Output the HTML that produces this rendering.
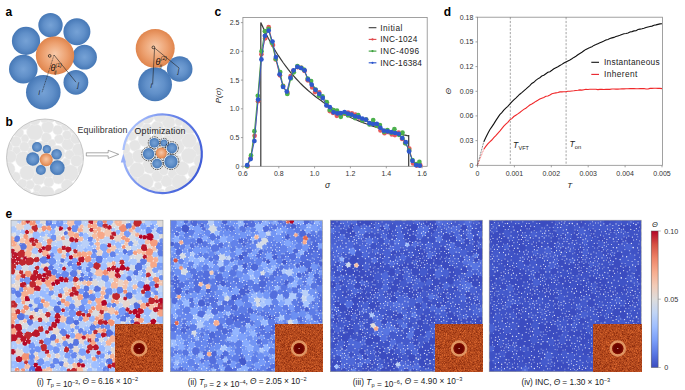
<!DOCTYPE html>
<html><head><meta charset="utf-8"><style>
html,body{margin:0;padding:0;background:#fff;}
svg{display:block;font-family:"Liberation Sans", sans-serif;}
</style></head><body>
<svg width="685" height="390" viewBox="0 0 685 390">
<defs>
<radialGradient id="gb" cx="0.5" cy="0.5" r="0.5" fx="0.5" fy="0.5">
 <stop offset="0" stop-color="#76a2d6"/><stop offset="0.55" stop-color="#6190c9"/><stop offset="1" stop-color="#4678b6"/></radialGradient>
<radialGradient id="go" cx="0.5" cy="0.5" r="0.5" fx="0.5" fy="0.45">
 <stop offset="0" stop-color="#f7c9a8"/><stop offset="0.6" stop-color="#eda272"/><stop offset="1" stop-color="#e0854d"/></radialGradient>
<linearGradient id="ring" x1="0" y1="0.3" x2="1" y2="0.7">
 <stop offset="0" stop-color="#b0c6ff"/><stop offset="0.45" stop-color="#6a86ea"/><stop offset="1" stop-color="#3d5ad6"/></linearGradient>
<linearGradient id="cbar" x1="0" y1="1" x2="0" y2="0">
<stop offset="0.00" stop-color="#3b4cc0"/><stop offset="0.10" stop-color="#5977e3"/><stop offset="0.20" stop-color="#7b9ff9"/><stop offset="0.30" stop-color="#9ebeff"/><stop offset="0.40" stop-color="#c0d4f5"/><stop offset="0.50" stop-color="#dddcdc"/><stop offset="0.60" stop-color="#f2cbb7"/><stop offset="0.70" stop-color="#f7ac8e"/><stop offset="0.80" stop-color="#ee8468"/><stop offset="0.90" stop-color="#d65244"/><stop offset="1.00" stop-color="#b40426"/>
</linearGradient>
<filter id="noise" x="0" y="0" width="100%" height="100%" color-interpolation-filters="sRGB">
 <feTurbulence type="fractalNoise" baseFrequency="1.5" numOctaves="2" seed="3" result="t"/>
 <feColorMatrix in="t" type="matrix" values="0.6 0 0 0 0.40  0.45 0 0 0 0.06  0.25 0 0 0 -0.01  0 0 0 0 1"/>
</filter>
<filter id="blur1" x="-20%" y="-20%" width="140%" height="140%"><feGaussianBlur stdDeviation="0.6"/></filter>
</defs>
<text x="5.6" y="16.2" font-size="12" text-anchor="start" fill="#000" font-weight="bold" font-style="normal" >a</text>
<text x="5.6" y="126.3" font-size="12" text-anchor="start" fill="#000" font-weight="bold" font-style="normal" >b</text>
<text x="214.6" y="16.2" font-size="12" text-anchor="start" fill="#000" font-weight="bold" font-style="normal" >c</text>
<text x="443.8" y="16.2" font-size="12" text-anchor="start" fill="#000" font-weight="bold" font-style="normal" >d</text>
<text x="5.6" y="217.6" font-size="12" text-anchor="start" fill="#000" font-weight="bold" font-style="normal" >e</text>
<circle cx="50.5" cy="25.1" r="12.2" fill="url(#gb)"/>
<circle cx="76.9" cy="31.8" r="13.5" fill="url(#gb)"/>
<circle cx="26" cy="40.9" r="14.1" fill="url(#gb)"/>
<circle cx="84.5" cy="57.2" r="12.4" fill="url(#gb)"/>
<circle cx="23.3" cy="69.1" r="14.3" fill="url(#gb)"/>
<circle cx="43.3" cy="92.2" r="17.3" fill="url(#gb)"/>
<circle cx="75.9" cy="82.3" r="12.4" fill="url(#gb)"/>
<circle cx="55" cy="55.6" r="19.2" fill="url(#go)"/>
<path d="M54,55 L42,92.4" stroke="#222" stroke-width="0.6" fill="none" stroke-dasharray="1.1,0.6"/>
<path d="M54,55 L76,82.2" stroke="#222" stroke-width="0.6" fill="none"/>
<circle cx="49.7" cy="55.9" r="1.35" fill="none" stroke="#111" stroke-width="0.7"/>
<text x="50.4" y="70.9" font-size="9" text-anchor="start" fill="#111" font-weight="normal" font-style="italic" >θ</text>
<text x="55.6" y="66.6" font-size="5" text-anchor="start" fill="#111" font-weight="normal" font-style="italic" >(1)</text>
<text x="54.2" y="74.0" font-size="5" text-anchor="start" fill="#111" font-weight="normal" font-style="italic" >ij</text>
<text x="38.4" y="95.4" font-size="6.5" text-anchor="start" fill="#111" font-weight="normal" font-style="italic" >i</text>
<text x="77.4" y="86.6" font-size="6.5" text-anchor="start" fill="#111" font-weight="normal" font-style="italic" >j</text>
<circle cx="155.2" cy="48.4" r="19.5" fill="url(#go)"/>
<circle cx="155.1" cy="84.4" r="16.9" fill="url(#gb)"/>
<circle cx="179.7" cy="69.0" r="12.8" fill="url(#gb)"/>
<path d="M154.6,48 L152.6,84.5 M154.6,48 L179.2,68.1" stroke="#222" stroke-width="0.6" fill="none"/>
<circle cx="153.4" cy="47.4" r="1.35" fill="none" stroke="#111" stroke-width="0.7"/>
<text x="155.6" y="64.6" font-size="9" text-anchor="start" fill="#111" font-weight="normal" font-style="italic" >θ</text>
<text x="160.8" y="60.2" font-size="5" text-anchor="start" fill="#111" font-weight="normal" font-style="italic" >(2)</text>
<text x="159.6" y="67.8" font-size="5" text-anchor="start" fill="#111" font-weight="normal" font-style="italic" >ij</text>
<text x="150.6" y="88.0" font-size="6.5" text-anchor="start" fill="#111" font-weight="normal" font-style="italic" >i</text>
<text x="177.8" y="73.2" font-size="6.5" text-anchor="start" fill="#111" font-weight="normal" font-style="italic" >j</text>
<circle cx="45" cy="157.5" r="38.5" fill="#ffffff"/>
<clipPath id="cp11"><circle cx="45" cy="157.5" r="38.5"/></clipPath><g clip-path="url(#cp11)" fill="#e5e5e5" stroke="#efefef" stroke-width="0.6">
<circle cx="24.0" cy="194.5" r="7.5"/>
<circle cx="16.5" cy="150.4" r="4.0"/>
<circle cx="67.8" cy="144.3" r="6.0"/>
<circle cx="18.6" cy="132.8" r="5.1"/>
<circle cx="58.4" cy="166.5" r="6.0"/>
<circle cx="25.0" cy="138.4" r="3.9"/>
<circle cx="37.3" cy="188.6" r="3.9"/>
<circle cx="51.1" cy="118.3" r="4.2"/>
<circle cx="46.4" cy="194.0" r="8.1"/>
<circle cx="30.0" cy="184.7" r="4.6"/>
<circle cx="76.1" cy="138.4" r="5.6"/>
<circle cx="34.8" cy="132.1" r="8.2"/>
<circle cx="37.4" cy="167.1" r="6.2"/>
<circle cx="65.5" cy="126.5" r="4.3"/>
<circle cx="80.5" cy="118.8" r="4.9"/>
<circle cx="84.3" cy="141.9" r="4.0"/>
<circle cx="6.0" cy="118.5" r="4.5"/>
<circle cx="14.2" cy="118.6" r="4.6"/>
<circle cx="84.4" cy="157.0" r="3.8"/>
<circle cx="24.1" cy="122.6" r="7.0"/>
<circle cx="42.5" cy="148.5" r="7.4"/>
<circle cx="16.0" cy="141.5" r="5.3"/>
<circle cx="60.6" cy="119.4" r="5.8"/>
<circle cx="70.9" cy="195.7" r="5.6"/>
<circle cx="75.1" cy="128.3" r="5.9"/>
<circle cx="70.2" cy="173.1" r="8.3"/>
<circle cx="10.2" cy="127.0" r="5.5"/>
<circle cx="31.7" cy="151.3" r="4.1"/>
<circle cx="47.1" cy="160.0" r="6.1"/>
<circle cx="47.6" cy="127.1" r="6.1"/>
<circle cx="82.2" cy="181.5" r="7.1"/>
<circle cx="14.2" cy="188.3" r="6.0"/>
<circle cx="67.0" cy="135.0" r="4.6"/>
<circle cx="66.3" cy="162.0" r="3.9"/>
<circle cx="46.3" cy="137.7" r="5.0"/>
<circle cx="6.9" cy="180.6" r="5.8"/>
<circle cx="78.4" cy="149.8" r="6.3"/>
<circle cx="58.3" cy="178.0" r="6.0"/>
<circle cx="6.8" cy="136.3" r="5.6"/>
<circle cx="6.8" cy="195.7" r="5.7"/>
<circle cx="32.3" cy="143.7" r="4.4"/>
<circle cx="69.6" cy="154.8" r="4.8"/>
<circle cx="35.6" cy="196.2" r="4.9"/>
<circle cx="51.9" cy="143.2" r="3.9"/>
<circle cx="23.4" cy="159.3" r="7.9"/>
<circle cx="36.3" cy="157.2" r="4.0"/>
<circle cx="57.0" cy="153.3" r="8.0"/>
<circle cx="60.5" cy="195.0" r="6.7"/>
<circle cx="84.1" cy="126.7" r="4.3"/>
<circle cx="59.1" cy="139.1" r="4.7"/>
<circle cx="44.1" cy="118.5" r="4.4"/>
<circle cx="83.1" cy="169.6" r="5.7"/>
<circle cx="84.4" cy="134.5" r="3.9"/>
<circle cx="24.4" cy="146.7" r="4.9"/>
<circle cx="38.8" cy="178.4" r="6.4"/>
<circle cx="48.8" cy="182.0" r="5.1"/>
<circle cx="6.9" cy="147.3" r="5.8"/>
<circle cx="15.5" cy="176.9" r="5.0"/>
<circle cx="76.5" cy="160.8" r="5.8"/>
<circle cx="7.8" cy="169.3" r="7.2"/>
<circle cx="48.2" cy="172.0" r="6.0"/>
<circle cx="27.2" cy="172.7" r="7.4"/>
<circle cx="82.3" cy="194.8" r="7.0"/>
<circle cx="70.6" cy="119.0" r="5.2"/>
<circle cx="57.7" cy="130.1" r="4.9"/>
<circle cx="10.3" cy="156.8" r="6.1"/>
<circle cx="67.2" cy="185.5" r="6.0"/>
<circle cx="22.3" cy="183.6" r="4.6"/>
<circle cx="34.5" cy="119.4" r="5.8"/>
</g>
<circle cx="45" cy="157.5" r="38.5" fill="none" stroke="#a8a8a8" stroke-width="0.6"/>
<circle cx="37" cy="147" r="5" fill="url(#gb)"/>
<circle cx="46.9" cy="149.3" r="4.2" fill="url(#gb)"/>
<circle cx="56.6" cy="154.3" r="5.3" fill="url(#gb)"/>
<circle cx="32.8" cy="159" r="6.7" fill="url(#gb)"/>
<circle cx="57.3" cy="167.7" r="7.4" fill="url(#gb)"/>
<circle cx="40.9" cy="170" r="5" fill="url(#gb)"/>
<circle cx="46.2" cy="159.7" r="6.5" fill="url(#go)"/>
<text x="77.5" y="133.0" font-size="8.8" text-anchor="start" fill="#333" font-weight="normal" font-style="normal" textLength="50.0">Equilibration</text>
<path d="M86.3,152.8 L108.2,152.8 L108.2,150.3 L118.7,154.3 L108.2,158.4 L108.2,155.9 L86.3,155.9 Z" fill="#fff" stroke="#555" stroke-width="0.5"/>
<circle cx="162.5" cy="153.6" r="39.3" fill="#ffffff"/>
<clipPath id="cp12"><circle cx="162.5" cy="153.6" r="39.3"/></clipPath><g clip-path="url(#cp12)" fill="#e5e5e5" stroke="#efefef" stroke-width="0.6">
<circle cx="179.2" cy="192.8" r="4.2"/>
<circle cx="124.2" cy="172.5" r="5.5"/>
<circle cx="123.7" cy="131.1" r="4.8"/>
<circle cx="123.6" cy="122.7" r="4.6"/>
<circle cx="124.6" cy="191.5" r="6.1"/>
<circle cx="150.6" cy="165.5" r="8.1"/>
<circle cx="176.3" cy="146.7" r="8.0"/>
<circle cx="166.8" cy="181.1" r="6.0"/>
<circle cx="199.8" cy="148.5" r="6.9"/>
<circle cx="153.8" cy="192.1" r="5.1"/>
<circle cx="172.5" cy="173.8" r="4.6"/>
<circle cx="188.0" cy="192.0" r="5.4"/>
<circle cx="166.9" cy="155.9" r="5.6"/>
<circle cx="199.4" cy="190.5" r="7.5"/>
<circle cx="133.4" cy="180.5" r="4.9"/>
<circle cx="157.6" cy="137.7" r="5.4"/>
<circle cx="191.4" cy="182.4" r="4.9"/>
<circle cx="201.7" cy="179.7" r="4.1"/>
<circle cx="139.8" cy="123.7" r="3.9"/>
<circle cx="131.5" cy="126.6" r="4.4"/>
<circle cx="157.2" cy="176.3" r="5.7"/>
<circle cx="189.1" cy="140.5" r="7.5"/>
<circle cx="158.2" cy="185.7" r="3.8"/>
<circle cx="147.1" cy="128.6" r="5.1"/>
<circle cx="134.2" cy="116.2" r="6.8"/>
<circle cx="145.4" cy="181.7" r="8.0"/>
<circle cx="179.0" cy="121.7" r="4.2"/>
<circle cx="161.8" cy="162.9" r="3.9"/>
<circle cx="174.8" cy="114.4" r="4.1"/>
<circle cx="131.8" cy="136.2" r="4.6"/>
<circle cx="157.4" cy="155.1" r="4.7"/>
<circle cx="134.9" cy="145.5" r="5.6"/>
<circle cx="161.3" cy="193.0" r="3.9"/>
<circle cx="137.0" cy="170.1" r="7.6"/>
<circle cx="170.6" cy="191.6" r="5.9"/>
<circle cx="200.9" cy="115.2" r="5.4"/>
<circle cx="126.0" cy="159.3" r="8.2"/>
<circle cx="153.5" cy="146.9" r="5.0"/>
<circle cx="163.8" cy="170.8" r="4.5"/>
<circle cx="168.6" cy="122.2" r="6.4"/>
<circle cx="194.7" cy="172.3" r="6.8"/>
<circle cx="157.2" cy="127.3" r="6.2"/>
<circle cx="146.8" cy="116.5" r="7.2"/>
<circle cx="145.1" cy="192.9" r="4.1"/>
<circle cx="176.9" cy="133.5" r="7.7"/>
<circle cx="201.5" cy="124.6" r="4.5"/>
<circle cx="124.4" cy="148.5" r="5.7"/>
<circle cx="149.4" cy="153.5" r="4.4"/>
<circle cx="124.1" cy="181.4" r="5.3"/>
<circle cx="188.9" cy="155.7" r="7.8"/>
<circle cx="162.4" cy="147.1" r="4.7"/>
<circle cx="190.2" cy="125.8" r="8.2"/>
<circle cx="171.2" cy="164.1" r="5.2"/>
<circle cx="179.4" cy="181.8" r="7.7"/>
<circle cx="183.5" cy="115.1" r="5.2"/>
<circle cx="123.7" cy="138.6" r="4.8"/>
<circle cx="139.1" cy="156.2" r="6.8"/>
<circle cx="201.5" cy="134.6" r="4.5"/>
<circle cx="136.3" cy="191.0" r="6.8"/>
<circle cx="138.3" cy="131.7" r="4.5"/>
<circle cx="123.7" cy="114.8" r="4.8"/>
<circle cx="200.2" cy="161.1" r="6.4"/>
<circle cx="167.2" cy="139.9" r="4.8"/>
<circle cx="159.8" cy="115.9" r="6.4"/>
<circle cx="165.6" cy="131.6" r="4.2"/>
<circle cx="177.3" cy="159.2" r="4.2"/>
<circle cx="192.3" cy="114.3" r="4.1"/>
<circle cx="182.1" cy="168.6" r="7.1"/>
<circle cx="144.9" cy="139.6" r="6.8"/>
</g>
<path d="M 123.4,150.0 A 39.3 39.3 0 1 1 124.1,162.0" fill="none" stroke="url(#ring)" stroke-width="2.2"/>
<path d="M123.3,153.6 L120.8,162.6 L126.0,162.6 Z" fill="#98b0f8"/>
<text x="134.6" y="133.6" font-size="8.8" text-anchor="start" fill="#222" font-weight="normal" font-style="normal" textLength="50.8">Optimization</text>
<circle cx="154.3" cy="142.8" r="5.699999999999999" fill="#f6f6f6"/>
<circle cx="164" cy="143" r="4.3" fill="#f6f6f6"/>
<circle cx="171.9" cy="148.1" r="6.1" fill="#f6f6f6"/>
<circle cx="148.6" cy="153.9" r="6.6" fill="#f6f6f6"/>
<circle cx="171" cy="161.7" r="7.5" fill="#f6f6f6"/>
<circle cx="157.1" cy="163.6" r="5.699999999999999" fill="#f6f6f6"/>
<circle cx="154.3" cy="142.8" r="4.8999999999999995" fill="url(#gb)"/>
<circle cx="164" cy="143" r="3.5" fill="url(#gb)"/>
<circle cx="171.9" cy="148.1" r="5.3" fill="url(#gb)"/>
<circle cx="148.6" cy="153.9" r="5.8" fill="url(#gb)"/>
<circle cx="171" cy="161.7" r="6.7" fill="url(#gb)"/>
<circle cx="157.1" cy="163.6" r="4.8999999999999995" fill="url(#gb)"/>
<circle cx="154.3" cy="142.8" r="6.0" fill="none" stroke="#111" stroke-width="0.75" stroke-dasharray="1.5,1"/>
<circle cx="164" cy="143" r="4.6000000000000005" fill="none" stroke="#111" stroke-width="0.75" stroke-dasharray="1.5,1"/>
<circle cx="171.9" cy="148.1" r="6.4" fill="none" stroke="#111" stroke-width="0.75" stroke-dasharray="1.5,1"/>
<circle cx="148.6" cy="153.9" r="6.9" fill="none" stroke="#111" stroke-width="0.75" stroke-dasharray="1.5,1"/>
<circle cx="171" cy="161.7" r="7.800000000000001" fill="none" stroke="#111" stroke-width="0.75" stroke-dasharray="1.5,1"/>
<circle cx="157.1" cy="163.6" r="6.0" fill="none" stroke="#111" stroke-width="0.75" stroke-dasharray="1.5,1"/>
<circle cx="161.3" cy="153" r="5.5" fill="url(#go)"/>
<rect x="242.9" y="17.4" width="184.29999999999998" height="148.9" fill="none" stroke="#8a8a8a" stroke-width="0.8"/>
<line x1="240.9" y1="166.3" x2="242.9" y2="166.3" stroke="#8a8a8a" stroke-width="0.8"/>
<text x="239.4" y="168.8" font-size="7" text-anchor="end" fill="#333" font-weight="normal" font-style="normal" >0</text>
<line x1="240.9" y1="137.6" x2="242.9" y2="137.6" stroke="#8a8a8a" stroke-width="0.8"/>
<text x="239.4" y="140.05" font-size="7" text-anchor="end" fill="#333" font-weight="normal" font-style="normal" >0.5</text>
<line x1="240.9" y1="108.8" x2="242.9" y2="108.8" stroke="#8a8a8a" stroke-width="0.8"/>
<text x="239.4" y="111.30000000000001" font-size="7" text-anchor="end" fill="#333" font-weight="normal" font-style="normal" >1.0</text>
<line x1="240.9" y1="80.1" x2="242.9" y2="80.1" stroke="#8a8a8a" stroke-width="0.8"/>
<text x="239.4" y="82.55000000000001" font-size="7" text-anchor="end" fill="#333" font-weight="normal" font-style="normal" >1.5</text>
<line x1="240.9" y1="51.3" x2="242.9" y2="51.3" stroke="#8a8a8a" stroke-width="0.8"/>
<text x="239.4" y="53.80000000000001" font-size="7" text-anchor="end" fill="#333" font-weight="normal" font-style="normal" >2.0</text>
<line x1="240.9" y1="22.6" x2="242.9" y2="22.6" stroke="#8a8a8a" stroke-width="0.8"/>
<text x="239.4" y="25.05000000000001" font-size="7" text-anchor="end" fill="#333" font-weight="normal" font-style="normal" >2.5</text>
<line x1="242.9" y1="166.3" x2="242.9" y2="168.3" stroke="#8a8a8a" stroke-width="0.8"/>
<text x="242.9" y="176.4" font-size="7" text-anchor="middle" fill="#333" font-weight="normal" font-style="normal" >0.6</text>
<line x1="278.8" y1="166.3" x2="278.8" y2="168.3" stroke="#8a8a8a" stroke-width="0.8"/>
<text x="278.75" y="176.4" font-size="7" text-anchor="middle" fill="#333" font-weight="normal" font-style="normal" >0.8</text>
<line x1="314.6" y1="166.3" x2="314.6" y2="168.3" stroke="#8a8a8a" stroke-width="0.8"/>
<text x="314.6" y="176.4" font-size="7" text-anchor="middle" fill="#333" font-weight="normal" font-style="normal" >1.0</text>
<line x1="350.4" y1="166.3" x2="350.4" y2="168.3" stroke="#8a8a8a" stroke-width="0.8"/>
<text x="350.45" y="176.4" font-size="7" text-anchor="middle" fill="#333" font-weight="normal" font-style="normal" >1.2</text>
<line x1="386.3" y1="166.3" x2="386.3" y2="168.3" stroke="#8a8a8a" stroke-width="0.8"/>
<text x="386.29999999999995" y="176.4" font-size="7" text-anchor="middle" fill="#333" font-weight="normal" font-style="normal" >1.4</text>
<line x1="422.1" y1="166.3" x2="422.1" y2="168.3" stroke="#8a8a8a" stroke-width="0.8"/>
<text x="422.15" y="176.4" font-size="7" text-anchor="middle" fill="#333" font-weight="normal" font-style="normal" >1.6</text>
<text x="327.6" y="188.2" font-size="8.5" text-anchor="middle" fill="#222" font-weight="normal" font-style="italic" >σ</text>
<text x="0" y="0" font-size="8" font-style="italic" fill="#222" text-anchor="middle" transform="translate(220.6,95.5) rotate(-90)">P(σ)</text>
<polyline points="260.8,166.3 260.8,22.6 263.3,28.1 265.8,33.4 268.3,38.3 270.9,43.0 273.4,47.5 275.9,51.7 278.4,55.7 280.9,59.4 283.4,63.0 285.9,66.4 288.4,69.7 290.9,72.8 293.4,75.7 295.9,78.5 298.4,81.2 300.9,83.8 303.4,86.2 305.9,88.5 308.4,90.8 311.0,92.9 313.5,95.0 316.0,96.9 318.5,98.8 321.0,100.6 323.5,102.4 326.0,104.0 328.5,105.6 331.0,107.2 333.5,108.7 336.0,110.1 338.5,111.5 341.0,112.8 343.5,114.1 346.0,115.3 348.6,116.5 351.1,117.7 353.6,118.8 356.1,119.8 358.6,120.9 361.1,121.9 363.6,122.9 366.1,123.8 368.6,124.7 371.1,125.6 373.6,126.4 376.1,127.3 378.6,128.1 381.1,128.8 383.6,129.6 386.1,130.3 388.7,131.0 391.2,131.7 393.7,132.4 396.2,133.0 398.7,133.7 401.2,134.3 403.7,134.9 406.2,135.4 408.7,136.0 408.7,135.0 408.7,166.3" fill="none" stroke="#3a3a3a" stroke-width="1.2"/>
<polyline points="247.6,166.3 250.6,158.3 254.6,135.8 258.0,101.2 261.4,54.2 265.2,38.3 268.7,27.2 273.0,45.0 275.7,59.4 279.9,75.3 283.1,85.8 287.4,92.7 290.7,76.1 293.2,70.8 297.9,67.2 301.3,67.9 304.6,70.9 307.7,80.3 312.2,87.4 315.0,92.1 319.2,92.4 322.3,97.3 326.9,105.3 329.8,111.1 332.9,112.8 336.8,115.8 340.6,115.3 344.4,113.7 348.0,112.5 351.9,113.3 355.4,114.6 358.5,117.3 361.7,119.4 366.1,119.8 369.9,123.9 372.9,123.5 376.6,125.5 380.5,130.4 384.5,133.2 388.2,132.1 391.8,134.5 394.9,135.1 398.6,132.6 402.0,138.8 405.1,143.0 409.3,148.7 413.1,163.4 416.9,165.6 420.3,165.2" fill="none" stroke="#e05050" stroke-width="0.9"/>
<g fill="#e8595b"><circle cx="247.6" cy="166.3" r="2.35"/><circle cx="250.6" cy="158.3" r="2.35"/><circle cx="254.6" cy="135.8" r="2.35"/><circle cx="258.0" cy="101.2" r="2.35"/><circle cx="261.4" cy="54.2" r="2.35"/><circle cx="265.2" cy="38.3" r="2.35"/><circle cx="268.7" cy="27.2" r="2.35"/><circle cx="273.0" cy="45.0" r="2.35"/><circle cx="275.7" cy="59.4" r="2.35"/><circle cx="279.9" cy="75.3" r="2.35"/><circle cx="283.1" cy="85.8" r="2.35"/><circle cx="287.4" cy="92.7" r="2.35"/><circle cx="290.7" cy="76.1" r="2.35"/><circle cx="293.2" cy="70.8" r="2.35"/><circle cx="297.9" cy="67.2" r="2.35"/><circle cx="301.3" cy="67.9" r="2.35"/><circle cx="304.6" cy="70.9" r="2.35"/><circle cx="307.7" cy="80.3" r="2.35"/><circle cx="312.2" cy="87.4" r="2.35"/><circle cx="315.0" cy="92.1" r="2.35"/><circle cx="319.2" cy="92.4" r="2.35"/><circle cx="322.3" cy="97.3" r="2.35"/><circle cx="326.9" cy="105.3" r="2.35"/><circle cx="329.8" cy="111.1" r="2.35"/><circle cx="332.9" cy="112.8" r="2.35"/><circle cx="336.8" cy="115.8" r="2.35"/><circle cx="340.6" cy="115.3" r="2.35"/><circle cx="344.4" cy="113.7" r="2.35"/><circle cx="348.0" cy="112.5" r="2.35"/><circle cx="351.9" cy="113.3" r="2.35"/><circle cx="355.4" cy="114.6" r="2.35"/><circle cx="358.5" cy="117.3" r="2.35"/><circle cx="361.7" cy="119.4" r="2.35"/><circle cx="366.1" cy="119.8" r="2.35"/><circle cx="369.9" cy="123.9" r="2.35"/><circle cx="372.9" cy="123.5" r="2.35"/><circle cx="376.6" cy="125.5" r="2.35"/><circle cx="380.5" cy="130.4" r="2.35"/><circle cx="384.5" cy="133.2" r="2.35"/><circle cx="388.2" cy="132.1" r="2.35"/><circle cx="391.8" cy="134.5" r="2.35"/><circle cx="394.9" cy="135.1" r="2.35"/><circle cx="398.6" cy="132.6" r="2.35"/><circle cx="402.0" cy="138.8" r="2.35"/><circle cx="405.1" cy="143.0" r="2.35"/><circle cx="409.3" cy="148.7" r="2.35"/><circle cx="413.1" cy="163.4" r="2.35"/><circle cx="416.9" cy="165.6" r="2.35"/><circle cx="420.3" cy="165.2" r="2.35"/></g>
<polyline points="247.1,166.1 251.0,155.4 254.4,131.2 257.8,95.8 261.5,51.3 264.9,31.2 268.6,28.8 271.8,42.8 275.7,59.0 280.2,72.1 283.0,86.1 287.3,94.0 290.8,78.4 293.8,72.3 297.4,66.0 301.3,67.9 303.9,69.7 307.7,78.5 311.1,81.0 315.6,89.6 319.0,95.7 322.5,96.3 326.8,102.2 329.7,110.0 333.4,110.1 337.0,110.6 340.8,116.8 344.6,113.0 347.9,115.3 350.9,115.1 355.1,118.1 358.2,115.0 362.3,120.4 366.2,119.5 369.5,124.4 373.2,120.1 376.9,125.7 379.9,125.1 384.1,131.8 387.4,130.1 391.2,132.7 394.4,129.2 399.2,134.9 402.5,132.7 405.4,143.3 409.1,150.4 412.4,160.1 416.2,164.1 419.4,161.9" fill="none" stroke="#3ca03c" stroke-width="0.9"/>
<g fill="#4cb04c"><circle cx="247.1" cy="166.1" r="2.35"/><circle cx="251.0" cy="155.4" r="2.35"/><circle cx="254.4" cy="131.2" r="2.35"/><circle cx="257.8" cy="95.8" r="2.35"/><circle cx="261.5" cy="51.3" r="2.35"/><circle cx="264.9" cy="31.2" r="2.35"/><circle cx="268.6" cy="28.8" r="2.35"/><circle cx="271.8" cy="42.8" r="2.35"/><circle cx="275.7" cy="59.0" r="2.35"/><circle cx="280.2" cy="72.1" r="2.35"/><circle cx="283.0" cy="86.1" r="2.35"/><circle cx="287.3" cy="94.0" r="2.35"/><circle cx="290.8" cy="78.4" r="2.35"/><circle cx="293.8" cy="72.3" r="2.35"/><circle cx="297.4" cy="66.0" r="2.35"/><circle cx="301.3" cy="67.9" r="2.35"/><circle cx="303.9" cy="69.7" r="2.35"/><circle cx="307.7" cy="78.5" r="2.35"/><circle cx="311.1" cy="81.0" r="2.35"/><circle cx="315.6" cy="89.6" r="2.35"/><circle cx="319.0" cy="95.7" r="2.35"/><circle cx="322.5" cy="96.3" r="2.35"/><circle cx="326.8" cy="102.2" r="2.35"/><circle cx="329.7" cy="110.0" r="2.35"/><circle cx="333.4" cy="110.1" r="2.35"/><circle cx="337.0" cy="110.6" r="2.35"/><circle cx="340.8" cy="116.8" r="2.35"/><circle cx="344.6" cy="113.0" r="2.35"/><circle cx="347.9" cy="115.3" r="2.35"/><circle cx="350.9" cy="115.1" r="2.35"/><circle cx="355.1" cy="118.1" r="2.35"/><circle cx="358.2" cy="115.0" r="2.35"/><circle cx="362.3" cy="120.4" r="2.35"/><circle cx="366.2" cy="119.5" r="2.35"/><circle cx="369.5" cy="124.4" r="2.35"/><circle cx="373.2" cy="120.1" r="2.35"/><circle cx="376.9" cy="125.7" r="2.35"/><circle cx="379.9" cy="125.1" r="2.35"/><circle cx="384.1" cy="131.8" r="2.35"/><circle cx="387.4" cy="130.1" r="2.35"/><circle cx="391.2" cy="132.7" r="2.35"/><circle cx="394.4" cy="129.2" r="2.35"/><circle cx="399.2" cy="134.9" r="2.35"/><circle cx="402.5" cy="132.7" r="2.35"/><circle cx="405.4" cy="143.3" r="2.35"/><circle cx="409.1" cy="150.4" r="2.35"/><circle cx="412.4" cy="160.1" r="2.35"/><circle cx="416.2" cy="164.1" r="2.35"/><circle cx="419.4" cy="161.9" r="2.35"/></g>
<polyline points="247.2,165.2 250.6,159.1 254.4,141.0 258.1,99.6 261.4,59.4 264.9,35.8 268.7,30.6 272.5,41.5 275.9,57.1 279.6,74.3 283.1,87.0 286.8,91.6 290.4,77.8 293.6,70.3 297.4,66.8 301.0,68.0 304.6,70.3 308.1,79.5 311.7,84.7 315.5,89.8 319.3,93.9 322.7,97.9 326.4,105.4 329.8,107.1 333.6,112.3 337.4,113.4 340.8,113.1 344.5,112.0 347.9,113.7 351.5,114.6 355.1,116.3 358.9,117.1 362.3,118.6 365.9,119.7 369.5,123.2 373.0,124.0 376.8,123.8 380.4,127.8 383.8,130.7 387.7,131.4 391.5,132.2 395.1,133.0 398.7,133.8 402.3,138.1 405.8,142.2 409.1,151.4 412.5,160.9 416.2,165.2 419.8,165.7" fill="none" stroke="#2a55cc" stroke-width="0.9"/>
<g fill="#2f58cc"><circle cx="247.2" cy="165.2" r="2.35"/><circle cx="250.6" cy="159.1" r="2.35"/><circle cx="254.4" cy="141.0" r="2.35"/><circle cx="258.1" cy="99.6" r="2.35"/><circle cx="261.4" cy="59.4" r="2.35"/><circle cx="264.9" cy="35.8" r="2.35"/><circle cx="268.7" cy="30.6" r="2.35"/><circle cx="272.5" cy="41.5" r="2.35"/><circle cx="275.9" cy="57.1" r="2.35"/><circle cx="279.6" cy="74.3" r="2.35"/><circle cx="283.1" cy="87.0" r="2.35"/><circle cx="286.8" cy="91.6" r="2.35"/><circle cx="290.4" cy="77.8" r="2.35"/><circle cx="293.6" cy="70.3" r="2.35"/><circle cx="297.4" cy="66.8" r="2.35"/><circle cx="301.0" cy="68.0" r="2.35"/><circle cx="304.6" cy="70.3" r="2.35"/><circle cx="308.1" cy="79.5" r="2.35"/><circle cx="311.7" cy="84.7" r="2.35"/><circle cx="315.5" cy="89.8" r="2.35"/><circle cx="319.3" cy="93.9" r="2.35"/><circle cx="322.7" cy="97.9" r="2.35"/><circle cx="326.4" cy="105.4" r="2.35"/><circle cx="329.8" cy="107.1" r="2.35"/><circle cx="333.6" cy="112.3" r="2.35"/><circle cx="337.4" cy="113.4" r="2.35"/><circle cx="340.8" cy="113.1" r="2.35"/><circle cx="344.5" cy="112.0" r="2.35"/><circle cx="347.9" cy="113.7" r="2.35"/><circle cx="351.5" cy="114.6" r="2.35"/><circle cx="355.1" cy="116.3" r="2.35"/><circle cx="358.9" cy="117.1" r="2.35"/><circle cx="362.3" cy="118.6" r="2.35"/><circle cx="365.9" cy="119.7" r="2.35"/><circle cx="369.5" cy="123.2" r="2.35"/><circle cx="373.0" cy="124.0" r="2.35"/><circle cx="376.8" cy="123.8" r="2.35"/><circle cx="380.4" cy="127.8" r="2.35"/><circle cx="383.8" cy="130.7" r="2.35"/><circle cx="387.7" cy="131.4" r="2.35"/><circle cx="391.5" cy="132.2" r="2.35"/><circle cx="395.1" cy="133.0" r="2.35"/><circle cx="398.7" cy="133.8" r="2.35"/><circle cx="402.3" cy="138.1" r="2.35"/><circle cx="405.8" cy="142.2" r="2.35"/><circle cx="409.1" cy="151.4" r="2.35"/><circle cx="412.5" cy="160.9" r="2.35"/><circle cx="416.2" cy="165.2" r="2.35"/><circle cx="419.8" cy="165.7" r="2.35"/></g>
<line x1="368.7" y1="27.7" x2="376.4" y2="27.7" stroke="#3a3a3a" stroke-width="1.1"/>
<text x="380.3" y="30.599999999999998" font-size="8.3" text-anchor="start" fill="#222" font-weight="normal" font-style="normal" textLength="22.0">Initial</text>
<line x1="368.7" y1="39.4" x2="376.4" y2="39.4" stroke="#e0484a" stroke-width="1.1"/>
<circle cx="372.5" cy="39.4" r="1.1" fill="#e0484a"/>
<text x="380.3" y="42.3" font-size="8.3" text-anchor="start" fill="#222" font-weight="normal" font-style="normal" textLength="37.0">INC-1024</text>
<line x1="368.7" y1="51.099999999999994" x2="376.4" y2="51.099999999999994" stroke="#3ca03c" stroke-width="1.1"/>
<circle cx="372.5" cy="51.099999999999994" r="1.1" fill="#3ca03c"/>
<text x="380.3" y="53.99999999999999" font-size="8.3" text-anchor="start" fill="#222" font-weight="normal" font-style="normal" textLength="38.8">INC-4096</text>
<line x1="368.7" y1="62.8" x2="376.4" y2="62.8" stroke="#2a55cc" stroke-width="1.1"/>
<circle cx="372.5" cy="62.8" r="1.1" fill="#2a55cc"/>
<text x="380.3" y="65.7" font-size="8.3" text-anchor="start" fill="#222" font-weight="normal" font-style="normal" textLength="41.6">INC-16384</text>
<rect x="477.5" y="17.2" width="185.0" height="148.10000000000002" fill="none" stroke="#8a8a8a" stroke-width="0.8"/>
<line x1="475.5" y1="165.3" x2="477.5" y2="165.3" stroke="#8a8a8a" stroke-width="0.8"/>
<text x="473.4" y="167.8" font-size="7" text-anchor="end" fill="#333" font-weight="normal" font-style="normal" >0</text>
<line x1="475.5" y1="140.6" x2="477.5" y2="140.6" stroke="#8a8a8a" stroke-width="0.8"/>
<text x="473.4" y="143.12" font-size="7" text-anchor="end" fill="#333" font-weight="normal" font-style="normal" >0.03</text>
<line x1="475.5" y1="115.9" x2="477.5" y2="115.9" stroke="#8a8a8a" stroke-width="0.8"/>
<text x="473.4" y="118.44000000000001" font-size="7" text-anchor="end" fill="#333" font-weight="normal" font-style="normal" >0.06</text>
<line x1="475.5" y1="91.3" x2="477.5" y2="91.3" stroke="#8a8a8a" stroke-width="0.8"/>
<text x="473.4" y="93.76000000000002" font-size="7" text-anchor="end" fill="#333" font-weight="normal" font-style="normal" >0.09</text>
<line x1="475.5" y1="66.6" x2="477.5" y2="66.6" stroke="#8a8a8a" stroke-width="0.8"/>
<text x="473.4" y="69.08000000000001" font-size="7" text-anchor="end" fill="#333" font-weight="normal" font-style="normal" >0.12</text>
<line x1="475.5" y1="41.9" x2="477.5" y2="41.9" stroke="#8a8a8a" stroke-width="0.8"/>
<text x="473.4" y="44.400000000000006" font-size="7" text-anchor="end" fill="#333" font-weight="normal" font-style="normal" >0.15</text>
<line x1="475.5" y1="17.2" x2="477.5" y2="17.2" stroke="#8a8a8a" stroke-width="0.8"/>
<text x="473.4" y="19.720000000000027" font-size="7" text-anchor="end" fill="#333" font-weight="normal" font-style="normal" >0.18</text>
<line x1="477.5" y1="165.3" x2="477.5" y2="167.3" stroke="#8a8a8a" stroke-width="0.8"/>
<text x="477.5" y="175.9" font-size="7" text-anchor="middle" fill="#333" font-weight="normal" font-style="normal" >0</text>
<line x1="514.4" y1="165.3" x2="514.4" y2="167.3" stroke="#8a8a8a" stroke-width="0.8"/>
<text x="514.4" y="175.9" font-size="7" text-anchor="middle" fill="#333" font-weight="normal" font-style="normal" >0.001</text>
<line x1="551.3" y1="165.3" x2="551.3" y2="167.3" stroke="#8a8a8a" stroke-width="0.8"/>
<text x="551.3" y="175.9" font-size="7" text-anchor="middle" fill="#333" font-weight="normal" font-style="normal" >0.002</text>
<line x1="588.2" y1="165.3" x2="588.2" y2="167.3" stroke="#8a8a8a" stroke-width="0.8"/>
<text x="588.2" y="175.9" font-size="7" text-anchor="middle" fill="#333" font-weight="normal" font-style="normal" >0.003</text>
<line x1="625.1" y1="165.3" x2="625.1" y2="167.3" stroke="#8a8a8a" stroke-width="0.8"/>
<text x="625.1" y="175.9" font-size="7" text-anchor="middle" fill="#333" font-weight="normal" font-style="normal" >0.004</text>
<line x1="662.0" y1="165.3" x2="662.0" y2="167.3" stroke="#8a8a8a" stroke-width="0.8"/>
<text x="662.0" y="175.9" font-size="7" text-anchor="middle" fill="#333" font-weight="normal" font-style="normal" >0.005</text>
<text x="569.6" y="188.3" font-size="8" text-anchor="middle" fill="#222" font-weight="normal" font-style="italic" >T</text>
<text x="0" y="0" font-size="8" font-style="italic" fill="#222" text-anchor="middle" transform="translate(450.8,91.2) rotate(-90)">Θ</text>
<line x1="510.3" y1="17.2" x2="510.3" y2="165.3" stroke="#666" stroke-width="0.6" stroke-dasharray="2.2,1.5"/>
<line x1="566.1" y1="17.2" x2="566.1" y2="165.3" stroke="#666" stroke-width="0.6" stroke-dasharray="2.2,1.5"/>
<text x="513.0" y="147.6" font-size="8.5" text-anchor="start" fill="#222" font-weight="normal" font-style="italic" >T</text>
<text x="518.6" y="149.8" font-size="5.5" text-anchor="start" fill="#222" font-weight="normal" font-style="normal" >VFT</text>
<text x="569.6" y="147.0" font-size="8.5" text-anchor="start" fill="#222" font-weight="normal" font-style="italic" >T</text>
<text x="574.8" y="149.4" font-size="5.8" text-anchor="start" fill="#222" font-weight="normal" font-style="normal" >on</text>
<polyline points="483.8,141.7 485.8,137.4 487.8,133.6 489.8,129.8 491.8,126.9 493.8,123.9 495.8,120.6 497.8,117.6 499.8,114.7 501.8,112.7 503.8,110.2 505.8,108.1 507.8,106.3 509.8,104.2 511.8,101.9 513.8,99.9 515.8,98.1 517.8,96.2 519.8,94.2 521.8,92.6 523.8,90.8 525.8,89.1 527.8,87.3 529.8,85.6 531.8,83.4 533.8,82.3 535.8,80.4 537.8,78.9 539.8,77.7 541.8,76.1 543.8,75.3 545.9,73.7 547.9,72.3 549.9,71.7 551.9,70.3 553.9,68.8 555.9,67.8 557.9,66.8 559.9,65.5 561.9,64.4 563.9,63.0 565.9,61.9 567.9,60.9 569.9,59.9 571.9,58.7 573.9,57.4 575.9,56.3 577.9,54.8 579.9,53.5 581.9,52.3 583.9,50.8 585.9,49.4 587.9,48.4 589.9,47.6 591.9,46.7 593.9,45.4 595.9,44.6 597.9,43.7 599.9,42.8 601.9,41.9 603.9,41.1 605.9,40.1 607.9,39.4 609.9,38.5 611.9,37.9 613.9,37.4 615.9,36.6 617.9,35.9 619.9,35.3 621.9,34.5 624.0,33.8 626.0,33.5 628.0,33.1 630.0,32.0 632.0,31.6 634.0,30.9 636.0,30.7 638.0,29.5 640.0,29.1 642.0,28.7 644.0,28.2 646.0,27.5 648.0,27.0 650.0,26.5 652.0,26.1 654.0,25.2 656.0,24.9 658.0,24.4 660.0,23.9 662.0,23.8" fill="none" stroke="#111" stroke-width="1.1"/>
<line x1="477.5" y1="165.3" x2="483.8" y2="141.7" stroke="#111" stroke-width="0.7" stroke-dasharray="0.8,0.8"/>
<polyline points="483.8,149.2 485.8,146.4 487.8,143.9 489.8,141.8 491.8,140.0 493.8,137.7 495.8,135.7 497.8,133.4 499.8,131.1 501.8,128.6 503.8,126.2 505.8,124.2 507.8,122.3 509.8,119.9 511.8,118.6 513.8,116.5 515.8,115.2 517.8,113.9 519.8,112.5 521.8,110.9 523.8,109.4 525.8,108.2 527.8,106.6 529.8,105.0 531.8,104.0 533.8,102.8 535.8,101.4 537.8,100.3 539.8,99.1 541.8,98.2 543.8,97.4 545.9,96.2 547.9,96.0 549.9,95.0 551.9,93.7 553.9,93.3 555.9,92.9 557.9,92.5 559.9,91.9 561.9,91.9 563.9,91.7 565.9,91.7 567.9,91.3 569.9,91.2 571.9,91.0 573.9,90.8 575.9,90.5 577.9,90.3 579.9,89.9 581.9,90.1 583.9,89.7 585.9,89.3 587.9,89.5 589.9,89.3 591.9,89.2 593.9,89.2 595.9,89.2 597.9,89.6 599.9,89.4 601.9,89.4 603.9,89.5 605.9,89.3 607.9,89.4 609.9,89.4 611.9,89.0 613.9,89.0 615.9,89.1 617.9,89.1 619.9,89.0 621.9,88.9 624.0,88.9 626.0,88.8 628.0,88.8 630.0,88.6 632.0,88.6 634.0,88.6 636.0,88.8 638.0,88.7 640.0,88.5 642.0,88.6 644.0,88.5 646.0,89.0 648.0,89.0 650.0,88.4 652.0,88.4 654.0,88.2 656.0,88.3 658.0,88.4 660.0,88.4 662.0,88.6" fill="none" stroke="#f0282a" stroke-width="1.1"/>
<line x1="477.5" y1="165.3" x2="483.8" y2="149.3" stroke="#f0282a" stroke-width="0.7" stroke-dasharray="0.8,0.8"/>
<line x1="591.3" y1="62.3" x2="599" y2="62.3" stroke="#111" stroke-width="1.1"/>
<line x1="591.3" y1="74.4" x2="599" y2="74.4" stroke="#e8202a" stroke-width="1.1"/>
<text x="604.0" y="65.3" font-size="8.3" text-anchor="start" fill="#222" font-weight="normal" font-style="normal" textLength="55.6">Instantaneous</text>
<text x="604.0" y="77.4" font-size="8.3" text-anchor="start" fill="#222" font-weight="normal" font-style="normal" textLength="33.4">Inherent</text>
<clipPath id="pe0"><rect x="11" y="220.2" width="152" height="151.5"/></clipPath>
<g clip-path="url(#pe0)" stroke-linecap="round" fill="none"><rect x="11" y="220.2" width="152" height="151.5" fill="#d8d8de"/>
<path stroke="#bad0f8" stroke-width="9.2" d="M85.6 243.6h0"/>
<path stroke="#6282ea" stroke-width="9.2" d="M160.2 246.4h0"/>
<path stroke="#c0282f" stroke-width="9.2" d="M29.7 261.1h0"/>
<path stroke="#9abbff" stroke-width="9.2" d="M118.6 343.7h0"/>
<path stroke="#9fbfff" stroke-width="8.8" d="M142.1 344.2h0M95.5 364.7h0M147.3 319.4h0M53.4 303.2h0"/>
<path stroke="#c0282f" stroke-width="8.8" d="M21.2 253.7h0M137.4 223.0h0"/>
<path stroke="#7295f4" stroke-width="8.8" d="M47.4 341.4h0M59.7 222.9h0"/>
<path stroke="#5875e1" stroke-width="8.8" d="M148.6 369.5h0M134.9 354.2h0"/>
<path stroke="#9abbff" stroke-width="8.8" d="M147.4 311.6h0M36.2 235.2h0M13.7 364.5h0"/>
<path stroke="#94b6ff" stroke-width="8.8" d="M73.8 245.7h0M21.3 365.5h0"/>
<path stroke="#f7a889" stroke-width="8.8" d="M13.7 316.5h0"/>
<path stroke="#6282ea" stroke-width="8.8" d="M43.8 260.0h0"/>
<path stroke="#ba162b" stroke-width="8.8" d="M13.7 337.9h0"/>
<path stroke="#d2dbe8" stroke-width="8.8" d="M13.8 223.0h0"/>
<path stroke="#6c8ff1" stroke-width="8.8" d="M52.1 261.4h0M160.3 230.4h0"/>
<path stroke="#aac7fd" stroke-width="8.8" d="M128.4 350.3h0"/>
<path stroke="#82a6fb" stroke-width="8.8" d="M104.0 247.4h0"/>
<path stroke="#f6bda2" stroke-width="8.8" d="M99.1 272.9h0"/>
<path stroke="#afcafc" stroke-width="8.8" d="M13.7 345.4h0M41.9 354.8h0M138.7 296.4h0"/>
<path stroke="#cdd9ec" stroke-width="8.8" d="M154.1 315.3h0"/>
<path stroke="#779af7" stroke-width="8.8" d="M160.3 266.3h0M122.3 311.3h0"/>
<path stroke="#f4c6af" stroke-width="8.8" d="M111.3 310.8h0M107.9 232.8h0"/>
<path stroke="#f7ad90" stroke-width="8.8" d="M31.0 290.7h0"/>
<path stroke="#e7d7ce" stroke-width="8.8" d="M56.3 330.9h0"/>
<path stroke="#f5c1a9" stroke-width="8.8" d="M70.7 222.9h0"/>
<path stroke="#7da0f9" stroke-width="8.8" d="M82.3 352.2h0"/>
<path stroke="#f39475" stroke-width="8.8" d="M25.4 356.7h0"/>
<path stroke="#6788ee" stroke-width="8.8" d="M69.7 320.7h0"/>
<path stroke="#bad0f8" stroke-width="8.4" d="M82.0 324.6h0M59.3 244.3h0"/>
<path stroke="#5875e1" stroke-width="8.4" d="M138.5 267.0h0M21.2 316.8h0"/>
<path stroke="#82a6fb" stroke-width="8.4" d="M160.4 369.6h0"/>
<path stroke="#6c8ff1" stroke-width="8.4" d="M107.2 317.0h0"/>
<path stroke="#afcafc" stroke-width="8.4" d="M42.7 335.3h0M57.9 256.3h0"/>
<path stroke="#9fbfff" stroke-width="8.4" d="M26.6 349.3h0M103.9 266.6h0"/>
<path stroke="#9abbff" stroke-width="8.4" d="M154.8 358.3h0M61.3 325.6h0"/>
<path stroke="#e3d9d3" stroke-width="8.4" d="M114.8 350.6h0M18.9 352.8h0"/>
<path stroke="#536edd" stroke-width="8.4" d="M109.5 333.0h0"/>
<path stroke="#f18d6f" stroke-width="8.4" d="M122.8 228.3h0"/>
<path stroke="#f4c6af" stroke-width="8.4" d="M111.3 274.8h0"/>
<path stroke="#6282ea" stroke-width="8.4" d="M153.7 347.1h0"/>
<path stroke="#94b6ff" stroke-width="8.4" d="M146.1 350.5h0M54.3 249.9h0"/>
<path stroke="#f59c7d" stroke-width="8.4" d="M153.5 242.7h0"/>
<path stroke="#c0282f" stroke-width="8.4" d="M116.4 296.3h0M28.2 335.3h0M96.5 265.6h0M134.8 346.8h0"/>
<path stroke="#dadce0" stroke-width="8.4" d="M95.9 313.3h0M66.5 242.7h0"/>
<path stroke="#7295f4" stroke-width="8.4" d="M72.4 313.5h0"/>
<path stroke="#ead4c8" stroke-width="8.4" d="M117.5 238.2h0"/>
<path stroke="#5d7ce6" stroke-width="8.4" d="M99.3 259.0h0M73.8 273.3h0"/>
<path stroke="#f39475" stroke-width="8.4" d="M149.6 252.1h0"/>
<path stroke="#dfdbd9" stroke-width="8.4" d="M160.4 222.8h0"/>
<path stroke="#e7d7ce" stroke-width="8.4" d="M126.3 303.9h0"/>
<path stroke="#7da0f9" stroke-width="8.4" d="M37.2 300.7h0"/>
<path stroke="#ba162b" stroke-width="8.4" d="M35.8 333.7h0M18.4 327.4h0"/>
<path stroke="#b5cdfa" stroke-width="8.4" d="M69.7 284.7h0"/>
<path stroke="#779af7" stroke-width="8.4" d="M140.6 284.4h0"/>
<path stroke="#6c8ff1" stroke-width="8.0" d="M108.6 291.4h0M148.5 362.1h0"/>
<path stroke="#9fbfff" stroke-width="8.0" d="M117.0 259.0h0"/>
<path stroke="#94b6ff" stroke-width="8.0" d="M70.7 360.9h0"/>
<path stroke="#ead4c8" stroke-width="8.0" d="M20.0 227.0h0"/>
<path stroke="#6282ea" stroke-width="8.0" d="M63.4 332.4h0"/>
<path stroke="#6788ee" stroke-width="8.0" d="M65.0 274.0h0M119.9 290.0h0M92.1 297.3h0"/>
<path stroke="#7295f4" stroke-width="8.0" d="M27.3 280.5h0"/>
<path stroke="#bad0f8" stroke-width="8.0" d="M30.7 328.3h0M20.1 306.5h0"/>
<path stroke="#bfd3f6" stroke-width="8.0" d="M107.0 240.4h0M93.3 352.7h0"/>
<path stroke="#9abbff" stroke-width="8.0" d="M47.8 298.1h0M107.9 284.4h0M125.6 257.6h0M160.5 319.7h0"/>
<path stroke="#afcafc" stroke-width="8.0" d="M36.5 324.4h0M84.2 264.9h0"/>
<path stroke="#a5c3fe" stroke-width="8.0" d="M117.8 322.1h0"/>
<path stroke="#aac7fd" stroke-width="8.0" d="M62.7 285.1h0"/>
<path stroke="#f7a889" stroke-width="8.0" d="M100.8 235.2h0"/>
<path stroke="#f7ad90" stroke-width="8.0" d="M78.5 336.5h0"/>
<path stroke="#7da0f9" stroke-width="8.0" d="M84.2 301.4h0"/>
<path stroke="#b40426" stroke-width="8.0" d="M147.2 287.8h0"/>
<path stroke="#f7b396" stroke-width="8.0" d="M29.4 247.4h0M71.0 233.9h0"/>
<path stroke="#dadce0" stroke-width="8.0" d="M138.5 257.2h0"/>
<path stroke="#c0282f" stroke-width="8.0" d="M13.5 304.3h0"/>
<path stroke="#f7b89c" stroke-width="8.0" d="M118.4 222.7h0"/>
<path stroke="#779af7" stroke-width="8.0" d="M123.3 333.1h0"/>
<path stroke="#5875e1" stroke-width="8.0" d="M32.4 369.7h0M57.3 309.4h0"/>
<path stroke="#b5cdfa" stroke-width="8.0" d="M160.5 362.6h0"/>
<path stroke="#6282ea" stroke-width="7.6" d="M105.9 369.8h0M48.8 222.6h0"/>
<path stroke="#c0282f" stroke-width="7.6" d="M22.6 262.5h0M160.6 306.2h0M151.6 300.8h0"/>
<path stroke="#7295f4" stroke-width="7.6" d="M126.6 343.3h0M40.4 362.1h0M56.4 350.1h0M105.1 278.3h0"/>
<path stroke="#9fbfff" stroke-width="7.6" d="M123.4 277.2h0"/>
<path stroke="#82a6fb" stroke-width="7.6" d="M105.2 254.9h0"/>
<path stroke="#6788ee" stroke-width="7.6" d="M81.8 308.1h0M148.7 230.5h0M72.1 306.8h0"/>
<path stroke="#9abbff" stroke-width="7.6" d="M43.1 293.5h0M63.8 369.9h0"/>
<path stroke="#5875e1" stroke-width="7.6" d="M97.1 288.6h0M23.0 246.1h0M76.0 342.8h0"/>
<path stroke="#d6dce4" stroke-width="7.6" d="M119.5 356.0h0M85.9 229.9h0"/>
<path stroke="#f6bda2" stroke-width="7.6" d="M79.7 369.8h0"/>
<path stroke="#dadce0" stroke-width="7.6" d="M132.8 300.8h0"/>
<path stroke="#f6a283" stroke-width="7.6" d="M53.0 278.1h0M47.9 283.0h0"/>
<path stroke="#779af7" stroke-width="7.6" d="M78.0 222.6h0"/>
<path stroke="#536edd" stroke-width="7.6" d="M136.9 306.1h0"/>
<path stroke="#f5c1a9" stroke-width="7.6" d="M62.7 318.7h0"/>
<path stroke="#ba162b" stroke-width="7.6" d="M33.6 277.4h0M136.9 324.6h0"/>
<path stroke="#b5cdfa" stroke-width="7.6" d="M114.6 328.3h0M13.3 357.4h0M80.2 248.8h0"/>
<path stroke="#f4c6af" stroke-width="7.6" d="M16.8 248.3h0"/>
<path stroke="#ead4c8" stroke-width="7.6" d="M149.3 269.7h0M120.3 283.2h0"/>
<path stroke="#94b6ff" stroke-width="7.6" d="M101.9 348.6h0M144.8 300.1h0"/>
<path stroke="#f7ad90" stroke-width="7.6" d="M38.8 245.4h0"/>
<path stroke="#aac7fd" stroke-width="7.6" d="M141.7 241.9h0M133.4 262.0h0"/>
<path stroke="#bfd3f6" stroke-width="7.6" d="M85.4 222.6h0M156.1 236.3h0M27.7 226.7h0M31.4 268.5h0"/>
<path stroke="#f7a889" stroke-width="7.6" d="M149.5 259.0h0M98.7 300.9h0"/>
<path stroke="#bad0f8" stroke-width="7.6" d="M143.5 325.5h0"/>
<path stroke="#b40426" stroke-width="7.6" d="M149.8 237.1h0M38.9 369.8h0"/>
<path stroke="#d2dbe8" stroke-width="7.6" d="M101.4 283.7h0"/>
<path stroke="#5d7ce6" stroke-width="7.6" d="M92.6 327.3h0"/>
<path stroke="#94b6ff" stroke-width="7.2" d="M91.7 319.0h0M47.5 363.7h0M88.3 307.0h0M130.5 273.3h0"/>
<path stroke="#5d7ce6" stroke-width="7.2" d="M135.5 361.3h0M160.7 253.5h0M147.8 294.3h0M143.4 261.9h0"/>
<path stroke="#f6a283" stroke-width="7.2" d="M99.3 307.4h0M160.7 312.9h0"/>
<path stroke="#f7b396" stroke-width="7.2" d="M45.2 253.0h0M108.7 342.5h0M28.3 254.1h0"/>
<path stroke="#536edd" stroke-width="7.2" d="M140.8 369.9h0M129.1 295.3h0M53.2 337.6h0"/>
<path stroke="#6c8ff1" stroke-width="7.2" d="M65.4 343.9h0M99.9 223.8h0M75.0 228.4h0"/>
<path stroke="#e7d7ce" stroke-width="7.2" d="M126.8 364.9h0M139.1 331.1h0"/>
<path stroke="#c0282f" stroke-width="7.2" d="M33.0 284.1h0M35.1 228.1h0M43.9 347.6h0"/>
<path stroke="#e3d9d3" stroke-width="7.2" d="M75.7 349.4h0M77.6 303.0h0"/>
<path stroke="#f7b89c" stroke-width="7.2" d="M114.5 285.4h0"/>
<path stroke="#ba162b" stroke-width="7.2" d="M19.7 334.1h0M144.0 247.8h0"/>
<path stroke="#f39475" stroke-width="7.2" d="M110.9 322.6h0M32.7 222.4h0"/>
<path stroke="#7295f4" stroke-width="7.2" d="M37.7 349.1h0M74.5 266.9h0"/>
<path stroke="#afcafc" stroke-width="7.2" d="M56.5 287.8h0M160.7 294.9h0M139.0 277.7h0"/>
<path stroke="#7da0f9" stroke-width="7.2" d="M129.7 330.8h0"/>
<path stroke="#dfdbd9" stroke-width="7.2" d="M94.6 282.6h0"/>
<path stroke="#b40426" stroke-width="7.2" d="M122.6 267.8h0"/>
<path stroke="#aac7fd" stroke-width="7.2" d="M35.3 251.1h0M13.2 229.9h0"/>
<path stroke="#82a6fb" stroke-width="7.2" d="M143.6 226.6h0M50.3 347.5h0"/>
<path stroke="#f7a889" stroke-width="7.2" d="M153.5 264.6h0M13.2 243.0h0"/>
<path stroke="#9abbff" stroke-width="7.2" d="M118.1 245.2h0"/>
<path stroke="#a5c3fe" stroke-width="7.2" d="M41.2 271.1h0M160.8 327.8h0M129.8 289.0h0"/>
<path stroke="#5875e1" stroke-width="7.2" d="M85.8 294.9h0M109.4 361.1h0"/>
<path stroke="#6788ee" stroke-width="7.2" d="M55.9 361.0h0"/>
<path stroke="#9fbfff" stroke-width="7.2" d="M85.5 236.3h0M110.3 259.3h0"/>
<path stroke="#d6dce4" stroke-width="7.2" d="M24.9 268.7h0"/>
<path stroke="#779af7" stroke-width="7.2" d="M127.2 234.0h0"/>
<path stroke="#f7ad90" stroke-width="7.2" d="M24.4 294.0h0"/>
<path stroke="#d2dbe8" stroke-width="7.2" d="M132.4 237.9h0"/>
<path stroke="#b5cdfa" stroke-width="7.2" d="M160.7 346.6h0M142.1 336.9h0"/>
<path stroke="#7da0f9" stroke-width="6.8" d="M67.6 355.3h0M74.5 260.6h0"/>
<path stroke="#9fbfff" stroke-width="6.8" d="M127.4 263.9h0M160.9 259.6h0"/>
<path stroke="#f4c6af" stroke-width="6.8" d="M160.9 282.7h0"/>
<path stroke="#6c8ff1" stroke-width="6.8" d="M40.8 306.4h0M53.2 237.7h0"/>
<path stroke="#f6bda2" stroke-width="6.8" d="M46.4 304.6h0M93.1 336.5h0"/>
<path stroke="#bfd3f6" stroke-width="6.8" d="M121.4 350.0h0M133.5 248.0h0M160.9 288.8h0"/>
<path stroke="#6788ee" stroke-width="6.8" d="M74.1 355.3h0M13.1 290.7h0"/>
<path stroke="#9abbff" stroke-width="6.8" d="M18.2 300.1h0M68.8 298.9h0M98.1 294.8h0M18.7 267.8h0"/>
<path stroke="#c0282f" stroke-width="6.8" d="M100.7 322.2h0M48.0 247.5h0M90.0 347.1h0"/>
<path stroke="#b5cdfa" stroke-width="6.8" d="M43.2 287.0h0M33.3 339.7h0"/>
<path stroke="#5d7ce6" stroke-width="6.8" d="M17.1 238.5h0M123.2 318.8h0M18.1 294.0h0M118.0 370.0h0M29.6 322.2h0M86.4 288.8h0"/>
<path stroke="#d6dce4" stroke-width="6.8" d="M25.0 325.9h0"/>
<path stroke="#7295f4" stroke-width="6.8" d="M31.3 362.6h0M32.1 345.7h0"/>
<path stroke="#f39475" stroke-width="6.8" d="M28.2 273.8h0"/>
<path stroke="#ba162b" stroke-width="6.8" d="M37.3 288.3h0M48.7 273.4h0M140.4 311.2h0"/>
<path stroke="#a5c3fe" stroke-width="6.8" d="M67.8 327.4h0"/>
<path stroke="#ead4c8" stroke-width="6.8" d="M42.4 315.7h0"/>
<path stroke="#afcafc" stroke-width="6.8" d="M36.7 294.2h0M148.1 222.3h0"/>
<path stroke="#f7ad90" stroke-width="6.8" d="M39.0 282.6h0"/>
<path stroke="#f18d6f" stroke-width="6.8" d="M88.3 259.2h0M156.1 279.5h0"/>
<path stroke="#779af7" stroke-width="6.8" d="M81.1 291.1h0"/>
<path stroke="#f7a889" stroke-width="6.8" d="M84.5 254.5h0M13.1 331.1h0"/>
<path stroke="#94b6ff" stroke-width="6.8" d="M52.1 319.2h0M138.0 230.0h0M145.3 331.7h0M99.5 370.1h0M109.6 222.4h0"/>
<path stroke="#f7b396" stroke-width="6.8" d="M113.1 338.5h0"/>
<path stroke="#6282ea" stroke-width="6.8" d="M54.3 271.9h0"/>
<path stroke="#e3d9d3" stroke-width="6.8" d="M17.6 282.9h0"/>
<path stroke="#bad0f8" stroke-width="6.8" d="M20.4 346.3h0"/>
<path stroke="#aac7fd" stroke-width="6.8" d="M43.1 323.9h0"/>
<path stroke="#c0282f" stroke-width="6.4" d="M73.7 370.2h0M79.1 313.6h0M13.0 266.3h0"/>
<path stroke="#82a6fb" stroke-width="6.4" d="M161.1 352.5h0"/>
<path stroke="#5d7ce6" stroke-width="6.4" d="M128.9 226.0h0M156.4 331.9h0"/>
<path stroke="#d6dce4" stroke-width="6.4" d="M50.2 309.1h0M70.3 340.5h0"/>
<path stroke="#9abbff" stroke-width="6.4" d="M153.9 222.2h0"/>
<path stroke="#8fb1fe" stroke-width="6.4" d="M52.7 231.7h0M88.0 356.3h0"/>
<path stroke="#ba162b" stroke-width="6.4" d="M13.0 260.7h0M14.7 255.2h0M39.4 276.8h0M151.1 331.2h0M81.4 259.4h0M95.7 347.1h0M57.6 315.9h0M23.0 339.1h0M19.0 359.1h0M53.9 324.9h0M68.2 249.7h0M114.6 365.2h0M23.2 285.0h0"/>
<path stroke="#9fbfff" stroke-width="6.4" d="M90.0 248.6h0M112.2 370.3h0"/>
<path stroke="#7da0f9" stroke-width="6.4" d="M132.2 316.6h0"/>
<path stroke="#f6a283" stroke-width="6.4" d="M149.7 325.6h0M80.1 297.1h0"/>
<path stroke="#779af7" stroke-width="6.4" d="M98.7 335.4h0M102.2 356.0h0"/>
<path stroke="#afcafc" stroke-width="6.4" d="M142.9 232.7h0M62.0 353.2h0"/>
<path stroke="#7295f4" stroke-width="6.4" d="M156.9 337.5h0M93.7 255.6h0M90.5 264.7h0"/>
<path stroke="#6282ea" stroke-width="6.4" d="M112.9 254.0h0"/>
<path stroke="#dadce0" stroke-width="6.4" d="M28.1 312.4h0M45.7 238.0h0M59.2 336.9h0"/>
<path stroke="#f7ad90" stroke-width="6.4" d="M85.8 318.8h0"/>
<path stroke="#b5cdfa" stroke-width="6.4" d="M13.0 297.2h0"/>
<path stroke="#f4c6af" stroke-width="6.4" d="M113.2 248.2h0"/>
<path stroke="#f7b89c" stroke-width="6.4" d="M18.2 277.2h0"/>
<path stroke="#6788ee" stroke-width="6.4" d="M32.0 356.8h0"/>
<path stroke="#f18d6f" stroke-width="6.4" d="M49.6 242.0h0"/>
<path stroke="#f7a889" stroke-width="6.4" d="M143.3 305.9h0"/>
<path stroke="#f5c1a9" stroke-width="6.4" d="M49.3 370.1h0M118.8 336.9h0"/>
<path stroke="#6c8ff1" stroke-width="6.4" d="M130.2 252.8h0M152.2 283.9h0"/>
<path stroke="#e7d7ce" stroke-width="6.4" d="M99.4 252.7h0"/>
<path stroke="#b40426" stroke-width="6.4" d="M104.4 303.1h0"/>
<path stroke="#f6bda2" stroke-width="6.4" d="M94.6 236.1h0"/>
<path stroke="#a5c3fe" stroke-width="6.4" d="M68.9 269.0h0"/>
<path stroke="#6c8ff1" stroke-width="6.0" d="M107.2 327.0h0M58.4 275.5h0M90.5 274.5h0"/>
<path stroke="#f7b396" stroke-width="6.0" d="M27.1 241.8h0M104.9 308.6h0M88.9 283.2h0"/>
<path stroke="#94b6ff" stroke-width="6.0" d="M61.4 291.0h0M154.0 365.2h0"/>
<path stroke="#f18d6f" stroke-width="6.0" d="M105.6 272.5h0"/>
<path stroke="#b40426" stroke-width="6.0" d="M153.3 321.8h0M135.1 311.7h0M27.2 299.0h0"/>
<path stroke="#aac7fd" stroke-width="6.0" d="M119.5 362.2h0M44.9 310.4h0M113.6 317.1h0M32.1 297.1h0M134.0 370.4h0"/>
<path stroke="#e7d7ce" stroke-width="6.0" d="M81.7 341.5h0M128.8 370.3h0"/>
<path stroke="#d2dbe8" stroke-width="6.0" d="M39.5 255.2h0"/>
<path stroke="#b5cdfa" stroke-width="6.0" d="M12.8 276.6h0M117.5 265.1h0M40.8 239.8h0M18.0 232.8h0"/>
<path stroke="#bad0f8" stroke-width="6.0" d="M108.1 348.4h0M88.4 323.6h0M135.0 282.1h0"/>
<path stroke="#6788ee" stroke-width="6.0" d="M88.2 269.8h0"/>
<path stroke="#9abbff" stroke-width="6.0" d="M65.2 226.7h0M147.3 340.0h0M60.0 270.4h0"/>
<path stroke="#a5c3fe" stroke-width="6.0" d="M56.1 266.5h0M136.2 337.2h0M52.6 313.6h0M93.6 304.0h0"/>
<path stroke="#f6a283" stroke-width="6.0" d="M140.9 320.1h0"/>
<path stroke="#c0282f" stroke-width="6.0" d="M66.6 349.6h0M75.8 279.6h0M36.5 259.8h0M40.8 329.1h0"/>
<path stroke="#7295f4" stroke-width="6.0" d="M51.2 293.0h0"/>
<path stroke="#5875e1" stroke-width="6.0" d="M70.9 346.1h0M132.2 340.9h0"/>
<path stroke="#9fbfff" stroke-width="6.0" d="M89.6 370.3h0"/>
<path stroke="#f59c7d" stroke-width="6.0" d="M79.2 254.5h0M25.7 236.7h0"/>
<path stroke="#ead4c8" stroke-width="6.0" d="M33.4 313.5h0M35.8 318.1h0"/>
<path stroke="#f5c1a9" stroke-width="6.0" d="M151.4 306.9h0"/>
<path stroke="#5d7ce6" stroke-width="6.0" d="M61.2 363.6h0M50.9 267.6h0"/>
<path stroke="#6282ea" stroke-width="6.0" d="M69.6 263.6h0"/>
<path stroke="#afcafc" stroke-width="6.0" d="M90.0 361.3h0"/>
<path stroke="#7da0f9" stroke-width="6.0" d="M153.2 289.1h0M155.1 270.2h0"/>
<path stroke="#8fb1fe" stroke-width="6.0" d="M66.1 313.8h0M102.1 364.9h0"/>
<path stroke="#f7ad90" stroke-width="6.0" d="M94.6 226.3h0M66.7 304.0h0"/>
<path stroke="#536edd" stroke-width="6.0" d="M76.1 322.4h0"/>
<path stroke="#ba162b" stroke-width="6.0" d="M117.8 275.4h0"/>
<path stroke="#e7d7ce" stroke-width="5.6" d="M58.9 238.1h0"/>
<path stroke="#5875e1" stroke-width="5.6" d="M127.3 315.1h0M124.8 251.5h0M136.0 272.7h0M129.1 278.8h0"/>
<path stroke="#b40426" stroke-width="5.6" d="M161.2 300.7h0M123.7 370.5h0M57.3 282.1h0M61.3 279.2h0M138.1 315.8h0M117.6 270.2h0"/>
<path stroke="#afcafc" stroke-width="5.6" d="M109.1 300.4h0M57.2 366.6h0M37.2 343.4h0M131.5 307.5h0"/>
<path stroke="#dadce0" stroke-width="5.6" d="M135.4 242.9h0M57.8 233.3h0"/>
<path stroke="#d2dbe8" stroke-width="5.6" d="M132.2 267.7h0"/>
<path stroke="#dfdbd9" stroke-width="5.6" d="M46.6 319.6h0M128.2 247.8h0M43.2 222.0h0M120.5 327.9h0M121.2 300.3h0M142.8 360.7h0"/>
<path stroke="#c0282f" stroke-width="5.6" d="M12.7 271.6h0M105.2 226.0h0M74.1 289.3h0M47.9 314.6h0"/>
<path stroke="#ba162b" stroke-width="5.6" d="M76.1 293.3h0M32.0 240.1h0M103.8 334.9h0M155.9 309.5h0M12.8 351.7h0M113.4 267.9h0"/>
<path stroke="#a5c3fe" stroke-width="5.6" d="M104.9 260.8h0M155.2 254.6h0"/>
<path stroke="#aac7fd" stroke-width="5.6" d="M132.0 365.8h0M91.7 287.5h0M40.0 225.9h0M151.1 336.3h0"/>
<path stroke="#9fbfff" stroke-width="5.6" d="M113.0 242.6h0M87.0 328.5h0M120.7 254.1h0M66.9 259.4h0"/>
<path stroke="#bad0f8" stroke-width="5.6" d="M44.3 243.4h0"/>
<path stroke="#82a6fb" stroke-width="5.6" d="M72.4 335.6h0"/>
<path stroke="#9abbff" stroke-width="5.6" d="M42.8 234.0h0M86.5 343.0h0"/>
<path stroke="#ead4c8" stroke-width="5.6" d="M66.1 364.6h0M74.7 298.1h0"/>
<path stroke="#f6a283" stroke-width="5.6" d="M93.1 342.6h0M76.7 235.8h0"/>
<path stroke="#f59c7d" stroke-width="5.6" d="M48.9 228.3h0"/>
<path stroke="#6c8ff1" stroke-width="5.6" d="M32.4 351.3h0M86.3 278.2h0"/>
<path stroke="#f4c6af" stroke-width="5.6" d="M12.8 310.1h0M22.4 240.4h0"/>
<path stroke="#5d7ce6" stroke-width="5.6" d="M152.8 341.2h0"/>
<path stroke="#f7a889" stroke-width="5.6" d="M23.7 222.3h0M114.8 359.7h0"/>
<path stroke="#f39475" stroke-width="5.6" d="M60.0 250.6h0M44.0 228.6h0"/>
<path stroke="#f7b89c" stroke-width="5.6" d="M101.0 316.6h0"/>
<path stroke="#f7ad90" stroke-width="5.6" d="M98.8 229.3h0M51.0 287.8h0M80.2 230.0h0"/>
<path stroke="#f6bda2" stroke-width="5.6" d="M27.2 366.5h0M139.4 251.3h0"/>
<path stroke="#7da0f9" stroke-width="5.6" d="M70.6 278.8h0"/>
<path stroke="#bfd3f6" stroke-width="5.6" d="M120.1 305.2h0"/>
<path stroke="#779af7" stroke-width="5.6" d="M53.6 226.3h0"/>
<path stroke="#f5c1a9" stroke-width="5.6" d="M99.7 330.3h0"/>
<path stroke="#6788ee" stroke-width="5.6" d="M90.5 239.3h0M124.0 360.1h0"/>
<path stroke="#94b6ff" stroke-width="5.6" d="M48.6 324.2h0"/>
<path stroke="#b5cdfa" stroke-width="5.6" d="M61.2 358.4h0"/>
<path stroke="#f18d6f" stroke-width="5.6" d="M26.1 307.6h0"/>
<path stroke="#7295f4" stroke-width="5.6" d="M130.6 243.5h0"/>
<path stroke="#6282ea" stroke-width="5.6" d="M80.5 330.7h0"/>
<path stroke="#ba162b" stroke-width="5.2" d="M45.9 268.7h0M66.1 279.9h0M91.0 221.8h0M71.7 294.3h0M35.7 272.3h0M161.4 333.3h0M113.9 233.7h0M78.8 364.3h0M71.9 239.6h0M28.3 341.4h0M50.5 328.6h0M18.1 259.2h0"/>
<path stroke="#afcafc" stroke-width="5.2" d="M56.2 293.4h0M45.8 328.1h0M148.2 344.9h0M58.5 262.4h0M80.4 346.2h0M130.3 283.5h0M157.9 274.7h0M76.5 360.5h0"/>
<path stroke="#6c8ff1" stroke-width="5.2" d="M161.4 341.4h0M84.8 332.8h0M21.1 289.5h0M118.5 316.5h0M161.4 277.6h0M155.7 293.2h0"/>
<path stroke="#bad0f8" stroke-width="5.2" d="M61.9 347.9h0M138.7 246.4h0M12.6 370.6h0M62.3 306.3h0M144.0 279.5h0"/>
<path stroke="#bfd3f6" stroke-width="5.2" d="M122.4 295.3h0M93.2 270.5h0M98.7 278.7h0M87.8 365.7h0M101.5 241.5h0M64.7 264.3h0"/>
<path stroke="#f5c1a9" stroke-width="5.2" d="M124.7 286.8h0M135.2 287.2h0M126.0 282.4h0M18.5 341.5h0"/>
<path stroke="#dadce0" stroke-width="5.2" d="M153.0 275.0h0M123.1 323.9h0"/>
<path stroke="#a5c3fe" stroke-width="5.2" d="M39.1 264.0h0M22.7 231.9h0M17.2 321.4h0M79.3 243.3h0"/>
<path stroke="#f59c7d" stroke-width="5.2" d="M123.7 237.9h0M127.4 240.0h0"/>
<path stroke="#7295f4" stroke-width="5.2" d="M109.1 305.0h0"/>
<path stroke="#f4c6af" stroke-width="5.2" d="M84.1 282.5h0"/>
<path stroke="#c0282f" stroke-width="5.2" d="M144.5 356.3h0M23.1 276.0h0M17.8 311.7h0M148.4 275.2h0M121.9 262.3h0"/>
<path stroke="#94b6ff" stroke-width="5.2" d="M118.2 232.1h0M131.0 325.5h0M99.7 360.3h0M43.6 366.7h0M150.7 278.8h0M93.5 260.7h0"/>
<path stroke="#82a6fb" stroke-width="5.2" d="M26.9 317.4h0M143.7 275.0h0M134.5 291.8h0"/>
<path stroke="#f7ad90" stroke-width="5.2" d="M155.7 259.4h0M87.6 336.3h0"/>
<path stroke="#b5cdfa" stroke-width="5.2" d="M125.2 355.7h0M12.6 281.5h0"/>
<path stroke="#9fbfff" stroke-width="5.2" d="M138.9 290.2h0M114.4 290.8h0M83.3 270.6h0"/>
<path stroke="#f7b89c" stroke-width="5.2" d="M97.3 243.8h0M30.8 231.5h0M115.7 280.0h0"/>
<path stroke="#6282ea" stroke-width="5.2" d="M113.9 305.1h0"/>
<path stroke="#f18d6f" stroke-width="5.2" d="M156.2 352.7h0"/>
<path stroke="#aac7fd" stroke-width="5.2" d="M85.2 361.8h0M151.6 353.1h0"/>
<path stroke="#b40426" stroke-width="5.2" d="M57.4 320.9h0"/>
<path stroke="#6788ee" stroke-width="5.2" d="M80.5 318.6h0M52.5 365.9h0M94.7 250.8h0M106.3 296.4h0"/>
<path stroke="#e7d7ce" stroke-width="5.2" d="M72.7 326.0h0M79.4 282.8h0M57.5 355.8h0"/>
<path stroke="#f6bda2" stroke-width="5.2" d="M74.5 365.4h0M147.4 242.1h0M80.6 238.8h0"/>
<path stroke="#8fb1fe" stroke-width="5.2" d="M58.6 345.0h0"/>
<path stroke="#d6dce4" stroke-width="5.2" d="M53.3 343.2h0"/>
<path stroke="#f7b396" stroke-width="5.2" d="M111.9 356.2h0M121.6 366.3h0M103.1 293.1h0"/>
<path stroke="#536edd" stroke-width="5.2" d="M81.6 278.9h0"/>
<path stroke="#779af7" stroke-width="5.2" d="M152.2 226.9h0"/>
<path stroke="#5875e1" stroke-width="5.2" d="M36.6 309.6h0"/>
<path stroke="#ead4c8" stroke-width="5.2" d="M65.9 289.5h0M109.6 264.9h0"/>
<path stroke="#d2dbe8" stroke-width="5.2" d="M70.1 366.7h0"/>
<path stroke="#dfdbd9" stroke-width="5.2" d="M107.3 356.3h0"/>
<path stroke="#f39475" stroke-width="5.2" d="M131.2 336.0h0"/>
<path stroke="#afcafc" stroke-width="4.8" d="M24.0 331.0h0M113.1 229.4h0M38.3 338.9h0"/>
<path stroke="#ba162b" stroke-width="4.8" d="M156.7 285.7h0M76.3 240.3h0M109.5 227.4h0M109.8 366.3h0M78.9 263.7h0M105.7 322.6h0M67.7 336.5h0M109.0 269.3h0M40.4 250.7h0M63.8 247.9h0M12.5 251.1h0M47.1 351.9h0"/>
<path stroke="#f59c7d" stroke-width="4.8" d="M12.5 322.2h0M23.3 311.3h0M97.0 318.7h0M57.0 340.9h0"/>
<path stroke="#c0282f" stroke-width="4.8" d="M37.0 267.8h0M161.6 357.1h0M95.5 332.1h0M60.2 295.7h0M101.7 312.0h0M88.6 315.0h0M41.3 341.9h0M111.9 237.4h0M75.4 251.4h0M40.0 319.9h0M31.4 317.3h0"/>
<path stroke="#5875e1" stroke-width="4.8" d="M79.6 268.0h0M62.5 260.4h0M59.3 302.9h0"/>
<path stroke="#f18d6f" stroke-width="4.8" d="M63.1 300.8h0M17.1 370.1h0"/>
<path stroke="#d2dbe8" stroke-width="4.8" d="M78.9 356.9h0M34.5 305.8h0M30.4 235.6h0M85.1 369.1h0M71.6 253.2h0M148.0 264.5h0"/>
<path stroke="#9fbfff" stroke-width="4.8" d="M144.5 266.9h0M139.8 349.8h0"/>
<path stroke="#779af7" stroke-width="4.8" d="M67.5 254.7h0M77.0 327.6h0M89.8 332.3h0M115.1 333.6h0M72.4 330.3h0M157.2 342.6h0"/>
<path stroke="#aac7fd" stroke-width="4.8" d="M122.5 242.1h0M105.6 352.3h0M54.2 221.7h0M130.1 360.3h0M76.4 317.8h0"/>
<path stroke="#f5c1a9" stroke-width="4.8" d="M63.7 256.3h0M67.1 293.8h0M155.7 304.8h0"/>
<path stroke="#b5cdfa" stroke-width="4.8" d="M136.7 366.5h0M128.4 319.7h0M103.6 343.3h0M50.8 359.5h0M133.5 277.5h0M57.6 299.1h0M121.0 249.6h0"/>
<path stroke="#94b6ff" stroke-width="4.8" d="M140.2 357.2h0M69.1 332.3h0M117.0 251.3h0"/>
<path stroke="#6788ee" stroke-width="4.8" d="M52.2 255.2h0M97.3 356.7h0M86.0 311.6h0"/>
<path stroke="#f7ad90" stroke-width="4.8" d="M49.0 355.7h0M89.5 253.5h0M108.8 250.9h0"/>
<path stroke="#bad0f8" stroke-width="4.8" d="M54.4 370.7h0M94.5 370.6h0M53.5 244.0h0M125.1 272.2h0"/>
<path stroke="#bfd3f6" stroke-width="4.8" d="M161.5 272.1h0M53.1 356.2h0"/>
<path stroke="#f6a283" stroke-width="4.8" d="M89.8 225.9h0M135.1 252.9h0"/>
<path stroke="#f6bda2" stroke-width="4.8" d="M95.6 322.9h0M97.9 248.0h0"/>
<path stroke="#7da0f9" stroke-width="4.8" d="M81.0 234.4h0M91.5 243.7h0M144.1 365.6h0"/>
<path stroke="#f7b396" stroke-width="4.8" d="M63.9 338.5h0M74.6 255.8h0"/>
<path stroke="#b40426" stroke-width="4.8" d="M60.8 228.7h0M35.8 365.2h0M43.4 279.8h0M24.8 343.6h0"/>
<path stroke="#5d7ce6" stroke-width="4.8" d="M154.5 327.4h0M80.7 360.7h0M96.9 340.1h0"/>
<path stroke="#e7d7ce" stroke-width="4.8" d="M124.0 221.7h0M133.9 233.1h0M148.9 246.2h0M17.1 272.4h0"/>
<path stroke="#7295f4" stroke-width="4.8" d="M139.9 364.3h0M71.0 351.4h0M21.9 280.1h0"/>
<path stroke="#536edd" stroke-width="4.8" d="M125.3 327.7h0"/>
<path stroke="#6282ea" stroke-width="4.8" d="M102.5 326.7h0M154.6 370.3h0"/>
<path stroke="#a5c3fe" stroke-width="4.8" d="M104.0 360.5h0M94.5 277.1h0M116.8 308.4h0M99.3 343.5h0"/>
<path stroke="#f39475" stroke-width="4.8" d="M104.1 330.6h0M23.1 370.7h0"/>
<path stroke="#d6dce4" stroke-width="4.8" d="M123.2 338.8h0M53.7 297.1h0"/>
<path stroke="#f7a889" stroke-width="4.8" d="M78.0 287.1h0"/>
<path stroke="#9abbff" stroke-width="4.8" d="M37.8 221.7h0"/>
<path stroke="#e3d9d3" stroke-width="4.8" d="M39.8 230.2h0M33.3 256.0h0"/>
<path stroke="#dfdbd9" stroke-width="4.8" d="M161.5 236.4h0M113.7 225.5h0"/>
<path stroke="#f7b89c" stroke-width="4.8" d="M143.8 253.1h0"/>
<path stroke="#dadce0" stroke-width="4.8" d="M90.3 233.8h0M101.3 339.8h0M147.5 282.0h0"/>
<path stroke="#f4c6af" stroke-width="4.8" d="M103.6 288.6h0"/>
<path stroke="#82a6fb" stroke-width="4.8" d="M67.0 309.0h0"/>
<path stroke="#d6dce4" stroke-width="4.4" d="M65.4 360.3h0M48.4 335.7h0"/>
<path stroke="#e7d7ce" stroke-width="4.4" d="M40.4 311.2h0M134.2 332.9h0M64.1 296.8h0M79.3 272.1h0M17.2 288.0h0M103.2 229.8h0M36.1 354.0h0"/>
<path stroke="#7295f4" stroke-width="4.4" d="M98.0 326.2h0M109.4 352.7h0M134.3 329.3h0"/>
<path stroke="#f7b396" stroke-width="4.4" d="M130.9 230.2h0M94.9 231.4h0M95.3 221.6h0M12.4 238.2h0"/>
<path stroke="#5875e1" stroke-width="4.4" d="M65.7 233.2h0M90.8 279.1h0M30.5 305.5h0M132.5 321.4h0"/>
<path stroke="#f7a889" stroke-width="4.4" d="M113.6 263.3h0"/>
<path stroke="#bad0f8" stroke-width="4.4" d="M85.0 347.0h0M82.1 286.4h0M51.5 352.6h0M137.2 238.9h0M50.7 332.8h0"/>
<path stroke="#ead4c8" stroke-width="4.4" d="M43.0 265.8h0M64.2 252.3h0M140.2 301.9h0"/>
<path stroke="#f7b89c" stroke-width="4.4" d="M117.1 302.0h0M44.5 370.8h0M102.2 297.2h0M89.7 302.1h0"/>
<path stroke="#c0282f" stroke-width="4.4" d="M46.9 277.8h0M27.8 221.5h0M68.9 370.8h0M33.9 244.1h0M89.5 340.2h0M36.3 241.0h0M69.4 228.6h0M91.4 229.9h0M143.1 291.7h0M21.1 272.1h0M147.7 304.5h0M136.8 341.5h0"/>
<path stroke="#afcafc" stroke-width="4.4" d="M140.4 272.4h0M142.6 315.7h0M127.4 337.8h0M65.2 221.5h0"/>
<path stroke="#b40426" stroke-width="4.4" d="M83.0 365.5h0M140.7 236.6h0M70.9 257.2h0M48.4 256.8h0M144.4 237.2h0M53.3 283.9h0M44.1 275.3h0M43.5 248.1h0"/>
<path stroke="#aac7fd" stroke-width="4.4" d="M113.0 345.3h0M19.4 221.6h0M94.3 240.9h0M46.7 232.0h0M58.6 370.8h0"/>
<path stroke="#d2dbe8" stroke-width="4.4" d="M76.1 331.6h0M37.9 314.0h0M133.1 256.5h0M31.7 301.7h0M116.9 227.9h0"/>
<path stroke="#ba162b" stroke-width="4.4" d="M127.6 309.5h0M109.3 245.3h0M156.8 301.1h0M130.3 312.1h0M26.9 232.0h0M88.0 351.5h0M144.8 256.8h0M98.6 352.8h0M47.2 332.1h0M12.4 326.3h0M64.1 268.6h0M127.6 268.8h0M83.7 337.4h0"/>
<path stroke="#e3d9d3" stroke-width="4.4" d="M83.6 357.7h0M21.4 322.3h0M121.3 272.5h0"/>
<path stroke="#f18d6f" stroke-width="4.4" d="M104.7 221.6h0M125.2 291.7h0M93.1 308.3h0M42.9 301.1h0"/>
<path stroke="#f39475" stroke-width="4.4" d="M133.5 227.5h0M90.5 311.3h0"/>
<path stroke="#7da0f9" stroke-width="4.4" d="M143.9 270.9h0M148.8 356.4h0"/>
<path stroke="#a5c3fe" stroke-width="4.4" d="M131.7 221.6h0M27.0 370.9h0M127.3 323.6h0M94.4 246.7h0"/>
<path stroke="#cdd9ec" stroke-width="4.4" d="M111.5 280.4h0M157.2 324.3h0"/>
<path stroke="#f6a283" stroke-width="4.4" d="M113.3 300.9h0M25.4 288.8h0M94.0 359.0h0M23.6 302.3h0"/>
<path stroke="#6c8ff1" stroke-width="4.4" d="M141.4 353.4h0M161.6 240.4h0M129.4 356.2h0"/>
<path stroke="#dadce0" stroke-width="4.4" d="M21.5 235.8h0M61.9 232.5h0M14.0 234.7h0M27.1 303.3h0M46.4 358.8h0"/>
<path stroke="#f59c7d" stroke-width="4.4" d="M156.0 297.3h0M116.5 312.8h0M63.1 238.1h0"/>
<path stroke="#f5c1a9" stroke-width="4.4" d="M24.9 320.9h0M135.9 319.6h0M154.2 248.6h0"/>
<path stroke="#9fbfff" stroke-width="4.4" d="M47.2 290.2h0M86.0 273.7h0M72.7 301.6h0"/>
<path stroke="#f4c6af" stroke-width="4.4" d="M122.0 233.9h0M36.8 358.0h0M126.1 243.9h0"/>
<path stroke="#9abbff" stroke-width="4.4" d="M76.6 309.4h0M31.7 309.1h0M49.2 234.9h0"/>
<path stroke="#f6bda2" stroke-width="4.4" d="M90.5 291.9h0M22.9 298.6h0"/>
<path stroke="#f7ad90" stroke-width="4.4" d="M69.9 290.6h0M137.2 234.8h0"/>
<path stroke="#82a6fb" stroke-width="4.4" d="M60.7 265.9h0"/>
<path stroke="#b5cdfa" stroke-width="4.4" d="M105.3 339.0h0M66.8 236.9h0M152.7 295.8h0"/>
<path stroke="#dfdbd9" stroke-width="4.4" d="M61.1 341.3h0M47.3 264.6h0M161.7 337.3h0"/>
<path stroke="#bfd3f6" stroke-width="4.4" d="M35.0 264.3h0M154.2 231.2h0"/>
<path stroke="#5d7ce6" stroke-width="4.4" d="M82.3 274.6h0"/>
<path stroke="#94b6ff" stroke-width="4.4" d="M85.6 249.7h0"/>
<path stroke="#94b6ff" stroke-width="4.0" d="M61.4 313.6h0"/>
<path stroke="#afcafc" stroke-width="4.0" d="M78.6 276.0h0"/>
<path stroke="#c53334" stroke-width="4.0" d="M26.1 362.4h0"/>
<path stroke="#ba162b" stroke-width="4.0" d="M83.5 314.7h0M63.1 310.3h0M17.0 263.2h0M125.1 298.6h0"/>
<path stroke="#d2dbe8" stroke-width="4.0" d="M127.9 221.5h0"/>
<path stroke="#d6dce4" stroke-width="4.0" d="M56.9 229.1h0"/>
<path stroke="#b40426" stroke-width="4.0" d="M25.1 257.9h0"/>
<path stroke="#f39475" stroke-width="4.0" d="M123.8 247.0h0"/>
<path stroke="#f7b89c" stroke-width="4.0" d="M97.8 239.4h0"/>
<path stroke="#e7d7ce" stroke-width="4.0" d="M13.6 285.8h0"/>
<path stroke="#f5c1a9" stroke-width="4.0" d="M81.8 226.2h0"/>
<path stroke="#f6bda2" stroke-width="4.0" d="M75.4 284.1h0"/>
<path stroke="#aac7fd" stroke-width="4.0" d="M156.3 226.5h0"/>
<path stroke="#fff" stroke-opacity="0.85" stroke-width="0.8" d="M161.0 361.9h0M21.4 370.7h0M17.8 370.5h0M22.9 362.1h0M22.1 341.6h0M159.6 354.3h0M159.0 350.9h0M161.1 346.4h0M149.0 370.0h0M12.9 232.2h0M13.2 234.9h0M13.1 365.0h0M13.3 346.0h0M14.8 350.3h0M23.8 360.1h0M28.7 352.2h0M21.4 343.6h0M27.9 343.4h0M27.4 345.7h0M24.7 334.7h0M128.7 370.4h0M85.7 222.3h0M126.8 222.7h0M143.5 224.0h0M23.7 221.8h0M145.4 254.4h0M158.7 255.9h0M157.0 257.8h0M113.3 292.5h0M62.5 297.8h0M12.9 316.6h0M12.9 289.3h0M62.0 294.7h0M15.7 243.1h0M13.9 323.4h0M27.7 359.4h0M30.5 354.6h0M43.0 320.9h0M152.8 333.3h0M106.1 370.1h0M93.0 369.1h0M92.5 253.2h0M59.9 221.9h0M25.6 230.7h0M161.1 282.5h0M145.2 273.5h0M145.4 276.6h0M147.1 245.2h0M156.2 262.8h0M158.6 261.2h0M161.0 266.8h0M153.8 293.1h0M158.7 292.4h0M155.3 289.3h0M161.0 295.2h0M160.9 306.1h0M157.8 299.6h0M148.8 306.9h0M55.9 296.6h0M50.2 312.6h0M60.0 300.9h0M87.2 299.9h0M83.9 285.7h0M16.6 309.8h0M13.0 304.1h0M15.1 307.3h0M12.6 244.1h0M13.9 248.0h0M65.0 291.5h0M22.5 334.4h0M20.3 338.6h0M29.2 360.8h0M31.1 314.7h0M25.9 313.7h0M160.3 336.0h0M160.9 327.9h0M156.7 322.4h0M159.1 324.1h0M149.3 333.2h0M85.2 369.7h0M100.0 222.1h0M88.1 250.7h0M149.9 226.5h0M145.0 234.1h0M106.6 229.5h0M101.0 228.1h0M113.7 223.8h0M118.1 222.2h0M134.8 235.0h0M132.7 230.1h0M128.3 228.4h0M161.0 245.6h0M160.3 238.0h0M160.9 231.2h0M147.0 235.4h0M153.5 234.2h0M99.9 292.3h0M72.3 299.8h0M153.0 311.7h0M152.2 309.1h0M157.3 303.7h0M147.4 280.2h0M144.6 281.6h0M141.1 289.5h0M48.7 287.6h0M46.2 287.4h0M48.6 293.0h0M91.5 301.6h0M93.2 294.1h0M89.2 298.9h0M92.8 274.0h0M92.6 289.6h0M24.2 314.8h0M28.9 287.9h0M12.7 276.7h0M14.4 278.6h0M16.1 270.9h0M14.4 273.5h0M12.8 258.5h0M13.1 285.7h0M15.9 280.6h0M76.5 270.9h0M14.3 251.7h0M13.3 255.2h0M25.7 369.6h0M24.1 368.0h0M36.9 307.3h0M39.8 316.6h0M42.8 318.7h0M38.1 317.2h0M32.3 318.9h0M157.1 326.3h0M140.9 360.7h0M118.9 364.7h0M94.3 242.7h0M94.4 244.8h0M78.2 269.3h0M78.1 256.4h0M62.5 263.6h0M105.9 227.9h0M103.1 227.1h0M70.0 222.2h0M23.1 234.8h0M49.1 222.0h0M158.4 272.4h0M140.3 261.9h0M127.9 274.7h0M126.1 275.8h0M132.6 279.3h0M140.0 234.9h0M136.1 251.0h0M69.8 301.6h0M84.0 312.1h0M67.0 338.3h0M144.8 294.7h0M151.1 296.7h0M149.7 290.4h0M46.2 293.2h0M44.2 298.2h0M54.6 291.7h0M52.6 289.5h0M28.2 296.9h0M22.0 296.1h0M23.6 273.8h0M24.2 271.6h0M25.2 285.6h0M76.2 289.8h0M73.9 292.3h0M75.9 286.6h0M72.6 282.4h0M74.1 281.2h0M39.4 346.4h0M66.7 368.5h0M45.5 369.2h0M49.2 370.6h0M112.6 299.7h0M110.7 302.1h0M118.4 367.1h0M118.2 370.3h0M106.3 366.8h0M84.5 344.2h0M89.6 341.8h0M92.2 231.7h0M99.0 246.3h0M79.6 228.0h0M69.5 237.2h0M118.5 277.7h0M126.0 237.7h0M127.8 230.8h0M131.1 232.1h0M116.0 229.7h0M103.0 261.9h0M124.5 240.1h0M77.7 319.4h0M74.7 320.0h0M72.7 339.3h0M66.3 324.9h0M44.6 282.8h0M32.8 274.2h0M39.6 298.9h0M25.6 304.2h0M20.1 287.7h0M67.4 278.0h0M22.1 259.4h0M53.2 346.4h0M33.9 358.9h0M76.6 354.4h0M78.8 353.6h0M31.5 370.3h0M59.5 369.2h0M63.9 370.6h0M52.4 370.8h0M106.6 299.7h0M130.8 357.3h0M129.3 335.4h0M129.9 346.6h0M131.2 343.4h0M102.6 331.8h0M105.7 336.2h0M128.1 298.3h0M137.8 300.3h0M135.1 295.6h0M90.9 313.2h0M84.2 330.7h0M109.1 253.0h0M69.3 259.8h0M56.7 242.1h0M62.8 253.2h0M65.9 247.2h0M75.0 238.7h0M136.8 261.9h0M130.4 255.7h0M128.8 261.3h0M119.3 280.1h0M127.0 284.2h0M131.4 281.5h0M125.3 242.1h0M75.1 329.9h0M32.2 271.7h0M59.0 279.0h0M21.8 257.5h0M60.6 263.0h0M47.1 260.5h0M49.0 255.3h0M62.4 229.6h0M60.8 239.5h0M65.1 236.1h0M40.6 343.9h0M37.3 361.6h0M45.0 330.0h0M77.4 366.1h0M80.9 363.5h0M68.5 367.6h0M126.4 357.2h0M121.8 363.0h0M123.8 363.8h0M145.1 336.3h0M138.0 339.0h0M124.8 322.5h0M114.9 357.4h0M107.6 362.9h0M91.1 358.9h0M118.4 334.5h0M130.3 323.4h0M84.0 340.4h0M50.7 244.4h0M79.4 233.4h0M83.6 233.7h0M72.1 251.6h0M47.1 226.9h0M115.7 254.1h0M112.8 289.3h0M62.4 344.2h0M60.5 344.6h0M43.9 272.0h0M45.9 272.6h0M31.3 242.1h0M30.6 244.1h0M27.9 237.9h0M29.9 239.0h0M26.9 249.3h0M20.9 244.4h0M48.7 260.8h0M61.0 254.3h0M51.4 251.4h0M59.7 234.4h0M60.3 231.4h0M111.8 342.6h0M108.5 339.8h0M102.0 353.4h0M96.8 358.6h0M128.5 312.0h0M102.7 314.8h0M104.4 319.2h0M97.7 329.4h0M86.8 338.0h0M52.2 241.7h0M32.5 221.8h0M43.0 237.2h0M45.2 234.3h0M29.3 233.0h0M122.4 258.2h0M120.3 258.5h0M118.3 254.2h0M53.2 353.4h0M43.9 364.5h0M50.5 362.9h0M46.8 354.0h0M106.4 344.7h0M127.4 300.4h0M126.0 308.5h0M116.8 330.3h0M102.8 320.5h0M92.4 324.3h0M92.2 322.1h0M37.8 224.8h0M42.4 225.6h0M47.4 234.6h0M50.4 237.8h0M48.3 237.8h0M49.1 233.0h0M39.8 265.9h0M32.4 254.1h0M35.6 246.4h0M101.9 351.7h0M116.9 304.0h0M116.8 306.3h0M96.5 342.1h0"/>
<path stroke="#fff" stroke-opacity="0.85" stroke-width="1.2" d="M18.2 223.4h0M14.1 237.0h0M14.6 353.8h0M158.1 355.7h0M159.5 358.9h0M15.6 226.9h0M15.0 232.9h0M145.3 251.3h0M15.6 360.1h0M18.1 362.6h0M14.7 369.0h0M15.9 341.6h0M20.8 356.4h0M23.5 352.9h0M23.9 345.8h0M21.8 349.3h0M17.9 344.0h0M30.7 348.9h0M26.5 339.1h0M153.0 368.3h0M144.7 363.0h0M142.3 363.6h0M146.4 365.6h0M141.8 366.2h0M21.0 223.1h0M141.6 280.3h0M145.4 269.2h0M147.6 248.2h0M137.1 292.2h0M84.4 291.6h0M53.4 307.5h0M48.7 317.7h0M48.9 321.1h0M14.7 294.0h0M14.6 320.6h0M40.1 322.3h0M46.3 322.5h0M154.1 354.1h0M153.9 351.5h0M154.7 335.2h0M54.7 321.7h0M51.4 322.9h0M96.3 369.0h0M135.8 227.2h0M20.4 230.9h0M23.9 225.0h0M154.2 286.2h0M159.2 285.7h0M142.6 277.4h0M116.1 225.8h0M143.0 255.5h0M142.8 258.3h0M151.2 248.5h0M156.2 232.5h0M145.6 258.8h0M101.3 280.0h0M107.0 274.9h0M103.2 270.8h0M100.7 277.0h0M108.4 271.7h0M106.6 269.7h0M108.1 267.1h0M158.6 315.9h0M157.4 289.3h0M147.9 302.3h0M154.7 295.5h0M157.1 295.3h0M142.3 302.7h0M145.6 303.8h0M149.8 304.3h0M151.2 286.9h0M52.0 299.0h0M55.2 299.2h0M49.7 305.9h0M57.3 301.5h0M57.2 304.8h0M80.5 300.3h0M83.2 297.6h0M83.0 288.5h0M97.7 285.0h0M98.2 281.2h0M20.5 310.3h0M63.5 288.9h0M66.0 287.0h0M80.4 287.9h0M50.8 326.0h0M53.1 327.9h0M29.9 339.3h0M36.5 340.6h0M34.4 342.9h0M23.5 308.8h0M31.2 311.4h0M25.6 310.4h0M37.1 304.7h0M32.5 336.5h0M36.1 337.8h0M23.6 322.6h0M159.6 343.2h0M157.4 344.9h0M158.5 334.1h0M159.6 331.3h0M143.5 353.8h0M87.3 368.3h0M89.7 231.3h0M93.3 248.6h0M96.3 223.7h0M97.7 226.7h0M81.1 262.6h0M95.6 269.8h0M85.2 268.8h0M90.8 271.5h0M93.3 263.3h0M95.9 261.6h0M95.0 258.6h0M91.7 227.5h0M89.1 223.6h0M89.5 228.5h0M87.0 248.0h0M151.5 224.0h0M152.1 229.5h0M141.5 229.9h0M111.1 225.4h0M153.1 277.6h0M159.6 279.7h0M157.8 282.9h0M138.6 273.8h0M142.6 272.6h0M136.2 289.7h0M137.9 287.7h0M114.6 227.6h0M122.1 223.8h0M118.8 226.6h0M135.1 255.3h0M159.7 234.8h0M150.0 263.0h0M147.0 266.7h0M149.9 266.0h0M145.5 264.7h0M147.1 262.2h0M156.0 267.3h0M152.8 268.3h0M152.7 271.9h0M101.8 290.2h0M104.6 290.9h0M66.4 296.3h0M69.2 295.4h0M77.4 299.2h0M71.9 296.9h0M76.4 311.7h0M76.3 315.4h0M66.3 340.6h0M82.6 320.2h0M83.1 317.0h0M81.4 315.7h0M78.5 316.9h0M106.2 288.2h0M104.2 286.0h0M104.7 282.1h0M114.5 270.4h0M112.3 265.2h0M110.6 267.4h0M156.9 312.1h0M153.2 304.4h0M154.5 306.9h0M157.0 306.7h0M148.9 284.1h0M149.9 281.4h0M145.6 284.2h0M140.7 292.2h0M43.3 303.6h0M45.2 301.4h0M47.1 308.1h0M47.6 311.5h0M41.8 309.7h0M44.1 307.2h0M53.8 294.6h0M49.6 290.2h0M51.4 296.0h0M54.1 316.1h0M59.3 313.3h0M61.3 311.4h0M63.2 312.4h0M65.2 310.8h0M87.9 303.3h0M96.1 279.1h0M86.4 284.6h0M86.4 281.3h0M94.2 286.3h0M91.6 284.6h0M89.8 289.6h0M89.2 286.4h0M17.4 318.8h0M19.9 320.8h0M20.8 312.7h0M22.8 320.6h0M24.8 318.8h0M14.9 300.3h0M34.0 287.5h0M35.3 281.4h0M14.8 287.8h0M14.3 283.7h0M15.8 285.9h0M68.4 289.0h0M69.6 292.8h0M67.8 291.3h0M77.9 274.0h0M15.4 258.4h0M16.9 331.0h0M21.2 331.0h0M19.2 323.1h0M22.9 328.4h0M21.7 324.6h0M27.8 363.7h0M33.9 348.8h0M35.7 345.8h0M85.2 366.8h0M83.0 367.9h0M55.0 364.8h0M54.6 367.8h0M33.8 310.6h0M34.1 308.1h0M36.2 312.5h0M39.2 309.5h0M40.0 313.4h0M42.3 312.2h0M37.8 320.4h0M35.9 315.1h0M26.2 322.6h0M26.8 320.1h0M29.4 318.6h0M27.0 331.4h0M28.3 325.3h0M32.1 324.8h0M154.8 343.1h0M149.4 342.2h0M150.4 339.2h0M153.4 338.4h0M155.7 340.7h0M156.8 328.9h0M154.1 329.9h0M152.0 328.0h0M105.7 293.9h0M131.6 368.8h0M142.4 358.0h0M141.9 355.5h0M99.4 366.6h0M150.4 322.5h0M151.8 319.2h0M92.2 246.2h0M89.6 245.3h0M82.1 268.2h0M80.4 265.6h0M80.6 270.3h0M78.0 266.1h0M81.6 256.1h0M76.3 263.7h0M80.0 274.3h0M81.5 272.5h0M90.5 255.8h0M92.1 258.6h0M87.7 255.4h0M91.0 261.5h0M84.6 257.7h0M87.9 262.9h0M87.7 233.4h0M87.6 239.4h0M89.1 236.3h0M156.3 229.1h0M154.4 228.2h0M156.5 224.3h0M154.3 225.5h0M108.1 225.6h0M103.7 223.6h0M74.8 224.8h0M71.3 227.2h0M71.4 229.9h0M62.0 226.7h0M66.4 223.5h0M19.2 235.6h0M20.9 233.7h0M52.6 223.4h0M155.6 276.2h0M155.3 273.4h0M129.9 269.6h0M138.5 271.3h0M135.2 269.5h0M127.4 271.1h0M136.5 284.7h0M137.9 281.3h0M135.5 279.1h0M129.9 240.7h0M113.9 236.2h0M112.2 231.7h0M121.7 236.3h0M109.6 237.1h0M111.5 262.9h0M133.1 254.3h0M133.1 251.5h0M138.4 236.7h0M132.8 241.7h0M133.1 244.6h0M136.1 245.6h0M142.4 251.1h0M140.4 248.5h0M137.4 253.5h0M152.1 246.5h0M149.7 240.7h0M153.1 238.5h0M65.3 306.6h0M78.7 310.4h0M78.3 307.3h0M85.5 309.3h0M78.1 332.5h0M67.2 330.9h0M62.3 336.4h0M67.3 333.9h0M65.2 336.3h0M69.1 315.7h0M73.6 317.4h0M148.0 298.4h0M145.4 291.4h0M44.9 290.2h0M72.2 269.5h0M58.1 291.0h0M60.2 288.3h0M51.2 285.0h0M53.3 286.2h0M48.7 279.2h0M94.8 306.7h0M89.3 277.4h0M91.9 277.1h0M93.0 279.2h0M91.2 281.3h0M21.2 302.7h0M23.6 305.1h0M26.4 290.7h0M21.5 269.9h0M19.0 271.1h0M18.9 264.3h0M18.6 261.6h0M16.3 261.2h0M14.7 263.4h0M21.2 277.9h0M19.5 280.0h0M21.1 282.4h0M23.7 281.7h0M74.1 295.2h0M71.3 288.9h0M73.3 277.7h0M33.8 353.9h0M35.3 351.8h0M73.2 352.0h0M42.9 369.1h0M58.2 364.0h0M60.5 366.5h0M52.3 368.9h0M101.4 295.2h0M103.7 295.7h0M115.4 300.4h0M114.7 302.5h0M134.3 367.5h0M134.8 364.9h0M130.6 354.3h0M139.5 352.2h0M137.2 350.1h0M114.9 368.5h0M121.3 368.8h0M111.9 367.2h0M113.2 361.9h0M143.1 313.3h0M86.8 345.7h0M95.7 239.1h0M96.4 241.2h0M98.7 241.4h0M93.6 229.5h0M96.0 229.3h0M64.3 258.6h0M80.7 276.4h0M83.9 279.9h0M85.8 271.6h0M83.9 273.1h0M88.0 272.8h0M69.2 252.8h0M68.5 239.1h0M70.9 242.1h0M120.7 274.6h0M119.1 272.6h0M115.3 277.1h0M126.4 279.8h0M123.9 235.3h0M116.4 234.1h0M119.7 234.2h0M118.7 229.5h0M120.8 232.0h0M103.4 258.6h0M106.6 258.7h0M113.6 239.4h0M115.9 242.3h0M121.8 239.7h0M130.6 246.3h0M130.4 249.5h0M139.6 238.7h0M141.2 245.6h0M68.2 306.8h0M75.7 306.9h0M73.9 303.3h0M74.3 309.7h0M56.4 335.4h0M56.1 345.6h0M79.3 321.4h0M73.2 323.4h0M79.0 340.5h0M79.6 343.7h0M77.7 346.2h0M75.4 334.1h0M70.0 337.4h0M69.6 334.7h0M73.8 332.3h0M56.9 326.9h0M65.8 270.1h0M63.0 270.5h0M63.1 266.4h0M61.8 268.1h0M60.8 273.3h0M55.5 275.0h0M57.7 272.7h0M41.9 274.6h0M52.0 274.3h0M45.9 279.7h0M40.9 279.7h0M88.3 310.3h0M91.0 309.1h0M88.4 312.6h0M38.5 273.4h0M35.4 291.1h0M33.4 294.5h0M35.1 297.1h0M30.5 299.5h0M33.1 300.0h0M33.9 303.0h0M28.0 305.3h0M21.1 292.2h0M23.7 290.3h0M79.9 285.5h0M77.4 284.7h0M81.9 284.1h0M81.7 281.4h0M76.8 282.4h0M66.1 282.7h0M68.6 280.7h0M59.2 267.4h0M51.7 341.0h0M49.5 337.6h0M50.8 344.1h0M47.2 345.8h0M35.4 356.2h0M41.1 350.2h0M37.6 355.7h0M85.7 349.8h0M79.4 348.7h0M87.6 363.0h0M35.7 367.7h0M28.4 369.2h0M30.0 366.1h0M56.8 369.5h0M70.8 357.0h0M96.9 304.1h0M107.7 302.9h0M106.3 305.5h0M103.1 306.3h0M101.0 303.8h0M127.7 354.8h0M124.8 352.5h0M129.4 367.1h0M126.3 368.8h0M132.2 362.5h0M132.9 359.1h0M129.9 363.4h0M146.0 346.3h0M146.4 343.0h0M139.0 347.6h0M132.1 333.4h0M133.1 337.9h0M133.8 335.1h0M128.7 340.2h0M99.5 363.0h0M122.3 345.9h0M116.7 339.3h0M114.3 342.9h0M105.3 332.7h0M101.4 336.9h0M143.1 318.1h0M137.8 321.0h0M118.3 300.1h0M140.5 314.5h0M138.0 318.6h0M140.6 317.1h0M95.5 309.3h0M92.7 310.5h0M86.3 325.8h0M85.8 322.2h0M87.2 331.3h0M96.3 337.6h0M99.0 338.7h0M103.7 231.9h0M101.2 230.9h0M102.6 251.9h0M99.8 249.4h0M97.2 250.3h0M101.2 255.3h0M97.3 255.5h0M68.6 257.0h0M70.1 255.0h0M67.0 262.4h0M66.4 252.4h0M65.1 254.4h0M61.3 248.1h0M63.3 245.6h0M62.8 250.3h0M83.4 239.2h0M81.2 241.7h0M84.1 248.0h0M81.1 245.0h0M78.2 245.5h0M76.9 242.6h0M74.1 241.2h0M77.8 238.4h0M78.6 240.8h0M37.4 230.8h0M37.8 239.3h0M131.0 264.8h0M134.4 265.8h0M134.7 258.1h0M126.2 267.1h0M120.4 270.6h0M125.5 269.8h0M122.9 271.2h0M116.1 267.8h0M114.6 265.3h0M109.7 278.5h0M123.0 292.5h0M120.0 294.0h0M124.0 284.3h0M122.1 286.7h0M123.6 281.1h0M128.4 281.6h0M127.9 242.5h0M128.2 245.0h0M52.8 333.7h0M50.3 335.0h0M51.9 330.9h0M75.2 325.5h0M77.7 330.0h0M79.4 328.0h0M77.9 325.1h0M72.2 349.2h0M60.1 321.5h0M58.9 318.6h0M60.6 315.6h0M63.2 314.9h0M66.0 317.3h0M51.3 270.8h0M53.7 268.6h0M28.0 270.4h0M61.3 276.5h0M64.1 278.1h0M60.2 281.8h0M63.5 281.0h0M17.2 252.5h0M17.7 256.5h0M58.7 264.9h0M42.8 250.2h0M65.2 238.6h0M43.6 343.5h0M39.0 341.3h0M52.4 350.5h0M39.0 358.3h0M43.4 327.2h0M46.0 325.5h0M48.3 327.0h0M47.8 329.8h0M46.8 334.2h0M38.8 336.5h0M39.9 332.3h0M46.7 337.0h0M83.1 359.9h0M78.7 359.3h0M80.7 366.1h0M68.8 364.5h0M71.9 364.8h0M70.7 369.3h0M72.7 367.2h0M68.7 351.9h0M69.6 349.2h0M64.5 347.3h0M60.4 350.3h0M63.5 350.1h0M65.4 352.6h0M127.1 361.4h0M128.0 358.7h0M121.2 359.7h0M144.2 340.2h0M142.2 333.2h0M139.0 335.2h0M137.6 343.5h0M134.9 342.5h0M139.6 340.8h0M124.9 337.1h0M125.7 339.5h0M120.6 339.3h0M123.0 341.4h0M121.7 321.8h0M112.3 358.7h0M102.0 361.7h0M93.0 361.0h0M96.4 360.7h0M142.7 329.6h0M140.5 323.1h0M147.0 323.8h0M143.5 321.6h0M136.3 328.6h0M140.3 304.2h0M140.4 307.8h0M114.4 313.8h0M113.1 334.9h0M115.6 336.0h0M133.0 323.6h0M133.7 319.5h0M131.0 319.5h0M126.6 317.9h0M124.7 315.4h0M129.9 314.3h0M129.1 317.3h0M107.6 324.0h0M106.5 329.9h0M102.1 309.7h0M99.5 311.0h0M102.2 329.2h0M104.4 328.2h0M107.6 321.2h0M104.1 312.1h0M92.7 331.0h0M89.5 329.7h0M89.0 326.5h0M88.6 320.6h0M81.8 338.5h0M93.0 345.4h0M47.2 244.2h0M79.5 236.3h0M76.4 249.3h0M77.9 251.8h0M76.2 253.9h0M29.1 223.1h0M31.9 225.7h0M50.5 226.0h0M40.0 232.8h0M27.8 234.6h0M127.6 250.6h0M115.6 262.9h0M113.5 261.1h0M113.3 257.3h0M116.6 282.6h0M111.4 282.8h0M118.1 286.1h0M133.5 289.4h0M127.6 291.9h0M126.2 289.3h0M111.6 245.2h0M114.6 245.2h0M111.4 251.0h0M125.8 246.2h0M125.4 248.6h0M58.9 342.3h0M61.6 339.1h0M59.1 340.0h0M47.9 266.8h0M48.4 269.7h0M34.3 262.1h0M32.7 264.7h0M34.2 241.8h0M39.5 258.1h0M25.1 255.9h0M25.0 239.7h0M26.5 244.8h0M24.2 242.4h0M50.6 257.2h0M49.6 264.9h0M53.1 265.6h0M62.0 257.8h0M59.9 260.2h0M53.7 257.1h0M52.0 246.5h0M58.1 248.6h0M55.2 245.7h0M54.2 254.0h0M58.7 353.4h0M47.1 349.4h0M126.0 330.1h0M125.3 325.1h0M118.8 352.2h0M114.9 354.6h0M111.4 353.4h0M118.5 348.3h0M110.4 345.5h0M107.7 351.4h0M109.5 357.5h0M109.5 354.9h0M107.5 353.7h0M102.0 359.2h0M104.7 357.7h0M105.3 354.7h0M99.1 355.0h0M99.5 357.8h0M137.4 309.8h0M137.8 313.0h0M132.0 310.5h0M134.2 308.5h0M132.3 313.3h0M135.3 314.7h0M121.0 316.0h0M118.4 313.9h0M119.8 318.7h0M116.3 315.2h0M114.5 307.7h0M115.5 310.8h0M110.2 329.1h0M100.1 313.9h0M100.0 327.6h0M89.7 337.9h0M89.9 334.8h0M55.2 240.4h0M43.6 240.5h0M46.6 229.8h0M124.6 261.6h0M123.4 254.1h0M119.5 251.5h0M35.2 269.6h0M34.9 266.6h0M37.7 270.3h0M41.3 248.5h0M36.0 243.2h0M41.5 242.7h0M38.4 241.7h0M33.5 258.5h0M30.9 256.7h0M56.4 226.8h0M55.3 357.3h0M60.1 356.0h0M59.7 361.0h0M51.2 354.8h0M50.9 357.1h0M89.3 353.3h0M96.9 354.2h0M89.9 350.5h0M93.1 348.7h0M128.7 307.6h0M123.1 326.5h0M99.4 319.0h0M100.3 325.4h0M95.8 325.3h0M95.1 320.4h0M97.5 321.2h0M97.8 324.0h0M40.2 223.1h0M54.8 234.1h0M56.1 231.1h0M51.6 228.6h0M54.8 228.9h0M51.3 234.7h0M36.8 262.9h0M41.7 263.9h0M31.0 251.0h0M38.5 249.4h0M66.9 362.0h0M67.4 359.0h0M62.8 360.7h0M48.2 360.3h0M48.6 357.9h0M43.6 358.7h0M119.2 307.9h0M122.0 303.0h0M119.3 302.4h0M98.8 346.0h0M101.6 344.6h0M101.4 342.2h0"/>
<path stroke="#fff" stroke-opacity="0.85" stroke-width="1.0" d="M13.9 239.6h0M16.0 235.1h0M20.4 369.3h0M17.1 356.7h0M25.5 341.6h0M160.3 338.7h0M17.0 230.2h0M17.9 348.1h0M155.8 368.4h0M144.3 367.8h0M129.6 222.6h0M131.4 228.1h0M133.5 224.2h0M131.7 224.9h0M146.7 272.1h0M58.0 296.1h0M59.2 293.5h0M156.9 349.4h0M144.9 359.4h0M147.2 357.7h0M151.1 355.7h0M93.7 223.0h0M91.4 251.2h0M146.8 226.3h0M55.2 223.5h0M26.4 223.1h0M150.7 276.3h0M150.3 273.7h0M133.6 274.8h0M131.2 276.8h0M153.5 251.5h0M147.2 256.2h0M151.9 255.3h0M153.9 257.6h0M101.1 287.2h0M85.9 315.8h0M99.9 263.7h0M103.7 274.4h0M141.1 300.1h0M159.3 302.3h0M153.7 297.5h0M155.3 299.5h0M158.9 297.8h0M146.2 306.6h0M53.1 310.9h0M50.8 315.6h0M61.5 303.3h0M59.9 305.7h0M85.9 313.8h0M16.3 290.4h0M17.6 338.3h0M29.6 307.4h0M29.0 316.0h0M28.9 309.6h0M32.2 306.8h0M158.6 340.8h0M146.7 355.0h0M149.2 353.9h0M149.1 347.1h0M150.6 350.7h0M148.7 329.5h0M93.1 267.4h0M90.8 268.5h0M91.6 224.6h0M87.4 226.1h0M86.7 252.3h0M139.1 232.8h0M25.1 233.3h0M155.1 283.3h0M141.2 274.6h0M133.2 271.1h0M136.2 233.0h0M134.8 230.1h0M112.1 227.4h0M110.6 229.3h0M136.0 237.1h0M157.5 249.5h0M146.7 238.9h0M151.5 232.6h0M159.1 270.1h0M64.9 298.8h0M74.6 300.8h0M68.0 311.7h0M111.1 270.1h0M155.1 302.4h0M142.5 295.2h0M143.5 288.9h0M55.9 318.8h0M61.5 308.7h0M64.1 308.7h0M90.6 303.9h0M97.1 276.7h0M95.0 273.6h0M16.1 275.1h0M14.6 268.7h0M76.6 276.5h0M14.1 328.0h0M15.5 324.8h0M25.4 364.4h0M38.4 311.7h0M33.4 316.4h0M26.1 328.7h0M34.3 328.7h0M151.2 344.1h0M152.7 325.1h0M155.2 324.7h0M109.8 294.9h0M109.8 297.8h0M139.6 355.0h0M138.9 360.9h0M90.4 363.9h0M87.3 348.7h0M93.1 239.1h0M91.6 236.3h0M92.2 241.4h0M89.8 242.1h0M96.5 246.3h0M95.7 248.4h0M78.4 261.4h0M76.7 258.2h0M79.0 225.9h0M81.8 224.3h0M83.8 226.2h0M158.3 226.5h0M106.2 223.3h0M74.5 232.9h0M67.2 234.8h0M68.3 231.5h0M68.4 226.7h0M158.6 277.1h0M160.3 274.7h0M143.0 268.6h0M141.5 270.7h0M142.7 265.4h0M116.1 273.2h0M111.8 235.0h0M142.7 235.8h0M135.3 240.0h0M137.4 248.6h0M141.0 253.5h0M159.2 242.5h0M149.4 243.9h0M65.8 301.3h0M63.9 303.6h0M81.8 312.7h0M83.3 328.4h0M70.3 325.1h0M41.1 289.5h0M69.1 271.9h0M54.5 281.9h0M55.4 284.3h0M92.0 306.6h0M88.8 280.1h0M37.5 278.9h0M20.3 297.8h0M22.0 300.3h0M24.3 300.0h0M24.6 297.6h0M29.3 294.4h0M20.9 274.8h0M18.9 273.6h0M23.6 278.7h0M19.1 285.7h0M78.2 290.3h0M71.7 291.4h0M25.5 264.4h0M82.6 345.2h0M63.8 365.7h0M112.2 303.5h0M136.9 368.7h0M138.9 366.5h0M137.6 364.4h0M141.8 351.5h0M111.2 364.6h0M109.6 368.5h0M95.8 334.4h0M92.8 333.3h0M91.6 340.0h0M89.8 344.0h0M93.2 233.5h0M107.4 244.5h0M103.8 242.8h0M100.4 243.8h0M64.6 261.3h0M66.0 256.7h0M78.8 278.0h0M83.2 277.1h0M87.4 275.3h0M84.8 275.3h0M82.3 228.4h0M73.4 236.8h0M23.0 237.5h0M129.1 267.1h0M123.1 273.5h0M125.2 296.7h0M125.2 293.8h0M123.7 232.5h0M131.6 234.8h0M115.0 231.6h0M106.5 263.8h0M108.1 261.9h0M109.7 256.0h0M110.0 243.2h0M138.3 244.0h0M137.7 241.0h0M142.4 238.0h0M144.8 240.0h0M144.7 243.8h0M70.7 303.6h0M69.9 309.5h0M59.2 347.4h0M70.0 330.3h0M71.3 328.1h0M75.3 338.1h0M71.2 332.5h0M57.2 323.5h0M65.6 267.3h0M56.5 278.6h0M48.9 276.6h0M46.3 275.8h0M42.0 282.7h0M44.9 277.6h0M36.4 275.2h0M38.9 291.9h0M32.2 304.3h0M25.9 301.8h0M29.7 303.5h0M23.4 288.0h0M18.8 290.0h0M79.1 280.4h0M25.5 259.9h0M37.9 352.7h0M38.0 329.0h0M86.7 353.2h0M84.7 356.0h0M85.2 364.4h0M87.6 360.0h0M85.3 358.7h0M75.6 368.1h0M76.8 357.7h0M81.5 356.3h0M33.5 365.6h0M70.9 353.7h0M100.1 297.5h0M96.4 297.6h0M102.0 299.9h0M123.7 367.4h0M130.1 338.1h0M125.2 347.8h0M97.8 332.5h0M100.8 333.4h0M103.5 338.1h0M136.1 333.7h0M132.4 295.3h0M123.1 298.1h0M126.7 321.0h0M81.7 333.0h0M94.5 340.0h0M99.7 239.2h0M102.9 239.4h0M97.5 237.4h0M97.6 231.6h0M96.2 233.8h0M108.0 247.8h0M106.5 251.2h0M95.8 252.9h0M73.2 257.5h0M72.4 255.4h0M71.5 260.1h0M67.6 265.5h0M65.1 250.1h0M83.9 250.9h0M81.3 252.9h0M45.0 246.4h0M34.8 239.4h0M112.9 279.1h0M108.8 280.9h0M116.5 292.1h0M133.4 284.3h0M118.8 249.1h0M54.7 340.9h0M56.7 338.8h0M56.3 343.0h0M49.4 331.3h0M48.7 333.5h0M74.0 328.1h0M64.4 321.6h0M28.5 266.4h0M45.2 249.2h0M46.4 256.5h0M63.0 240.8h0M41.4 366.3h0M37.9 365.6h0M44.2 331.9h0M40.4 339.2h0M81.1 358.4h0M82.9 362.7h0M76.6 363.4h0M78.7 361.8h0M122.4 354.0h0M123.3 357.4h0M135.3 340.0h0M121.8 336.7h0M146.3 327.7h0M135.4 331.0h0M133.2 331.0h0M132.1 328.4h0M137.4 302.7h0M133.5 305.1h0M135.6 317.6h0M134.8 321.4h0M129.5 321.6h0M105.0 325.3h0M107.4 311.8h0M91.4 315.8h0M95.1 317.4h0M88.6 317.3h0M82.9 335.6h0M82.0 236.4h0M81.9 231.8h0M72.7 249.5h0M73.9 253.5h0M42.1 230.9h0M32.3 237.1h0M113.6 281.5h0M115.9 288.9h0M110.5 287.0h0M131.9 286.3h0M131.6 292.0h0M128.1 286.2h0M116.1 248.6h0M110.2 248.0h0M114.6 251.2h0M124.2 244.5h0M121.5 247.5h0M123.1 249.1h0M63.2 340.9h0M45.4 266.2h0M43.5 268.1h0M41.4 252.7h0M27.0 257.6h0M20.3 249.2h0M24.4 251.2h0M56.2 263.6h0M57.8 252.0h0M52.7 362.1h0M44.9 351.3h0M128.4 327.8h0M127.8 325.6h0M114.8 346.3h0M110.2 350.9h0M106.6 359.1h0M116.7 318.2h0M129.7 309.9h0M126.4 311.8h0M110.6 326.0h0M113.5 331.9h0M98.1 316.7h0M95.8 328.6h0M87.4 333.7h0M85.2 335.6h0M56.9 236.2h0M35.6 223.8h0M44.7 231.6h0M31.9 233.9h0M28.5 230.5h0M31.2 229.1h0M122.0 251.6h0M40.4 267.9h0M36.2 256.9h0M58.5 230.2h0M59.0 227.7h0M55.5 354.6h0M52.9 358.6h0M63.4 355.8h0M58.4 358.2h0M46.5 366.9h0M50.0 366.6h0M49.3 353.4h0M103.4 340.7h0M105.5 341.4h0M95.0 356.7h0M96.4 351.0h0M124.0 300.3h0M120.8 324.9h0M103.2 324.0h0M38.6 228.2h0M41.3 228.4h0M49.0 230.7h0M37.0 265.3h0M39.4 261.6h0M38.8 252.2h0M35.8 254.4h0M33.1 246.9h0M64.6 358.4h0M64.4 362.7h0M46.5 356.7h0M105.4 350.1h0M104.6 346.3h0M98.5 350.0h0M122.5 306.5h0M96.2 344.2h0M99.2 341.2h0"/>
<path stroke="#fff" stroke-opacity="0.85" stroke-width="1.4" d="M17.3 367.4h0M150.2 358.4h0M156.2 362.5h0M157.8 365.7h0M152.6 362.3h0M150.8 365.4h0M147.7 277.8h0M155.7 319.3h0M82.2 294.4h0M88.0 291.8h0M64.4 294.1h0M90.3 367.1h0M139.8 226.8h0M23.4 229.1h0M135.8 275.9h0M156.2 251.8h0M153.3 260.9h0M99.8 268.3h0M48.9 302.2h0M15.0 312.2h0M15.6 334.1h0M31.0 342.2h0M148.0 336.2h0M87.9 266.6h0M144.9 230.0h0M152.8 280.6h0M158.7 309.6h0M40.8 302.6h0M55.6 313.2h0M89.5 294.2h0M17.7 314.4h0M17.3 303.5h0M16.3 297.1h0M39.8 286.0h0M36.5 285.0h0M31.4 280.7h0M22.0 266.5h0M45.9 316.7h0M45.3 313.5h0M34.0 321.2h0M31.6 332.4h0M137.5 357.7h0M132.8 350.3h0M102.4 368.1h0M149.6 315.5h0M143.4 309.3h0M84.5 261.0h0M64.0 223.5h0M155.4 246.5h0M81.1 304.2h0M84.9 305.6h0M59.7 333.8h0M58.6 284.8h0M51.8 282.1h0M25.9 276.5h0M29.7 277.1h0M16.3 265.3h0M79.0 293.9h0M76.8 296.1h0M73.7 285.9h0M69.8 275.8h0M116.3 362.2h0M145.0 315.6h0M69.3 246.4h0M20.6 238.0h0M128.8 237.7h0M111.1 239.9h0M120.0 242.1h0M64.4 328.5h0M60.5 329.7h0M42.6 277.3h0M28.8 301.6h0M56.9 269.5h0M40.4 326.0h0M82.8 347.8h0M74.2 359.0h0M74.3 362.4h0M94.8 301.1h0M104.1 298.5h0M142.1 348.6h0M127.0 334.6h0M120.5 297.4h0M114.0 320.4h0M105.2 236.2h0M72.7 263.6h0M70.9 266.4h0M119.0 267.8h0M131.3 258.3h0M123.8 289.5h0M72.1 343.2h0M73.9 346.1h0M69.0 343.5h0M44.9 264.1h0M49.0 252.2h0M64.1 231.2h0M43.2 340.0h0M67.8 346.7h0M117.7 359.6h0M139.8 327.1h0M133.8 326.9h0M108.2 307.6h0M111.4 306.3h0M110.9 318.9h0M111.0 315.3h0M40.4 236.5h0M126.8 253.6h0M42.6 255.8h0M56.6 260.5h0M49.6 351.1h0M111.8 347.5h0M117.7 310.9h0M114.4 324.4h0M46.5 241.2h0M33.5 231.3h0M119.1 262.4h0M123.8 264.4h0M120.6 264.8h0M42.6 245.9h0M130.5 304.5h0M117.9 326.3h0M123.1 329.1h0M45.1 361.1h0"/>
<path stroke="#fff" stroke-opacity="0.85" stroke-width="1.6" d="M60.3 298.6h0M94.5 291.9h0M125.2 224.8h0M28.0 285.3h0M66.9 229.8h0M158.1 239.8h0M151.6 293.3h0M77.5 231.6h0M19.1 242.1h0M41.1 297.0h0M35.1 361.7h0M108.7 337.4h0M45.0 224.6h0M61.5 236.1h0M63.5 234.6h0M105.6 363.9h0M86.5 340.0h0M122.0 244.9h0M92.0 356.6h0M119.0 331.5h0"/>
</g>
<rect x="11" y="220.2" width="152" height="151.5" fill="none" stroke="#9a9a9a" stroke-width="0.6"/>
<clipPath id="pe1"><rect x="170.4" y="220.2" width="152" height="151.5"/></clipPath>
<g clip-path="url(#pe1)" stroke-linecap="round" fill="none"><rect x="170.4" y="220.2" width="152" height="151.5" fill="#7d9be8"/>
<path stroke="#82a6fb" stroke-width="9.2" d="M180.3 223.0h0"/>
<path stroke="#7295f4" stroke-width="9.2" d="M182.4 278.3h0"/>
<path stroke="#779af7" stroke-width="9.2" d="M253.6 317.0h0"/>
<path stroke="#6788ee" stroke-width="9.2" d="M189.2 317.3h0"/>
<path stroke="#9fbfff" stroke-width="8.8" d="M314.8 351.8h0"/>
<path stroke="#7da0f9" stroke-width="8.8" d="M197.5 229.4h0"/>
<path stroke="#6788ee" stroke-width="8.8" d="M290.7 231.8h0M186.9 240.9h0"/>
<path stroke="#536edd" stroke-width="8.8" d="M219.4 277.7h0M229.5 321.5h0M173.2 327.7h0M196.1 351.1h0M273.9 294.8h0"/>
<path stroke="#5875e1" stroke-width="8.8" d="M315.1 369.5h0M256.2 287.6h0M238.0 324.4h0M214.9 248.2h0"/>
<path stroke="#8fb1fe" stroke-width="8.8" d="M244.7 368.9h0M262.3 234.7h0"/>
<path stroke="#4e68d8" stroke-width="8.8" d="M228.4 369.5h0M307.7 264.6h0"/>
<path stroke="#94b6ff" stroke-width="8.8" d="M236.3 331.8h0"/>
<path stroke="#5d7ce6" stroke-width="8.8" d="M299.6 239.3h0M213.8 288.0h0M312.3 312.1h0"/>
<path stroke="#6c8ff1" stroke-width="8.8" d="M294.6 315.7h0"/>
<path stroke="#82a6fb" stroke-width="8.8" d="M212.4 328.3h0M194.1 310.9h0"/>
<path stroke="#4961d2" stroke-width="8.8" d="M178.1 290.9h0"/>
<path stroke="#779af7" stroke-width="8.8" d="M239.3 303.1h0"/>
<path stroke="#6282ea" stroke-width="8.8" d="M283.8 248.7h0M191.0 362.6h0"/>
<path stroke="#d6dce4" stroke-width="8.8" d="M213.0 228.9h0"/>
<path stroke="#9abbff" stroke-width="8.8" d="M259.2 227.5h0"/>
<path stroke="#7295f4" stroke-width="8.8" d="M278.3 238.0h0"/>
<path stroke="#6282ea" stroke-width="8.4" d="M173.0 335.5h0M319.8 357.6h0M173.0 229.8h0"/>
<path stroke="#a5c3fe" stroke-width="8.4" d="M288.3 301.6h0"/>
<path stroke="#9abbff" stroke-width="8.4" d="M310.1 298.4h0M186.2 303.2h0"/>
<path stroke="#4e68d8" stroke-width="8.4" d="M319.7 282.0h0M286.2 326.5h0M254.6 267.2h0"/>
<path stroke="#6788ee" stroke-width="8.4" d="M278.2 308.8h0M268.0 328.5h0"/>
<path stroke="#536edd" stroke-width="8.4" d="M220.8 308.3h0M206.2 274.4h0M197.6 289.1h0M292.5 256.4h0M212.5 360.4h0"/>
<path stroke="#7295f4" stroke-width="8.4" d="M283.6 358.7h0"/>
<path stroke="#4961d2" stroke-width="8.4" d="M295.8 364.8h0"/>
<path stroke="#5d7ce6" stroke-width="8.4" d="M238.9 343.6h0M240.0 285.4h0M304.8 366.0h0M245.3 298.7h0M319.7 332.8h0M246.7 259.7h0M254.4 359.7h0M238.3 351.0h0M236.0 358.2h0M242.9 309.8h0"/>
<path stroke="#7da0f9" stroke-width="8.4" d="M217.6 222.8h0M242.2 336.8h0M256.9 274.3h0"/>
<path stroke="#6c8ff1" stroke-width="8.4" d="M298.6 329.3h0M177.6 272.1h0M302.7 313.9h0M239.5 274.5h0"/>
<path stroke="#8fb1fe" stroke-width="8.4" d="M223.3 239.4h0M310.2 327.3h0"/>
<path stroke="#445acc" stroke-width="8.4" d="M185.4 228.7h0M242.9 361.3h0"/>
<path stroke="#b5cdfa" stroke-width="8.4" d="M199.9 325.0h0"/>
<path stroke="#779af7" stroke-width="8.4" d="M196.5 250.3h0"/>
<path stroke="#82a6fb" stroke-width="8.4" d="M238.5 251.5h0"/>
<path stroke="#9fbfff" stroke-width="8.4" d="M268.1 302.1h0"/>
<path stroke="#6788ee" stroke-width="8.0" d="M284.9 276.8h0M279.2 369.7h0"/>
<path stroke="#5875e1" stroke-width="8.0" d="M314.1 285.9h0M319.9 239.9h0M232.6 272.6h0M217.1 339.9h0M286.0 294.8h0"/>
<path stroke="#6282ea" stroke-width="8.0" d="M227.9 308.1h0M198.1 343.9h0M287.5 317.0h0M234.3 243.3h0M275.5 302.1h0M221.9 321.1h0M263.5 369.6h0M172.8 222.6h0"/>
<path stroke="#4e68d8" stroke-width="8.0" d="M262.7 283.7h0M241.6 317.6h0"/>
<path stroke="#536edd" stroke-width="8.0" d="M251.2 223.9h0M303.4 258.5h0"/>
<path stroke="#779af7" stroke-width="8.0" d="M302.1 269.5h0M204.0 250.2h0M246.4 277.1h0"/>
<path stroke="#6c8ff1" stroke-width="8.0" d="M257.7 323.6h0M260.8 356.0h0"/>
<path stroke="#7295f4" stroke-width="8.0" d="M243.5 235.2h0M230.3 222.7h0M216.2 268.1h0M305.2 247.9h0"/>
<path stroke="#9fbfff" stroke-width="8.0" d="M172.9 343.5h0"/>
<path stroke="#94b6ff" stroke-width="8.0" d="M276.7 355.9h0"/>
<path stroke="#5d7ce6" stroke-width="8.0" d="M193.0 327.6h0M277.5 362.9h0"/>
<path stroke="#82a6fb" stroke-width="8.0" d="M269.1 256.2h0"/>
<path stroke="#7da0f9" stroke-width="8.0" d="M303.0 351.5h0M314.1 227.4h0M235.5 291.4h0"/>
<path stroke="#88abfd" stroke-width="8.0" d="M246.2 343.1h0"/>
<path stroke="#8fb1fe" stroke-width="8.0" d="M233.8 338.8h0"/>
<path stroke="#4961d2" stroke-width="8.0" d="M201.4 303.1h0"/>
<path stroke="#afcafc" stroke-width="8.0" d="M292.9 296.4h0"/>
<path stroke="#bad0f8" stroke-width="8.0" d="M305.2 292.9h0"/>
<path stroke="#6282ea" stroke-width="7.6" d="M298.4 246.5h0M258.9 261.4h0M266.5 308.9h0M248.1 305.2h0M242.9 329.7h0"/>
<path stroke="#779af7" stroke-width="7.6" d="M245.2 352.3h0M257.4 365.7h0"/>
<path stroke="#5875e1" stroke-width="7.6" d="M193.2 271.5h0M176.7 245.4h0M267.8 335.8h0M315.5 254.8h0M212.7 237.0h0M214.5 305.2h0M297.3 309.1h0"/>
<path stroke="#536edd" stroke-width="7.6" d="M211.6 299.7h0M220.2 327.4h0M201.3 313.8h0"/>
<path stroke="#cdd9ec" stroke-width="7.6" d="M222.3 257.4h0"/>
<path stroke="#5d7ce6" stroke-width="7.6" d="M186.7 310.2h0M271.4 322.4h0M230.6 279.3h0M223.4 337.2h0M271.7 351.2h0M250.6 283.0h0"/>
<path stroke="#a5c3fe" stroke-width="7.6" d="M294.9 335.2h0"/>
<path stroke="#7295f4" stroke-width="7.6" d="M256.2 348.5h0M253.2 342.7h0M220.3 362.4h0M221.5 298.1h0M225.7 274.2h0M314.4 267.0h0M266.4 295.2h0"/>
<path stroke="#4e68d8" stroke-width="7.6" d="M212.3 335.3h0M194.1 222.6h0"/>
<path stroke="#82a6fb" stroke-width="7.6" d="M287.9 242.8h0"/>
<path stroke="#94b6ff" stroke-width="7.6" d="M196.5 261.4h0"/>
<path stroke="#8fb1fe" stroke-width="7.6" d="M265.5 222.6h0"/>
<path stroke="#88abfd" stroke-width="7.6" d="M181.1 346.7h0"/>
<path stroke="#6788ee" stroke-width="7.6" d="M303.4 324.6h0M178.9 311.9h0M278.1 278.8h0"/>
<path stroke="#4961d2" stroke-width="7.6" d="M242.7 292.0h0"/>
<path stroke="#9abbff" stroke-width="7.6" d="M290.5 359.7h0"/>
<path stroke="#bad0f8" stroke-width="7.6" d="M289.5 272.1h0"/>
<path stroke="#7da0f9" stroke-width="7.6" d="M191.2 345.0h0"/>
<path stroke="#6788ee" stroke-width="7.2" d="M253.8 246.8h0M320.1 364.5h0M272.0 312.5h0M204.7 343.1h0M270.3 238.8h0"/>
<path stroke="#7da0f9" stroke-width="7.2" d="M224.8 289.5h0M273.0 262.7h0M295.9 270.1h0"/>
<path stroke="#7295f4" stroke-width="7.2" d="M311.6 292.1h0M203.0 292.7h0M222.4 250.8h0M194.3 295.3h0"/>
<path stroke="#779af7" stroke-width="7.2" d="M172.7 359.7h0M233.2 364.4h0"/>
<path stroke="#6c8ff1" stroke-width="7.2" d="M217.8 346.6h0M199.3 268.6h0M237.1 237.1h0M303.1 226.8h0"/>
<path stroke="#82a6fb" stroke-width="7.2" d="M260.0 295.0h0"/>
<path stroke="#6282ea" stroke-width="7.2" d="M264.9 341.7h0M320.1 288.8h0M184.4 336.5h0"/>
<path stroke="#9abbff" stroke-width="7.2" d="M240.6 223.3h0M264.5 322.5h0"/>
<path stroke="#4e68d8" stroke-width="7.2" d="M302.8 233.4h0"/>
<path stroke="#5d7ce6" stroke-width="7.2" d="M279.5 260.8h0M191.3 232.5h0M172.7 295.0h0M205.8 267.5h0M236.8 312.9h0M295.0 302.7h0M291.1 279.4h0"/>
<path stroke="#88abfd" stroke-width="7.2" d="M264.3 265.1h0M309.2 281.0h0M291.4 353.7h0"/>
<path stroke="#536edd" stroke-width="7.2" d="M230.9 302.3h0M317.2 260.8h0M206.5 281.2h0M178.8 251.8h0M214.7 311.8h0"/>
<path stroke="#5875e1" stroke-width="7.2" d="M185.6 353.0h0"/>
<path stroke="#94b6ff" stroke-width="7.2" d="M253.1 334.0h0M265.9 347.8h0"/>
<path stroke="#d6dce4" stroke-width="7.2" d="M264.5 241.3h0M184.5 271.5h0"/>
<path stroke="#aac7fd" stroke-width="7.2" d="M305.9 304.1h0"/>
<path stroke="#5875e1" stroke-width="6.8" d="M271.9 278.4h0M295.0 290.1h0M218.1 333.6h0M204.9 243.9h0M301.0 361.0h0M284.1 287.5h0M315.8 317.9h0M215.8 257.3h0"/>
<path stroke="#7295f4" stroke-width="6.8" d="M290.4 250.4h0M287.1 344.8h0M206.7 363.7h0M190.2 369.6h0M237.3 230.4h0"/>
<path stroke="#5d7ce6" stroke-width="6.8" d="M280.1 291.8h0M212.7 281.1h0M227.7 344.0h0"/>
<path stroke="#6c8ff1" stroke-width="6.8" d="M259.8 309.3h0M206.0 337.2h0M185.0 365.5h0M226.9 233.3h0"/>
<path stroke="#6282ea" stroke-width="6.8" d="M278.9 253.7h0M269.3 284.2h0M178.7 332.0h0M190.6 264.0h0M240.6 262.5h0M297.7 260.8h0"/>
<path stroke="#9fbfff" stroke-width="6.8" d="M280.1 297.9h0M290.0 370.1h0"/>
<path stroke="#8fb1fe" stroke-width="6.8" d="M305.9 357.4h0M250.1 348.2h0"/>
<path stroke="#4e68d8" stroke-width="6.8" d="M214.2 354.1h0M234.2 307.6h0M247.2 320.4h0"/>
<path stroke="#779af7" stroke-width="6.8" d="M229.8 238.6h0M284.4 229.2h0M172.6 251.0h0"/>
<path stroke="#88abfd" stroke-width="6.8" d="M175.7 306.2h0M278.6 231.4h0M177.0 265.3h0"/>
<path stroke="#82a6fb" stroke-width="6.8" d="M219.8 352.5h0M172.6 311.5h0M281.7 303.3h0M308.4 230.6h0"/>
<path stroke="#6788ee" stroke-width="6.8" d="M292.5 238.4h0M226.2 262.6h0M207.5 233.3h0M249.2 363.7h0M232.7 254.9h0"/>
<path stroke="#536edd" stroke-width="6.8" d="M320.3 309.3h0M266.2 229.0h0M312.7 238.8h0"/>
<path stroke="#b5cdfa" stroke-width="6.8" d="M210.7 222.3h0"/>
<path stroke="#4961d2" stroke-width="6.8" d="M307.4 344.1h0"/>
<path stroke="#d2dbe8" stroke-width="6.8" d="M259.6 245.2h0"/>
<path stroke="#7da0f9" stroke-width="6.8" d="M195.9 236.3h0"/>
<path stroke="#7295f4" stroke-width="6.4" d="M320.4 227.9h0M307.8 287.3h0M267.1 274.7h0M187.5 296.8h0M273.4 233.4h0M211.1 320.8h0M215.9 317.6h0M220.6 314.8h0"/>
<path stroke="#536edd" stroke-width="6.4" d="M196.0 282.7h0M309.8 256.6h0M300.0 319.7h0M174.8 300.7h0M181.6 284.9h0"/>
<path stroke="#5d7ce6" stroke-width="6.4" d="M299.3 295.3h0M206.4 357.9h0M309.3 333.8h0M266.7 358.7h0M285.5 307.9h0M309.0 349.6h0M204.9 222.2h0M297.4 230.5h0M191.2 290.1h0"/>
<path stroke="#4961d2" stroke-width="6.4" d="M199.8 241.0h0M314.8 361.7h0M300.0 370.2h0"/>
<path stroke="#7da0f9" stroke-width="6.4" d="M248.3 357.9h0M206.3 261.4h0M320.4 246.4h0M185.1 265.5h0M206.2 323.3h0M229.9 294.1h0M252.9 327.7h0M194.3 321.3h0"/>
<path stroke="#94b6ff" stroke-width="6.4" d="M294.8 284.3h0M250.8 272.8h0"/>
<path stroke="#6282ea" stroke-width="6.4" d="M258.1 330.3h0M191.1 279.9h0M204.8 308.6h0M286.3 266.8h0M189.1 332.5h0M269.3 244.8h0M182.6 247.1h0M229.4 357.4h0M233.4 284.8h0"/>
<path stroke="#5875e1" stroke-width="6.4" d="M215.8 366.4h0M247.1 314.8h0M242.9 228.9h0M262.8 314.0h0M262.8 332.5h0M320.4 294.8h0M200.8 279.5h0M222.2 269.1h0"/>
<path stroke="#9abbff" stroke-width="6.4" d="M191.1 258.5h0"/>
<path stroke="#4e68d8" stroke-width="6.4" d="M250.8 310.8h0M225.2 331.2h0M310.6 250.9h0M316.3 276.2h0"/>
<path stroke="#6788ee" stroke-width="6.4" d="M172.4 321.1h0M202.2 348.6h0M267.3 364.5h0M210.8 254.2h0M232.5 233.4h0"/>
<path stroke="#9fbfff" stroke-width="6.4" d="M200.9 355.8h0"/>
<path stroke="#a5c3fe" stroke-width="6.4" d="M281.1 317.8h0"/>
<path stroke="#779af7" stroke-width="6.4" d="M197.4 360.1h0M262.4 362.1h0M291.5 307.4h0"/>
<path stroke="#8fb1fe" stroke-width="6.4" d="M176.4 239.2h0M277.6 333.5h0M211.0 264.3h0"/>
<path stroke="#afcafc" stroke-width="6.4" d="M220.5 263.5h0"/>
<path stroke="#d6dce4" stroke-width="6.4" d="M183.0 256.0h0M320.4 326.1h0"/>
<path stroke="#82a6fb" stroke-width="6.4" d="M227.9 268.2h0"/>
<path stroke="#b5cdfa" stroke-width="6.4" d="M206.6 317.2h0"/>
<path stroke="#88abfd" stroke-width="6.4" d="M251.5 299.8h0"/>
<path stroke="#aac7fd" stroke-width="6.4" d="M223.8 348.0h0"/>
<path stroke="#6c8ff1" stroke-width="6.4" d="M300.0 282.5h0M219.3 292.4h0M212.2 348.6h0"/>
<path stroke="#5d7ce6" stroke-width="6.0" d="M244.9 271.0h0M186.8 283.2h0M320.4 268.1h0M288.9 336.3h0M179.2 229.6h0M238.5 366.0h0M303.5 340.4h0M172.3 370.1h0M205.8 256.0h0M282.2 341.7h0M311.4 222.0h0"/>
<path stroke="#7da0f9" stroke-width="6.0" d="M254.4 252.5h0M293.5 348.1h0M178.9 337.7h0M204.3 370.3h0M186.2 260.5h0M201.3 365.7h0"/>
<path stroke="#536edd" stroke-width="6.0" d="M195.7 277.2h0M272.6 366.3h0M220.7 245.3h0M274.9 273.7h0M225.6 353.3h0M320.6 251.6h0M262.4 277.7h0"/>
<path stroke="#8fb1fe" stroke-width="6.0" d="M320.5 348.6h0"/>
<path stroke="#82a6fb" stroke-width="6.0" d="M177.4 356.5h0"/>
<path stroke="#7295f4" stroke-width="6.0" d="M304.6 330.7h0M271.9 361.1h0M297.1 352.3h0"/>
<path stroke="#4e68d8" stroke-width="6.0" d="M278.0 344.0h0M306.1 222.0h0M315.1 244.0h0M274.3 327.8h0M183.9 330.6h0"/>
<path stroke="#6788ee" stroke-width="6.0" d="M182.7 316.1h0M283.2 312.8h0M289.3 289.8h0"/>
<path stroke="#5875e1" stroke-width="6.0" d="M228.1 284.6h0M320.5 303.9h0M226.9 227.7h0M320.6 233.4h0M236.6 280.2h0M249.3 250.9h0M200.1 274.1h0M232.2 228.4h0"/>
<path stroke="#6c8ff1" stroke-width="6.0" d="M180.0 302.6h0M209.4 370.4h0M216.6 241.8h0M292.8 326.4h0M249.4 338.0h0"/>
<path stroke="#6282ea" stroke-width="6.0" d="M248.0 245.7h0M202.8 330.5h0M253.1 229.8h0M283.1 336.4h0"/>
<path stroke="#779af7" stroke-width="6.0" d="M271.1 344.9h0"/>
<path stroke="#88abfd" stroke-width="6.0" d="M222.0 368.3h0M205.0 238.2h0"/>
<path stroke="#445acc" stroke-width="6.0" d="M234.4 297.4h0"/>
<path stroke="#4961d2" stroke-width="6.0" d="M293.3 225.9h0M222.7 283.4h0M235.2 318.4h0"/>
<path stroke="#9abbff" stroke-width="6.0" d="M240.3 268.3h0"/>
<path stroke="#f7ad90" stroke-width="6.0" d="M216.4 323.0h0"/>
<path stroke="#7295f4" stroke-width="5.6" d="M308.4 321.4h0M227.8 249.0h0M254.4 257.7h0M308.2 338.9h0"/>
<path stroke="#d6dce4" stroke-width="5.6" d="M257.2 300.2h0M290.5 322.2h0"/>
<path stroke="#779af7" stroke-width="5.6" d="M312.4 345.9h0M188.6 275.3h0M185.2 360.1h0M181.6 233.9h0M260.6 269.1h0M266.1 353.5h0M232.4 353.0h0M199.5 297.1h0M247.5 333.6h0"/>
<path stroke="#445acc" stroke-width="5.6" d="M241.0 257.3h0"/>
<path stroke="#5875e1" stroke-width="5.6" d="M225.3 364.4h0M192.2 304.9h0M283.8 223.7h0M281.9 331.3h0M279.6 327.2h0M280.1 273.4h0M235.2 267.3h0"/>
<path stroke="#6788ee" stroke-width="5.6" d="M291.6 266.4h0M172.1 349.5h0M279.4 225.9h0M189.0 339.8h0M232.5 327.0h0"/>
<path stroke="#4e68d8" stroke-width="5.6" d="M244.7 253.7h0M269.3 370.4h0M172.2 282.2h0M320.7 256.7h0M239.3 296.8h0M241.0 240.7h0M246.0 287.2h0M272.3 332.6h0M177.2 281.9h0M315.6 248.9h0"/>
<path stroke="#5d7ce6" stroke-width="5.6" d="M281.8 352.7h0M273.9 247.6h0M313.0 233.2h0M278.8 244.7h0M196.4 366.6h0M304.1 279.0h0M232.9 249.3h0M222.3 343.0h0"/>
<path stroke="#9abbff" stroke-width="5.6" d="M295.2 322.0h0M254.3 295.6h0"/>
<path stroke="#4961d2" stroke-width="5.6" d="M275.0 257.1h0M287.3 236.9h0M286.5 282.8h0M245.0 265.8h0"/>
<path stroke="#82a6fb" stroke-width="5.6" d="M180.3 360.8h0M254.7 307.3h0M310.9 365.0h0M296.1 222.0h0"/>
<path stroke="#6282ea" stroke-width="5.6" d="M244.0 248.7h0M181.1 261.2h0M178.7 319.0h0M263.3 255.8h0M274.1 242.9h0M193.2 241.1h0M239.7 245.7h0M275.0 283.7h0M269.5 250.3h0M186.0 343.2h0"/>
<path stroke="#536edd" stroke-width="5.6" d="M300.5 304.4h0M259.2 341.4h0M290.5 331.1h0M298.3 339.2h0M192.3 245.8h0M320.6 320.8h0M278.2 338.8h0M234.6 370.5h0M181.1 369.6h0M262.2 290.1h0M210.2 340.9h0M225.1 302.8h0M295.9 358.6h0"/>
<path stroke="#88abfd" stroke-width="5.6" d="M301.1 221.9h0M275.3 222.0h0"/>
<path stroke="#7da0f9" stroke-width="5.6" d="M187.9 253.9h0M227.2 254.1h0"/>
<path stroke="#aac7fd" stroke-width="5.6" d="M262.5 304.4h0"/>
<path stroke="#94b6ff" stroke-width="5.6" d="M298.7 347.5h0"/>
<path stroke="#c9d7f0" stroke-width="5.6" d="M303.8 298.8h0"/>
<path stroke="#6c8ff1" stroke-width="5.6" d="M320.6 338.9h0M221.7 233.7h0M309.1 370.5h0"/>
<path stroke="#4961d2" stroke-width="5.2" d="M208.4 291.1h0M224.7 221.8h0"/>
<path stroke="#9fbfff" stroke-width="5.2" d="M270.7 271.0h0M208.7 312.3h0M198.6 319.0h0"/>
<path stroke="#536edd" stroke-width="5.2" d="M258.5 255.8h0M205.2 352.9h0M283.1 256.8h0M191.5 300.1h0M262.0 327.5h0M273.9 252.6h0"/>
<path stroke="#5875e1" stroke-width="5.2" d="M299.9 355.8h0M251.9 323.2h0M284.9 370.6h0M288.4 225.9h0M286.9 254.2h0M202.2 360.8h0M278.8 349.2h0M271.9 306.9h0M288.8 311.8h0M274.5 226.8h0M281.3 267.9h0"/>
<path stroke="#88abfd" stroke-width="5.2" d="M231.4 264.3h0M228.6 349.3h0M175.8 366.6h0"/>
<path stroke="#6788ee" stroke-width="5.2" d="M181.9 307.2h0M172.1 289.4h0M217.7 357.3h0M303.0 287.5h0M315.8 306.8h0M272.7 288.1h0"/>
<path stroke="#7295f4" stroke-width="5.2" d="M199.2 370.5h0M320.8 343.6h0M269.5 266.7h0"/>
<path stroke="#5d7ce6" stroke-width="5.2" d="M289.7 365.2h0M212.2 293.9h0M248.9 237.5h0M316.9 345.3h0M264.9 251.2h0M261.2 345.7h0M304.5 335.6h0M186.3 234.8h0M279.6 284.5h0M207.5 295.6h0M199.7 221.9h0M172.1 354.3h0M277.1 315.0h0"/>
<path stroke="#4e68d8" stroke-width="5.2" d="M295.6 251.3h0M222.4 356.9h0M299.0 275.2h0"/>
<path stroke="#779af7" stroke-width="5.2" d="M294.3 275.3h0M251.0 353.4h0M298.6 255.0h0M292.6 245.7h0M201.8 263.5h0"/>
<path stroke="#7da0f9" stroke-width="5.2" d="M187.5 247.1h0M311.3 275.7h0M259.9 318.0h0"/>
<path stroke="#6282ea" stroke-width="5.2" d="M255.3 353.8h0M215.6 262.4h0M180.1 352.1h0M316.9 300.2h0M233.1 344.3h0M201.2 339.0h0M287.1 258.9h0"/>
<path stroke="#f6bda2" stroke-width="5.2" d="M207.9 286.5h0"/>
<path stroke="#e26952" stroke-width="5.2" d="M305.5 238.2h0"/>
<path stroke="#6c8ff1" stroke-width="5.2" d="M315.5 295.7h0M172.1 235.8h0M191.4 285.0h0M248.2 229.1h0M252.6 234.8h0"/>
<path stroke="#82a6fb" stroke-width="5.2" d="M182.8 298.4h0M196.1 300.4h0"/>
<path stroke="#8fb1fe" stroke-width="5.2" d="M308.1 316.6h0M317.1 221.8h0"/>
<path stroke="#d2dbe8" stroke-width="5.2" d="M227.0 298.4h0"/>
<path stroke="#9abbff" stroke-width="5.2" d="M216.9 233.2h0"/>
<path stroke="#afcafc" stroke-width="5.2" d="M201.7 259.0h0"/>
<path stroke="#d6dce4" stroke-width="5.2" d="M194.1 333.2h0"/>
<path stroke="#4e68d8" stroke-width="4.8" d="M314.9 336.2h0M175.0 285.9h0M244.1 244.3h0M309.0 235.3h0M245.8 221.8h0M186.9 292.0h0M298.0 265.8h0M260.6 252.1h0M187.5 327.4h0M320.9 370.7h0M305.9 253.2h0"/>
<path stroke="#536edd" stroke-width="4.8" d="M266.6 279.7h0M204.0 228.7h0M230.2 331.1h0M245.7 240.4h0M183.5 325.9h0M274.0 341.2h0M244.1 324.2h0"/>
<path stroke="#5d7ce6" stroke-width="4.8" d="M236.5 258.4h0M244.9 282.8h0M213.3 344.1h0M207.3 348.8h0M282.9 364.5h0M260.3 221.6h0M300.3 334.8h0M252.5 261.7h0M171.9 273.6h0M215.2 273.5h0M200.4 254.7h0M225.8 316.5h0M207.6 332.1h0"/>
<path stroke="#f7ad90" stroke-width="4.8" d="M209.1 354.1h0M304.8 242.2h0"/>
<path stroke="#6788ee" stroke-width="4.8" d="M273.9 370.7h0M171.8 365.0h0M201.0 236.1h0M216.1 296.3h0M171.9 263.9h0M295.0 370.7h0M178.1 257.1h0M225.7 245.0h0M269.6 290.7h0M259.3 240.0h0M310.8 306.1h0M283.3 234.5h0M186.6 347.7h0"/>
<path stroke="#7295f4" stroke-width="4.8" d="M252.1 291.7h0M207.3 226.3h0M256.7 232.9h0M256.1 338.0h0M198.0 330.5h0M235.9 225.5h0M312.5 322.1h0M309.8 360.6h0M316.7 323.2h0M277.5 265.8h0"/>
<path stroke="#94b6ff" stroke-width="4.8" d="M277.2 288.0h0M252.9 239.2h0M273.8 267.9h0"/>
<path stroke="#6c8ff1" stroke-width="4.8" d="M179.2 326.9h0M188.6 357.3h0M232.9 348.7h0M183.3 294.2h0M218.9 228.4h0M193.5 357.0h0M181.4 238.5h0M182.2 356.6h0M264.6 246.7h0M173.9 256.2h0M273.8 337.0h0"/>
<path stroke="#a5c3fe" stroke-width="4.8" d="M252.2 277.6h0"/>
<path stroke="#82a6fb" stroke-width="4.8" d="M248.5 329.1h0M203.5 287.4h0M256.0 281.2h0M282.2 346.4h0M209.8 308.1h0M181.9 341.1h0M250.5 255.3h0M312.5 357.4h0"/>
<path stroke="#afcafc" stroke-width="4.8" d="M261.5 350.3h0M284.1 271.3h0"/>
<path stroke="#88abfd" stroke-width="4.8" d="M316.4 341.0h0M296.5 279.0h0M220.1 287.2h0"/>
<path stroke="#5875e1" stroke-width="4.8" d="M232.3 260.1h0M313.6 303.1h0M185.6 370.7h0M250.1 370.7h0M184.7 321.7h0M218.0 370.8h0M210.9 259.3h0M206.2 300.9h0M299.6 300.0h0M176.9 370.7h0M210.8 366.1h0M311.9 261.0h0"/>
<path stroke="#c9d7f0" stroke-width="4.8" d="M268.2 233.7h0"/>
<path stroke="#8fb1fe" stroke-width="4.8" d="M238.9 370.7h0"/>
<path stroke="#4961d2" stroke-width="4.8" d="M269.7 317.2h0M309.9 270.2h0M306.6 309.4h0M301.7 263.9h0"/>
<path stroke="#9abbff" stroke-width="4.8" d="M202.8 320.0h0M315.8 328.1h0"/>
<path stroke="#6282ea" stroke-width="4.8" d="M270.3 225.5h0M230.2 289.1h0M193.6 340.0h0M286.3 332.5h0M190.7 250.3h0M228.6 335.0h0M320.9 316.1h0M200.4 245.8h0M266.4 288.2h0M309.1 242.6h0M248.8 268.1h0"/>
<path stroke="#7da0f9" stroke-width="4.8" d="M286.3 353.5h0M190.1 350.0h0M235.6 262.6h0M285.0 349.5h0M313.9 332.0h0"/>
<path stroke="#9fbfff" stroke-width="4.8" d="M225.4 360.0h0"/>
<path stroke="#779af7" stroke-width="4.8" d="M199.7 308.6h0M241.3 280.1h0M209.0 240.8h0M249.7 295.2h0M280.4 322.5h0"/>
<path stroke="#b5cdfa" stroke-width="4.8" d="M262.6 299.8h0"/>
<path stroke="#f6bda2" stroke-width="4.8" d="M256.5 237.1h0"/>
<path stroke="#aac7fd" stroke-width="4.8" d="M211.5 315.8h0"/>
<path stroke="#445acc" stroke-width="4.8" d="M284.4 262.2h0"/>
<path stroke="#779af7" stroke-width="4.4" d="M295.9 344.1h0M248.7 233.3h0M176.2 348.0h0M184.3 251.4h0M171.7 240.0h0M196.4 305.6h0M321.0 223.2h0M206.6 328.1h0"/>
<path stroke="#6788ee" stroke-width="4.4" d="M283.8 239.6h0M317.9 313.6h0M284.1 321.5h0M180.7 323.0h0M222.8 229.4h0M171.8 277.7h0M171.8 316.3h0M191.8 336.4h0M250.4 288.2h0M294.1 340.5h0"/>
<path stroke="#5875e1" stroke-width="4.4" d="M316.7 235.8h0M249.7 241.6h0M257.9 370.8h0M218.1 237.5h0M255.5 311.6h0M175.8 352.0h0M304.8 283.7h0M203.9 297.8h0M201.9 334.9h0M196.4 244.4h0"/>
<path stroke="#5d7ce6" stroke-width="4.4" d="M321.0 276.4h0M317.2 271.5h0M286.1 366.6h0M292.8 262.3h0M290.0 340.6h0M255.8 242.1h0M209.3 345.2h0M258.4 313.9h0M271.1 229.3h0M282.5 281.7h0M265.9 317.8h0M188.7 268.6h0M298.2 225.9h0M252.6 367.4h0M288.9 262.7h0"/>
<path stroke="#4e68d8" stroke-width="4.4" d="M299.8 343.5h0M321.1 299.3h0M298.6 286.9h0M175.8 277.7h0M201.8 225.6h0M186.0 221.5h0M231.5 316.0h0M228.8 361.9h0M306.7 272.6h0"/>
<path stroke="#6282ea" stroke-width="4.4" d="M304.5 319.2h0M209.5 245.9h0M195.0 370.8h0M171.8 259.7h0M228.2 327.5h0M222.6 225.5h0M232.0 311.9h0M302.8 345.9h0M188.9 224.2h0M270.1 340.5h0M289.0 349.2h0M225.3 279.4h0M314.4 280.4h0"/>
<path stroke="#6c8ff1" stroke-width="4.4" d="M313.5 272.2h0M196.4 256.0h0M235.7 221.6h0M209.3 249.8h0M254.3 370.9h0M198.1 334.8h0M173.2 268.6h0M294.9 242.8h0M183.9 289.4h0M256.3 221.6h0M179.9 365.1h0"/>
<path stroke="#e26952" stroke-width="4.4" d="M287.8 221.6h0M176.7 323.0h0"/>
<path stroke="#8fb1fe" stroke-width="4.4" d="M219.3 303.2h0M266.4 269.8h0M175.7 315.9h0M308.8 225.7h0M290.0 285.3h0"/>
<path stroke="#82a6fb" stroke-width="4.4" d="M191.4 227.3h0M190.9 354.0h0"/>
<path stroke="#7da0f9" stroke-width="4.4" d="M225.0 325.5h0M212.5 276.3h0M292.1 344.0h0M271.1 356.4h0M300.0 290.8h0"/>
<path stroke="#f7ad90" stroke-width="4.4" d="M181.3 242.5h0"/>
<path stroke="#4961d2" stroke-width="4.4" d="M321.1 263.8h0M248.0 291.4h0M171.8 243.9h0"/>
<path stroke="#a5c3fe" stroke-width="4.4" d="M176.8 362.6h0"/>
<path stroke="#536edd" stroke-width="4.4" d="M311.0 246.3h0M216.5 300.4h0M241.3 355.9h0M279.8 221.6h0M258.7 334.9h0M273.8 317.5h0M267.6 314.2h0M276.4 323.8h0M303.3 274.8h0M264.3 259.9h0M176.9 233.9h0M277.5 269.7h0M302.7 308.1h0M218.0 283.5h0M312.6 339.7h0"/>
<path stroke="#7295f4" stroke-width="4.4" d="M282.8 243.1h0M270.9 221.5h0M202.5 232.5h0M243.0 347.6h0M187.3 287.7h0M276.9 319.8h0M286.4 339.7h0M210.7 269.0h0M321.0 272.7h0M262.0 337.2h0M274.9 347.3h0"/>
<path stroke="#b5cdfa" stroke-width="4.4" d="M192.4 253.9h0"/>
<path stroke="#d6dce4" stroke-width="4.4" d="M262.7 273.1h0M258.0 304.6h0"/>
<path stroke="#f6bda2" stroke-width="4.4" d="M200.7 284.3h0"/>
<path stroke="#9abbff" stroke-width="4.4" d="M248.0 325.3h0M228.3 313.7h0M213.9 370.8h0M309.7 354.3h0"/>
<path stroke="#94b6ff" stroke-width="4.4" d="M254.4 303.5h0M301.8 252.2h0M228.5 339.1h0"/>
<path stroke="#f2cab5" stroke-width="4.4" d="M211.5 272.8h0"/>
<path stroke="#9fbfff" stroke-width="4.4" d="M225.1 294.6h0"/>
<path stroke="#445acc" stroke-width="4.4" d="M268.1 261.5h0"/>
<path stroke="#c4d5f3" stroke-width="4.4" d="M228.7 258.1h0"/>
<path stroke="#afcafc" stroke-width="4.4" d="M195.1 316.8h0"/>
<path stroke="#b40426" stroke-width="4.4" d="M291.8 221.6h0"/>
<path stroke="#88abfd" stroke-width="4.4" d="M178.2 342.3h0"/>
<path stroke="#d55042" stroke-width="4.4" d="M175.6 260.4h0"/>
<path stroke="#88abfd" stroke-width="4.0" d="M217.9 252.8h0"/>
<path stroke="#7da0f9" stroke-width="4.0" d="M257.7 249.6h0M224.7 312.6h0"/>
<path stroke="#9abbff" stroke-width="4.0" d="M194.8 266.4h0"/>
<path stroke="#f7ad90" stroke-width="4.0" d="M179.0 296.8h0M295.9 235.0h0"/>
<path stroke="#8fb1fe" stroke-width="4.0" d="M197.1 338.4h0"/>
<path stroke="#4e68d8" stroke-width="4.0" d="M207.7 304.6h0"/>
<path stroke="#5d7ce6" stroke-width="4.0" d="M278.0 248.9h0M307.1 276.4h0M249.6 264.6h0"/>
<path stroke="#779af7" stroke-width="4.0" d="M188.3 323.5h0"/>
<path stroke="#f59c7d" stroke-width="4.0" d="M181.0 267.9h0"/>
<path stroke="#4961d2" stroke-width="4.0" d="M246.0 225.7h0"/>
<path stroke="#a5c3fe" stroke-width="4.0" d="M212.2 243.0h0"/>
<path stroke="#fff" stroke-opacity="0.85" stroke-width="0.8" d="M175.5 227.5h0M172.6 230.3h0M318.6 352.2h0M172.9 241.2h0M320.9 268.1h0M319.5 224.0h0M172.6 343.8h0M306.0 346.5h0M320.2 356.4h0M188.9 222.8h0M316.3 237.7h0M174.4 306.0h0M172.8 327.4h0M320.7 320.5h0M315.3 370.3h0M279.1 370.4h0M274.7 369.0h0M259.9 291.0h0M318.3 263.8h0M319.2 265.9h0M301.2 301.0h0M320.6 310.4h0M319.6 313.4h0M237.4 369.3h0M177.5 225.6h0M181.1 222.2h0M279.4 265.2h0M291.1 288.0h0M173.2 286.0h0M180.1 316.0h0M172.0 251.7h0M172.1 359.9h0M176.2 321.2h0M203.7 328.2h0M181.4 363.8h0M315.3 344.0h0M309.7 340.6h0M310.2 337.8h0M313.3 365.0h0M303.8 361.1h0M297.7 355.6h0M290.1 370.5h0M291.8 368.6h0M288.3 361.8h0M293.2 367.2h0M300.6 363.7h0M263.1 370.4h0M256.4 369.7h0M253.8 292.1h0M314.4 259.2h0M312.2 258.0h0M319.6 298.3h0M292.8 286.3h0M297.8 297.6h0M298.4 291.9h0M308.4 312.7h0M234.4 345.9h0M231.5 347.5h0M229.9 346.0h0M245.7 349.0h0M246.0 346.7h0M259.2 344.9h0M230.9 332.8h0M251.1 330.0h0M246.9 336.0h0M192.6 221.9h0M271.7 290.7h0M267.6 290.8h0M269.5 289.0h0M277.3 290.9h0M279.9 286.6h0M280.1 289.0h0M320.7 227.6h0M316.7 234.3h0M320.3 239.7h0M320.0 260.7h0M320.8 258.0h0M177.5 315.9h0M172.7 256.3h0M191.7 277.4h0M202.7 235.4h0M211.0 278.9h0M187.0 224.0h0M187.6 271.5h0M178.1 345.5h0M177.2 339.2h0M189.0 337.5h0M196.6 335.7h0M200.4 336.1h0M204.1 332.7h0M204.9 334.5h0M174.8 364.6h0M178.1 360.3h0M177.8 369.0h0M181.2 370.4h0M190.3 370.4h0M302.6 336.7h0M311.7 315.9h0M313.3 325.6h0M315.0 324.4h0M309.8 320.1h0M289.0 355.3h0M304.8 369.2h0M301.2 370.5h0M284.7 367.1h0M286.1 365.5h0M282.0 350.4h0M259.0 336.7h0M253.1 336.9h0M260.8 302.9h0M293.5 328.9h0M295.2 325.4h0M319.8 275.0h0M321.0 270.9h0M311.7 303.2h0M236.0 363.3h0M244.4 355.6h0M253.9 352.3h0M259.0 352.9h0M257.9 351.2h0M221.7 369.6h0M229.8 342.2h0M226.3 341.7h0M204.3 226.8h0M204.5 224.9h0M269.7 260.4h0M269.4 287.1h0M261.2 265.6h0M280.7 257.0h0M283.8 265.4h0M289.8 261.4h0M318.7 229.9h0M272.4 274.1h0M269.9 274.4h0M184.6 287.6h0M177.5 284.3h0M182.4 309.4h0M173.4 317.4h0M171.9 265.5h0M172.4 268.7h0M215.3 254.4h0M200.9 233.3h0M200.2 225.1h0M193.5 237.0h0M210.1 271.7h0M210.8 274.5h0M236.2 276.2h0M185.7 245.6h0M189.0 238.6h0M191.5 266.7h0M192.1 268.3h0M197.6 264.3h0M198.2 265.9h0M186.7 340.1h0M182.1 350.8h0M207.3 352.0h0M202.9 352.4h0M181.4 321.3h0M189.1 335.3h0M200.8 332.2h0M199.4 333.5h0M230.2 296.8h0M249.4 327.3h0M247.0 327.7h0M233.2 324.7h0M194.2 369.1h0M226.6 357.2h0M224.4 357.0h0M320.3 332.8h0M308.7 357.4h0M310.6 357.4h0M275.5 348.9h0M273.6 344.6h0M282.1 348.3h0M275.5 344.3h0M291.2 339.4h0M244.5 370.3h0M248.5 368.1h0M250.9 367.6h0M244.4 321.3h0M279.8 330.6h0M283.1 322.9h0M299.1 321.9h0M295.9 263.2h0M306.8 271.0h0M302.2 276.2h0M298.3 278.7h0M320.5 281.3h0M320.6 295.2h0M315.3 289.0h0M317.8 310.2h0M316.0 310.8h0M315.4 303.4h0M243.8 357.8h0M254.4 365.0h0M252.1 364.4h0M258.5 362.6h0M253.4 355.0h0M217.2 351.2h0M214.7 349.8h0M231.3 340.8h0M225.2 340.0h0M230.5 221.9h0M266.2 249.3h0M246.9 230.7h0M245.6 232.4h0M290.6 246.4h0M306.5 241.1h0M298.9 252.8h0M311.8 222.0h0M310.0 238.9h0M298.7 235.6h0M296.0 221.8h0M188.8 279.3h0M173.2 276.4h0M172.0 282.8h0M187.5 251.8h0M180.0 265.1h0M217.2 261.3h0M208.2 248.3h0M199.4 256.5h0M183.1 235.9h0M179.8 235.5h0M203.6 272.1h0M201.6 270.4h0M218.5 251.2h0M230.4 262.2h0M229.4 260.0h0M213.9 272.0h0M185.4 355.9h0M215.7 294.4h0M206.3 370.6h0M230.7 359.7h0M231.8 361.7h0M227.5 364.4h0M293.3 320.6h0M286.8 322.8h0M306.2 313.1h0M283.0 300.9h0M289.7 346.2h0M291.3 347.0h0M310.2 260.5h0M295.3 267.1h0M308.2 274.9h0M318.4 293.5h0M238.4 227.9h0M239.3 226.0h0M240.4 222.1h0M207.3 237.9h0M209.6 237.5h0M252.8 241.0h0M257.8 251.2h0M263.3 250.0h0M284.7 253.9h0M281.9 253.7h0M295.0 244.7h0M292.4 243.8h0M298.1 233.3h0M286.5 221.6h0M289.4 222.9h0M283.8 222.2h0M287.3 285.0h0M197.8 316.8h0M233.6 277.7h0M252.4 258.2h0M208.7 252.9h0M206.9 251.9h0M194.2 338.2h0M200.4 362.1h0M196.9 357.6h0M185.3 357.9h0M205.9 285.5h0M206.5 288.3h0M228.6 315.3h0M207.8 326.6h0M209.2 366.8h0M211.5 369.0h0M209.7 370.5h0M248.1 294.4h0M280.3 315.1h0M268.6 318.6h0M294.3 310.4h0M311.7 272.6h0M218.5 222.2h0M222.2 223.5h0M230.6 231.5h0M259.2 249.4h0M262.6 258.9h0M299.3 227.5h0M286.5 234.8h0M284.2 283.6h0M200.1 293.5h0M217.7 270.7h0M225.4 266.7h0M222.6 273.1h0M214.9 275.5h0M235.9 246.4h0M236.9 248.5h0M231.4 247.6h0M229.3 250.8h0M230.8 252.6h0M230.5 299.1h0M205.8 302.9h0M205.8 298.2h0M218.9 239.4h0M214.6 233.2h0M228.7 229.7h0M245.8 243.3h0M251.3 222.2h0M188.4 292.8h0M237.6 310.1h0M210.0 306.0h0M221.1 230.3h0M282.3 240.7h0M265.8 221.8h0M267.7 237.4h0M265.6 236.3h0M236.9 264.1h0M231.7 266.5h0M235.7 270.8h0M238.1 269.5h0M275.2 221.7h0M273.2 224.8h0M272.0 223.0h0M272.8 229.6h0"/>
<path stroke="#fff" stroke-opacity="0.85" stroke-width="1.2" d="M314.4 235.8h0M177.2 335.1h0M309.7 346.6h0M319.2 368.6h0M316.6 364.8h0M318.0 361.5h0M302.8 305.8h0M263.9 302.0h0M174.4 233.7h0M276.8 263.4h0M262.9 297.1h0M260.1 298.7h0M300.4 341.3h0M298.2 336.4h0M302.3 290.1h0M306.0 296.9h0M306.2 300.4h0M319.6 300.9h0M304.9 307.6h0M240.1 368.7h0M228.1 329.7h0M240.6 332.7h0M275.8 259.9h0M264.2 280.0h0M274.8 276.8h0M283.3 291.3h0M315.6 241.0h0M312.3 248.4h0M311.8 254.0h0M176.9 303.1h0M174.6 288.3h0M173.9 291.5h0M177.0 294.9h0M179.1 308.2h0M173.5 352.0h0M204.2 278.6h0M179.1 232.6h0M190.6 255.2h0M174.1 347.5h0M174.9 349.9h0M177.6 353.3h0M174.0 356.6h0M181.6 338.8h0M174.6 323.5h0M178.6 321.9h0M230.1 328.5h0M232.4 329.7h0M173.3 367.0h0M183.9 368.9h0M181.7 366.6h0M180.2 357.9h0M180.1 355.1h0M319.3 345.7h0M312.5 336.9h0M319.2 341.3h0M317.1 338.7h0M306.4 341.0h0M301.4 347.8h0M310.7 352.3h0M308.7 367.3h0M311.2 368.1h0M302.0 357.8h0M298.9 358.2h0M299.2 350.3h0M319.0 323.3h0M305.6 321.3h0M307.4 324.0h0M306.8 319.1h0M297.6 361.0h0M291.5 363.4h0M267.1 368.2h0M269.8 367.2h0M272.0 369.3h0M273.7 363.5h0M270.7 364.0h0M282.7 367.9h0M280.4 365.5h0M281.6 362.6h0M275.1 360.1h0M280.8 355.3h0M272.7 354.9h0M287.1 348.2h0M261.5 343.2h0M263.7 345.2h0M267.5 344.9h0M263.5 359.2h0M265.4 361.8h0M270.1 358.5h0M261.1 365.5h0M298.7 302.2h0M314.1 262.6h0M305.2 288.8h0M301.1 292.7h0M296.0 293.9h0M232.3 355.9h0M229.0 351.8h0M249.7 340.9h0M246.4 339.2h0M242.8 345.4h0M240.7 347.4h0M234.0 350.8h0M235.1 353.9h0M249.9 344.9h0M249.2 351.5h0M253.1 346.6h0M224.9 367.0h0M222.8 365.2h0M228.3 332.6h0M257.0 333.2h0M246.8 330.8h0M264.1 287.7h0M264.9 290.6h0M277.6 282.7h0M274.9 280.6h0M261.3 274.9h0M260.7 272.1h0M253.8 271.6h0M257.8 270.1h0M285.7 256.6h0M289.1 265.0h0M288.3 256.5h0M296.0 253.9h0M289.2 268.1h0M278.7 267.8h0M277.6 272.1h0M268.3 277.8h0M265.4 277.6h0M263.8 274.9h0M275.0 286.7h0M318.8 249.1h0M318.1 257.3h0M319.2 254.4h0M174.8 283.5h0M218.3 289.1h0M175.6 313.6h0M179.8 255.3h0M174.9 253.4h0M173.7 271.2h0M185.7 274.8h0M194.9 254.0h0M193.6 255.9h0M194.8 258.1h0M178.6 242.3h0M180.5 244.7h0M181.7 231.0h0M181.4 227.5h0M184.4 233.0h0M187.6 232.5h0M191.1 225.0h0M189.2 226.4h0M186.5 268.4h0M203.7 339.6h0M205.0 347.1h0M185.1 327.8h0M190.4 321.5h0M177.7 328.7h0M181.1 325.2h0M221.2 289.5h0M223.3 292.6h0M227.1 295.8h0M231.5 291.3h0M208.4 334.5h0M177.6 364.6h0M188.5 366.2h0M220.1 358.4h0M220.0 355.9h0M311.5 331.4h0M313.8 329.4h0M305.5 338.2h0M306.0 333.5h0M311.8 355.0h0M315.0 356.0h0M317.7 321.0h0M319.4 318.2h0M314.9 321.4h0M284.1 354.4h0M284.5 351.8h0M296.9 369.1h0M279.6 336.3h0M271.7 341.9h0M268.1 339.6h0M281.2 339.0h0M290.2 328.2h0M264.4 326.2h0M276.3 336.6h0M275.2 339.0h0M261.8 339.8h0M256.4 340.4h0M264.9 355.9h0M267.7 351.1h0M246.9 281.3h0M246.7 284.4h0M246.0 290.2h0M243.3 288.2h0M250.1 290.4h0M248.3 289.1h0M265.3 305.1h0M262.8 307.3h0M259.9 305.8h0M276.8 298.3h0M279.3 301.1h0M298.3 333.5h0M301.3 332.1h0M302.5 328.4h0M271.9 304.2h0M269.3 306.2h0M298.1 344.9h0M319.4 271.0h0M317.5 269.3h0M319.2 277.6h0M300.5 288.4h0M298.3 289.1h0M296.6 276.6h0M305.1 286.0h0M305.7 281.4h0M315.6 282.2h0M312.9 281.9h0M308.0 306.8h0M215.9 336.1h0M226.2 350.2h0M226.8 347.3h0M239.2 355.2h0M241.6 353.7h0M262.5 348.0h0M215.9 369.6h0M224.4 345.0h0M202.0 223.5h0M207.6 223.9h0M265.7 261.7h0M267.0 267.6h0M267.6 264.3h0M273.0 255.1h0M271.1 252.7h0M266.4 282.1h0M266.3 285.8h0M272.5 285.5h0M269.0 280.7h0M262.8 261.8h0M275.8 254.4h0M286.6 263.6h0M286.8 261.4h0M289.5 253.5h0M293.1 252.3h0M294.2 260.5h0M309.0 245.3h0M307.2 251.1h0M309.5 248.1h0M317.4 225.3h0M310.9 224.9h0M311.8 230.7h0M310.0 227.6h0M250.7 228.0h0M294.5 280.8h0M291.8 283.4h0M268.0 271.6h0M268.7 269.2h0M180.0 282.1h0M177.8 286.8h0M181.8 288.4h0M177.7 279.3h0M174.7 274.9h0M203.2 322.2h0M185.1 253.4h0M182.4 250.2h0M182.5 252.9h0M175.3 268.5h0M173.7 266.1h0M198.5 284.9h0M199.3 282.4h0M197.5 279.7h0M194.2 279.9h0M192.7 282.7h0M212.3 257.1h0M192.8 229.3h0M193.6 226.5h0M197.4 224.1h0M194.7 233.0h0M228.0 287.8h0M254.9 263.0h0M239.3 278.8h0M242.4 282.3h0M239.4 281.4h0M242.2 277.8h0M200.4 248.1h0M202.7 246.3h0M187.2 263.2h0M188.1 266.4h0M189.2 260.9h0M192.5 261.2h0M194.0 264.5h0M200.4 261.3h0M212.2 267.3h0M207.2 340.4h0M212.8 338.9h0M183.1 343.2h0M198.7 339.8h0M201.8 345.4h0M201.4 341.6h0M182.4 354.1h0M189.3 352.2h0M205.1 350.1h0M211.5 352.5h0M182.9 323.5h0M187.1 321.6h0M186.8 329.9h0M189.4 329.0h0M192.2 331.5h0M197.1 328.2h0M195.4 330.8h0M200.1 329.2h0M196.9 332.9h0M224.7 305.9h0M233.1 294.5h0M230.0 326.0h0M242.2 325.8h0M241.9 322.4h0M239.3 328.7h0M235.1 327.6h0M217.1 302.6h0M218.7 301.0h0M221.7 301.8h0M224.9 299.9h0M213.7 315.3h0M212.7 317.8h0M224.6 310.4h0M221.3 330.8h0M192.9 366.6h0M212.9 364.8h0M198.9 367.7h0M223.0 359.5h0M315.6 333.8h0M315.9 330.7h0M318.3 328.6h0M307.3 360.9h0M311.6 362.4h0M312.1 359.8h0M284.2 339.4h0M288.0 341.3h0M285.3 341.7h0M284.5 347.1h0M283.6 344.4h0M276.6 341.3h0M280.9 344.2h0M277.0 347.0h0M279.8 346.6h0M274.4 334.6h0M271.9 329.8h0M263.8 335.4h0M263.8 329.4h0M265.9 332.4h0M261.0 335.1h0M259.7 332.8h0M252.4 369.6h0M250.3 275.9h0M250.2 279.0h0M253.2 280.3h0M252.9 275.2h0M247.4 273.3h0M243.8 273.9h0M256.3 313.6h0M257.6 311.9h0M250.8 320.8h0M249.1 323.3h0M246.4 323.7h0M253.6 312.5h0M254.4 298.4h0M282.1 328.6h0M281.5 325.1h0M278.7 324.3h0M276.8 326.0h0M302.8 320.7h0M296.7 319.6h0M278.6 304.6h0M296.1 346.3h0M296.5 349.3h0M291.0 350.0h0M306.5 255.7h0M299.6 257.8h0M300.9 261.5h0M300.4 265.9h0M299.3 263.8h0M304.4 272.8h0M305.7 274.6h0M318.0 285.7h0M309.1 294.3h0M318.7 306.6h0M247.0 360.9h0M240.3 357.9h0M245.8 364.5h0M256.6 356.0h0M250.4 360.4h0M221.5 345.7h0M215.6 343.7h0M219.4 343.3h0M232.1 335.3h0M238.2 339.7h0M237.3 335.9h0M219.5 336.7h0M227.4 337.1h0M226.2 334.4h0M233.3 225.8h0M247.6 235.2h0M304.0 251.6h0M295.2 248.0h0M301.7 249.5h0M303.1 237.0h0M247.0 223.9h0M247.9 226.5h0M289.1 239.1h0M293.6 223.0h0M280.9 276.0h0M271.3 268.5h0M276.3 267.8h0M275.0 265.8h0M272.0 266.1h0M183.8 282.5h0M188.5 285.5h0M197.2 307.8h0M209.9 317.7h0M207.9 320.5h0M193.6 318.4h0M193.4 315.4h0M190.2 247.9h0M190.5 252.6h0M192.6 248.7h0M187.4 249.8h0M183.1 268.1h0M184.1 262.3h0M183.4 259.4h0M180.5 258.2h0M174.7 262.9h0M173.7 258.8h0M175.9 257.9h0M178.1 259.5h0M177.8 262.0h0M214.3 264.5h0M217.4 264.2h0M210.5 247.9h0M230.5 286.4h0M236.4 283.2h0M232.6 288.3h0M197.9 254.3h0M200.4 252.3h0M203.1 261.3h0M209.6 261.5h0M195.0 246.2h0M198.0 246.2h0M194.1 243.8h0M182.5 240.7h0M202.2 266.2h0M204.3 263.9h0M207.8 264.3h0M218.5 255.3h0M226.3 259.2h0M231.0 258.0h0M211.0 343.7h0M185.0 345.8h0M187.7 349.9h0M189.1 347.9h0M187.6 345.4h0M191.1 358.3h0M188.8 354.9h0M199.1 347.8h0M191.6 351.8h0M227.2 325.5h0M225.3 323.4h0M223.0 324.9h0M223.9 327.7h0M209.4 288.5h0M211.1 291.4h0M218.6 295.6h0M217.5 298.4h0M230.6 313.9h0M229.7 311.8h0M226.8 312.1h0M219.3 317.6h0M222.6 312.3h0M219.2 323.8h0M204.3 355.4h0M203.1 358.4h0M203.2 363.2h0M204.8 360.7h0M227.7 360.1h0M226.6 362.0h0M284.7 330.7h0M287.7 330.7h0M284.0 333.3h0M286.1 334.8h0M265.9 312.8h0M262.9 310.9h0M265.7 315.4h0M254.0 321.7h0M257.6 319.4h0M261.6 324.9h0M260.7 321.0h0M256.1 327.5h0M254.0 310.0h0M256.4 309.6h0M257.4 306.7h0M248.8 317.3h0M250.1 313.9h0M245.6 317.5h0M251.7 296.6h0M249.9 292.7h0M251.9 294.1h0M271.6 326.3h0M292.8 323.4h0M299.2 316.8h0M302.6 318.1h0M304.1 309.9h0M305.4 317.1h0M292.3 300.3h0M289.1 297.5h0M291.8 304.1h0M292.1 341.7h0M294.1 342.9h0M290.1 342.9h0M303.7 262.6h0M307.2 259.6h0M310.7 267.8h0M303.4 265.7h0M296.5 273.9h0M292.4 269.2h0M293.5 272.8h0M312.1 279.0h0M309.0 277.3h0M312.8 295.3h0M235.1 227.8h0M236.9 223.4h0M208.2 243.5h0M206.6 240.8h0M233.9 230.6h0M235.5 233.5h0M233.6 239.5h0M250.5 239.6h0M272.5 250.2h0M271.4 242.3h0M254.3 232.6h0M251.5 237.3h0M249.9 235.1h0M255.9 255.4h0M257.2 258.0h0M287.3 251.6h0M279.6 250.3h0M297.0 243.0h0M295.3 240.7h0M307.1 227.4h0M303.4 223.4h0M286.0 239.5h0M285.7 226.1h0M286.8 223.7h0M287.7 228.5h0M293.7 235.3h0M289.9 236.1h0M290.7 227.3h0M295.2 232.9h0M282.9 273.3h0M285.8 273.0h0M283.7 268.9h0M286.2 270.1h0M194.4 306.5h0M195.0 303.7h0M196.1 318.7h0M197.5 321.3h0M200.6 320.7h0M225.2 285.7h0M230.7 283.1h0M253.0 255.2h0M204.4 258.8h0M203.1 254.0h0M196.1 239.6h0M199.2 237.6h0M198.7 244.0h0M202.0 238.1h0M203.3 240.9h0M229.2 255.9h0M226.1 251.4h0M224.2 254.1h0M241.1 248.3h0M242.9 251.2h0M194.1 342.5h0M191.4 341.2h0M191.6 338.6h0M194.2 359.3h0M200.3 359.1h0M186.6 362.6h0M182.6 359.0h0M201.1 286.5h0M201.8 289.5h0M201.7 310.0h0M213.6 296.3h0M204.9 295.8h0M206.6 293.2h0M209.3 293.6h0M225.7 319.1h0M228.9 317.3h0M210.2 332.1h0M213.5 323.6h0M209.6 323.7h0M250.9 269.4h0M248.2 270.4h0M246.5 268.3h0M252.0 302.8h0M253.0 305.2h0M256.5 303.0h0M248.6 301.2h0M249.2 297.5h0M279.5 312.7h0M277.9 322.1h0M279.3 320.2h0M271.7 318.5h0M284.0 319.2h0M283.7 315.7h0M301.2 309.8h0M298.2 312.7h0M300.6 307.1h0M297.9 305.2h0M294.5 306.4h0M288.6 309.3h0M282.1 306.5h0M315.1 270.8h0M312.4 270.3h0M211.7 245.1h0M216.4 235.9h0M220.1 226.0h0M229.8 235.0h0M226.9 236.9h0M246.3 238.1h0M248.1 240.0h0M252.4 250.2h0M250.2 247.8h0M251.3 253.1h0M247.1 248.4h0M246.0 251.0h0M268.1 241.8h0M266.0 244.6h0M258.0 242.1h0M263.1 244.7h0M260.8 241.9h0M256.4 244.3h0M254.1 237.1h0M255.4 234.9h0M282.4 226.1h0M280.9 223.6h0M260.7 254.4h0M262.8 252.9h0M265.4 254.1h0M298.5 223.5h0M256.0 230.6h0M281.9 279.7h0M197.4 303.2h0M201.7 307.2h0M205.3 305.4h0M202.2 296.3h0M201.8 298.8h0M198.7 299.9h0M184.5 307.0h0M190.5 302.6h0M182.4 304.6h0M182.7 301.0h0M184.3 296.4h0M188.8 299.8h0M185.2 299.1h0M223.4 243.7h0M220.0 284.7h0M217.9 285.8h0M228.7 265.0h0M219.9 266.8h0M224.0 277.5h0M223.1 280.3h0M219.9 282.1h0M214.2 278.0h0M234.3 251.7h0M240.2 313.5h0M227.7 304.1h0M227.4 300.9h0M209.2 315.0h0M208.0 298.7h0M247.6 255.8h0M233.1 262.2h0M274.5 315.4h0M271.8 316.2h0M270.4 309.1h0M275.8 312.6h0M216.3 238.7h0M213.7 241.1h0M219.9 242.5h0M217.7 244.7h0M214.2 243.7h0M210.8 233.3h0M208.8 229.1h0M209.8 225.7h0M229.8 226.6h0M219.1 231.6h0M218.8 235.0h0M220.6 236.7h0M240.4 238.0h0M243.5 239.3h0M242.7 246.1h0M241.8 243.6h0M243.7 241.9h0M279.5 247.5h0M281.6 244.8h0M277.4 227.8h0M263.9 226.4h0M194.0 298.9h0M196.8 297.8h0M185.7 294.1h0M231.6 309.7h0M231.2 306.0h0M207.6 306.8h0M208.0 309.7h0M210.7 310.6h0M243.8 256.6h0M242.4 259.7h0M241.7 254.5h0M250.1 262.5h0M251.7 264.1h0M241.8 270.9h0M243.4 268.3h0M280.5 242.6h0M276.9 242.4h0M273.7 236.5h0M282.5 237.4h0M276.6 233.9h0M280.6 234.3h0M262.6 221.6h0M270.4 235.0h0M266.1 232.5h0M257.8 234.9h0M258.8 237.7h0M261.6 239.1h0M234.1 264.6h0M276.4 224.9h0M267.8 225.7h0M269.5 223.2h0M271.8 227.3h0M270.7 231.9h0"/>
<path stroke="#fff" stroke-opacity="0.85" stroke-width="1.0" d="M173.1 238.4h0M174.5 242.8h0M311.8 348.7h0M304.3 343.7h0M202.3 282.0h0M317.6 348.0h0M314.7 347.1h0M292.9 357.4h0M276.0 366.2h0M264.5 365.1h0M269.3 297.3h0M262.7 293.1h0M301.9 343.5h0M300.5 345.5h0M300.6 337.9h0M303.2 302.3h0M288.2 287.3h0M286.7 290.5h0M289.4 293.3h0M292.2 291.8h0M313.6 246.4h0M179.5 305.4h0M173.3 246.3h0M202.0 276.1h0M188.3 257.5h0M177.2 350.6h0M175.0 354.0h0M178.8 349.1h0M180.5 335.4h0M178.9 366.9h0M211.5 355.6h0M216.3 363.3h0M318.0 343.3h0M314.6 339.0h0M302.6 355.2h0M304.8 348.5h0M307.8 352.2h0M306.9 354.5h0M299.7 353.5h0M317.4 325.8h0M294.2 360.6h0M272.7 357.8h0M259.2 369.1h0M296.5 299.9h0M272.6 299.7h0M281.0 333.6h0M295.8 338.7h0M300.9 298.3h0M314.0 300.9h0M229.3 354.5h0M231.3 350.3h0M235.9 347.9h0M242.4 349.8h0M252.2 350.4h0M256.5 343.9h0M219.4 365.9h0M249.8 335.2h0M249.4 331.9h0M269.8 293.0h0M312.0 242.0h0M311.5 244.4h0M279.5 270.2h0M265.2 272.3h0M274.7 289.6h0M277.3 285.5h0M318.8 236.0h0M316.9 246.5h0M208.9 283.3h0M210.9 285.1h0M185.8 256.7h0M176.7 255.4h0M184.5 223.7h0M202.7 336.9h0M176.3 344.8h0M180.3 342.9h0M179.7 340.6h0M175.5 340.9h0M182.4 332.8h0M186.5 325.5h0M189.0 325.9h0M198.6 337.4h0M178.8 324.2h0M180.6 329.5h0M182.1 327.6h0M226.5 293.1h0M228.6 290.8h0M205.8 330.2h0M174.0 362.8h0M175.9 360.0h0M178.9 362.9h0M175.2 369.1h0M186.7 368.9h0M222.7 354.5h0M215.3 357.0h0M217.1 359.6h0M217.3 354.9h0M313.0 334.0h0M303.0 333.9h0M315.0 358.9h0M316.0 314.5h0M318.5 315.6h0M310.5 323.0h0M286.8 356.6h0M288.6 351.8h0M286.9 350.7h0M300.2 367.3h0M286.7 368.8h0M288.3 367.0h0M279.3 352.1h0M269.0 342.1h0M272.5 339.6h0M256.4 335.9h0M259.1 338.7h0M253.2 339.2h0M268.3 356.1h0M269.6 354.2h0M254.3 368.4h0M244.1 285.0h0M252.2 289.4h0M251.8 286.6h0M249.0 286.6h0M259.3 301.7h0M294.2 331.9h0M298.0 342.5h0M296.0 341.4h0M318.3 273.2h0M316.2 279.4h0M296.4 287.0h0M306.9 284.1h0M309.2 303.5h0M263.0 352.8h0M264.3 350.7h0M218.6 368.7h0M269.8 263.6h0M264.0 268.4h0M272.7 258.6h0M266.8 259.7h0M267.6 252.1h0M258.4 266.2h0M276.9 251.4h0M277.7 257.1h0M282.7 260.0h0M284.9 259.4h0M293.0 249.0h0M295.8 237.0h0M290.7 259.8h0M291.1 263.6h0M292.0 275.6h0M294.3 277.8h0M175.1 280.4h0M198.7 310.7h0M204.8 325.9h0M173.5 315.0h0M184.9 248.9h0M194.5 285.3h0M215.0 252.2h0M202.1 230.4h0M201.8 227.5h0M198.6 234.5h0M206.8 246.4h0M198.3 258.3h0M183.0 243.6h0M191.3 242.8h0M189.2 245.1h0M192.3 274.9h0M189.7 271.5h0M195.6 268.3h0M196.6 274.5h0M197.8 271.6h0M212.2 270.4h0M213.2 342.0h0M184.0 340.6h0M185.6 323.7h0M191.8 334.3h0M236.6 295.6h0M250.6 325.2h0M245.4 325.9h0M232.3 318.0h0M234.4 321.0h0M218.3 305.0h0M215.0 291.9h0M222.4 294.9h0M224.9 296.8h0M213.3 367.9h0M196.8 369.4h0M224.1 362.1h0M318.0 336.3h0M309.0 363.4h0M272.9 347.5h0M279.5 341.5h0M292.7 337.8h0M288.4 339.1h0M286.2 337.7h0M274.6 331.3h0M269.7 332.5h0M271.8 335.2h0M261.0 329.9h0M257.9 316.0h0M282.0 320.9h0M306.6 278.4h0M301.6 273.7h0M304.9 276.6h0M300.5 285.9h0M302.9 284.7h0M297.0 281.7h0M297.8 284.9h0M313.3 305.3h0M317.6 303.6h0M239.1 362.3h0M259.5 359.5h0M251.0 356.4h0M214.2 346.2h0M234.9 342.4h0M229.8 337.5h0M222.3 333.8h0M234.6 223.3h0M249.8 231.0h0M303.9 240.0h0M306.5 243.7h0M303.6 254.0h0M301.0 254.6h0M301.6 242.7h0M303.1 245.0h0M308.8 223.5h0M310.1 233.3h0M311.3 235.6h0M307.9 238.7h0M306.1 235.9h0M307.1 233.3h0M245.8 227.7h0M291.1 224.2h0M288.6 276.2h0M275.5 270.2h0M273.0 270.7h0M186.4 278.9h0M185.5 285.5h0M173.3 279.0h0M189.7 287.4h0M192.9 287.7h0M180.5 298.9h0M203.6 317.5h0M204.9 320.1h0M192.6 251.7h0M181.2 269.9h0M179.0 268.1h0M182.2 265.2h0M173.1 261.2h0M212.6 261.8h0M213.9 259.9h0M211.1 250.8h0M184.4 237.7h0M180.0 240.2h0M178.4 236.9h0M208.1 269.9h0M209.5 267.1h0M219.7 247.9h0M219.5 259.6h0M220.3 253.5h0M213.0 274.2h0M207.5 346.0h0M208.4 343.3h0M211.5 345.7h0M209.4 347.3h0M188.5 342.4h0M184.8 348.9h0M191.0 356.0h0M191.9 348.8h0M200.1 351.9h0M196.5 355.2h0M193.0 354.5h0M247.6 308.7h0M226.3 327.7h0M217.1 314.9h0M217.8 320.6h0M209.0 356.8h0M207.1 354.8h0M209.9 363.9h0M204.0 366.7h0M230.0 364.4h0M288.4 333.2h0M260.1 312.7h0M263.0 316.8h0M260.1 315.3h0M253.7 324.8h0M259.6 327.4h0M251.6 307.9h0M244.2 314.2h0M247.3 312.0h0M274.5 324.7h0M266.9 320.4h0M290.2 324.8h0M284.5 298.0h0M291.1 311.3h0M293.9 345.1h0M311.5 263.6h0M307.1 268.6h0M298.5 268.0h0M313.9 277.7h0M314.7 298.0h0M317.4 297.0h0M241.1 231.2h0M244.6 223.8h0M243.7 226.0h0M204.7 234.5h0M204.3 231.3h0M206.1 229.0h0M233.1 236.3h0M255.7 249.8h0M250.2 244.2h0M275.5 249.7h0M267.5 247.3h0M272.6 245.1h0M251.2 232.8h0M258.1 253.5h0M254.8 260.2h0M287.7 247.4h0M292.4 241.6h0M306.5 224.8h0M281.9 270.8h0M289.1 282.9h0M191.0 308.1h0M193.3 301.7h0M181.5 296.5h0M200.9 318.1h0M225.4 282.1h0M222.2 286.6h0M227.5 281.0h0M226.9 277.9h0M202.5 256.5h0M209.2 256.7h0M207.9 258.9h0M196.3 242.4h0M201.6 243.8h0M226.6 256.6h0M235.8 255.6h0M196.0 340.2h0M187.9 359.5h0M183.4 361.9h0M243.7 306.1h0M237.6 298.6h0M205.1 290.1h0M215.2 298.7h0M214.6 301.5h0M226.3 314.2h0M224.0 314.5h0M216.5 325.9h0M214.5 332.6h0M208.2 329.7h0M255.8 305.0h0M254.5 301.5h0M245.9 293.4h0M244.4 302.4h0M275.4 322.0h0M274.4 319.5h0M278.1 317.6h0M275.9 317.5h0M267.7 316.3h0M290.0 314.3h0M290.7 318.9h0M287.1 320.7h0M286.6 313.5h0M286.0 311.0h0M282.7 310.0h0M315.5 273.0h0M313.5 274.4h0M210.3 243.2h0M211.2 240.8h0M247.8 242.3h0M248.3 253.4h0M257.2 247.6h0M255.1 239.5h0M257.2 239.8h0M260.3 257.3h0M265.1 257.6h0M296.1 224.7h0M296.5 227.2h0M300.4 224.8h0M284.4 244.3h0M284.3 241.7h0M284.7 237.1h0M285.5 232.2h0M254.2 227.4h0M284.4 281.0h0M280.5 282.0h0M282.0 284.1h0M188.9 306.0h0M225.5 247.9h0M223.1 246.7h0M226.4 241.5h0M222.9 265.1h0M234.1 315.9h0M233.0 313.7h0M206.0 314.3h0M205.4 311.6h0M211.3 313.6h0M208.0 302.2h0M204.2 300.2h0M250.4 258.7h0M234.8 260.3h0M237.3 261.0h0M269.4 314.9h0M268.5 312.4h0M216.9 230.3h0M217.1 227.0h0M226.9 224.0h0M224.5 224.9h0M223.8 235.1h0M237.9 240.3h0M238.8 243.3h0M245.3 246.1h0M277.0 247.3h0M275.6 245.1h0M255.6 223.6h0M197.3 294.3h0M191.0 297.6h0M184.7 291.8h0M186.0 289.6h0M188.2 289.8h0M234.5 304.5h0M234.0 310.9h0M238.5 307.0h0M239.1 259.2h0M238.5 256.4h0M248.1 266.1h0M250.4 266.4h0M221.5 227.7h0M223.9 227.5h0M225.2 230.0h0M223.6 231.9h0M274.0 240.3h0M261.5 223.3h0M258.4 222.8h0M258.8 232.0h0M238.6 266.1h0M232.1 269.0h0M278.3 223.1h0M268.8 230.8h0M269.6 227.9h0"/>
<path stroke="#fff" stroke-opacity="0.85" stroke-width="1.4" d="M175.2 236.0h0M176.8 231.5h0M175.3 331.8h0M307.8 330.9h0M305.8 327.8h0M260.7 287.5h0M257.9 283.6h0M265.1 299.1h0M256.6 293.3h0M256.9 297.1h0M263.5 270.8h0M277.8 275.0h0M317.4 251.5h0M313.9 251.3h0M308.5 253.5h0M175.6 309.8h0M175.9 249.4h0M181.7 273.7h0M179.6 248.1h0M313.9 342.0h0M279.2 359.2h0M269.6 347.8h0M268.7 361.4h0M254.5 283.3h0M302.6 296.0h0M242.5 341.2h0M248.6 354.5h0M254.8 330.6h0M244.7 333.3h0M258.4 278.3h0M296.7 257.2h0M318.3 243.6h0M175.7 318.3h0M198.8 276.9h0M209.3 277.2h0M189.9 229.2h0M191.2 323.8h0M195.6 324.3h0M177.0 325.4h0M239.5 289.7h0M239.2 293.9h0M307.2 336.2h0M270.9 338.1h0M264.4 338.1h0M278.4 294.8h0M281.9 294.8h0M310.1 284.9h0M309.5 308.7h0M235.5 367.2h0M232.6 368.3h0M223.2 351.3h0M260.1 348.2h0M272.2 282.2h0M314.4 223.3h0M177.9 276.3h0M189.8 312.6h0M185.7 314.5h0M182.7 313.0h0M243.8 280.4h0M209.5 338.1h0M182.1 319.1h0M185.0 318.7h0M185.8 333.0h0M221.6 304.2h0M237.9 319.8h0M216.5 308.5h0M291.2 334.1h0M254.7 278.2h0M263.5 319.1h0M277.2 329.4h0M274.6 306.0h0M294.2 351.2h0M303.3 281.8h0M301.1 278.6h0M310.9 288.5h0M308.3 290.5h0M313.0 307.7h0M241.6 365.4h0M220.6 349.0h0M221.1 340.4h0M189.8 282.9h0M196.6 314.6h0M236.1 287.0h0M222.9 261.4h0M234.0 258.1h0M195.0 346.5h0M218.7 311.9h0M214.5 320.5h0M208.1 360.6h0M201.5 368.9h0M267.9 324.3h0M298.9 272.0h0M309.2 272.8h0M239.1 234.1h0M271.0 247.7h0M304.9 230.3h0M301.0 230.3h0M294.1 229.1h0M287.5 280.1h0M180.4 294.6h0M182.4 291.6h0M233.8 281.5h0M229.6 275.4h0M195.4 363.3h0M198.3 364.2h0M203.2 284.7h0M210.5 303.5h0M210.3 296.1h0M223.1 317.1h0M217.2 329.9h0M206.8 368.3h0M242.0 295.9h0M241.0 299.1h0M284.9 304.5h0M288.4 306.0h0M198.7 306.2h0M228.5 246.0h0M215.4 283.8h0M228.6 271.5h0M225.2 270.3h0M216.7 281.4h0M237.5 316.4h0M234.6 300.6h0M244.0 263.1h0M273.6 309.1h0M213.6 224.4h0M275.4 230.3h0M280.6 228.7h0M282.2 232.0h0M194.1 291.5h0M190.9 294.0h0M212.6 308.4h0M247.5 263.9h0M242.1 265.6h0M262.8 230.3h0"/>
<path stroke="#fff" stroke-opacity="0.85" stroke-width="1.6" d="M311.1 342.9h0M259.8 280.6h0M178.1 299.6h0M176.1 297.5h0M295.0 355.0h0M285.6 363.4h0M190.1 236.4h0M194.4 336.2h0M311.9 319.1h0M276.2 351.7h0M298.6 324.8h0M282.0 263.9h0M316.0 231.8h0M209.3 350.7h0M294.3 264.7h0M298.9 250.5h0M315.7 292.6h0M253.0 243.0h0M261.8 248.3h0M229.2 242.5h0M218.5 273.0h0"/>
</g>
<rect x="170.4" y="220.2" width="152" height="151.5" fill="none" stroke="#9a9a9a" stroke-width="0.6"/>
<clipPath id="pe2"><rect x="330.4" y="220.2" width="152" height="151.5"/></clipPath>
<g clip-path="url(#pe2)" stroke-linecap="round" fill="none"><rect x="330.4" y="220.2" width="152" height="151.5" fill="#4a5fc8"/>
<path stroke="#445acc" stroke-width="9.2" d="M398.9 339.6h0M342.6 300.2h0"/>
<path stroke="#4e68d8" stroke-width="9.2" d="M351.0 361.3h0"/>
<path stroke="#3f53c6" stroke-width="9.2" d="M426.0 327.6h0"/>
<path stroke="#4e68d8" stroke-width="8.8" d="M384.8 275.8h0M400.2 236.2h0M400.7 299.9h0M333.1 247.7h0M479.6 354.1h0M438.2 274.1h0M350.2 245.0h0"/>
<path stroke="#445acc" stroke-width="8.8" d="M356.2 327.7h0M423.4 272.2h0M457.0 300.3h0M421.1 339.2h0M450.1 333.0h0"/>
<path stroke="#4961d2" stroke-width="8.8" d="M412.5 302.4h0M381.8 299.1h0M350.5 348.5h0M387.1 253.2h0"/>
<path stroke="#3f53c6" stroke-width="8.8" d="M361.4 261.4h0M458.1 272.2h0M358.7 254.1h0M432.1 239.4h0"/>
<path stroke="#3b4cc0" stroke-width="8.8" d="M426.8 346.1h0M415.4 272.0h0M446.6 236.7h0M394.4 288.6h0M353.6 260.1h0M479.6 320.7h0M350.1 271.7h0M383.5 355.9h0M342.7 308.2h0"/>
<path stroke="#3b4cc0" stroke-width="8.4" d="M411.6 357.6h0M350.4 332.4h0M355.5 300.5h0M391.7 272.5h0M414.1 227.1h0M345.4 337.9h0M457.8 333.4h0M333.0 362.3h0M412.9 238.2h0M369.4 341.7h0M376.6 338.8h0M430.6 356.5h0"/>
<path stroke="#3f53c6" stroke-width="8.4" d="M392.5 227.0h0M475.1 326.8h0M379.0 285.3h0M425.7 299.7h0M424.5 240.6h0M443.0 279.9h0"/>
<path stroke="#445acc" stroke-width="8.4" d="M470.3 247.5h0M406.4 341.5h0M382.5 311.7h0M377.5 277.4h0M338.5 293.5h0"/>
<path stroke="#4961d2" stroke-width="8.4" d="M445.6 272.7h0M438.8 365.1h0"/>
<path stroke="#536edd" stroke-width="8.4" d="M468.0 222.9h0M442.9 353.9h0"/>
<path stroke="#5875e1" stroke-width="8.4" d="M386.6 331.5h0"/>
<path stroke="#4e68d8" stroke-width="8.4" d="M456.5 360.7h0M357.3 344.9h0"/>
<path stroke="#4e68d8" stroke-width="8.0" d="M463.9 347.0h0M453.2 346.1h0M397.2 247.7h0M469.5 273.8h0M436.2 351.5h0M347.6 222.8h0M411.2 346.8h0M363.5 248.5h0M452.2 251.1h0M428.9 334.7h0"/>
<path stroke="#3b4cc0" stroke-width="8.0" d="M436.0 282.3h0M421.4 351.1h0M474.7 361.1h0M360.3 222.7h0M432.5 341.3h0M445.6 265.2h0M470.0 343.5h0M475.3 283.6h0M417.3 332.3h0M390.1 369.7h0"/>
<path stroke="#4961d2" stroke-width="8.0" d="M463.4 253.0h0M472.7 290.1h0M340.6 344.1h0M365.5 305.7h0M420.3 284.5h0"/>
<path stroke="#445acc" stroke-width="8.0" d="M463.1 304.9h0M410.7 248.7h0M392.9 335.2h0M419.2 312.1h0M404.1 283.2h0M455.6 222.8h0M460.4 265.1h0M370.9 330.9h0M453.5 309.7h0M441.9 346.7h0M479.9 289.4h0M436.8 245.3h0"/>
<path stroke="#3f53c6" stroke-width="8.0" d="M479.9 227.9h0M457.9 244.2h0M337.0 222.7h0M474.0 337.9h0M389.9 313.1h0M373.5 246.2h0M366.2 315.9h0M439.5 340.0h0"/>
<path stroke="#536edd" stroke-width="8.0" d="M349.2 304.3h0"/>
<path stroke="#5875e1" stroke-width="8.0" d="M475.1 266.9h0"/>
<path stroke="#3f53c6" stroke-width="7.6" d="M426.5 312.1h0M426.2 288.2h0M387.3 267.1h0M380.6 344.7h0M381.0 240.7h0M408.4 260.4h0M467.9 325.9h0M332.8 345.3h0M359.1 338.0h0"/>
<path stroke="#445acc" stroke-width="7.6" d="M382.4 222.6h0M469.7 313.5h0M356.8 246.9h0M443.2 243.1h0M359.0 369.9h0M422.2 369.9h0M398.2 222.6h0"/>
<path stroke="#5875e1" stroke-width="7.6" d="M410.2 335.1h0M369.1 240.9h0M378.2 323.5h0"/>
<path stroke="#536edd" stroke-width="7.6" d="M383.8 338.1h0M439.0 222.6h0M446.1 365.0h0"/>
<path stroke="#4961d2" stroke-width="7.6" d="M456.4 283.4h0M444.2 324.0h0M366.3 266.8h0M350.3 287.1h0M386.6 260.4h0"/>
<path stroke="#3b4cc0" stroke-width="7.6" d="M370.4 278.6h0M332.8 284.3h0M393.4 299.3h0M450.0 280.8h0M372.5 305.7h0M421.7 363.2h0M357.9 285.8h0M431.3 271.5h0M399.8 316.3h0"/>
<path stroke="#4e68d8" stroke-width="7.6" d="M356.1 229.0h0"/>
<path stroke="#4e68d8" stroke-width="7.2" d="M385.5 287.7h0M446.2 286.2h0M463.5 298.0h0M400.2 346.6h0M399.0 229.1h0M480.1 273.4h0M351.3 341.4h0M365.6 254.6h0M402.3 243.0h0M345.9 250.5h0"/>
<path stroke="#536edd" stroke-width="7.2" d="M472.6 354.6h0M401.4 368.8h0"/>
<path stroke="#3b4cc0" stroke-width="7.2" d="M420.3 322.7h0M480.2 251.3h0M332.7 369.9h0M438.1 261.7h0M451.5 268.8h0M377.4 265.0h0M348.7 318.1h0M367.6 222.5h0M423.8 357.2h0M476.2 238.4h0M453.1 239.6h0M400.6 277.4h0"/>
<path stroke="#3f53c6" stroke-width="7.2" d="M415.9 252.8h0M386.8 343.9h0M433.9 302.1h0M470.5 332.1h0M450.6 290.7h0M368.5 289.6h0M474.6 232.1h0M333.9 268.5h0M381.5 269.8h0M370.4 320.9h0M410.1 324.8h0"/>
<path stroke="#4961d2" stroke-width="7.2" d="M437.3 358.1h0M333.3 351.8h0M429.2 282.2h0M336.9 329.4h0M337.5 229.3h0"/>
<path stroke="#445acc" stroke-width="7.2" d="M368.4 260.6h0M371.4 356.9h0M462.6 357.3h0M340.8 324.2h0M372.2 255.1h0"/>
<path stroke="#3f53c6" stroke-width="6.8" d="M343.8 288.7h0M427.5 266.8h0M366.6 234.9h0M347.7 235.5h0M392.5 258.2h0M338.6 358.5h0M404.6 231.0h0M457.4 326.5h0M337.8 273.8h0M343.1 314.9h0"/>
<path stroke="#4961d2" stroke-width="6.8" d="M480.2 245.0h0M480.3 331.4h0M463.2 292.0h0M332.5 325.0h0M467.0 352.9h0M473.9 306.5h0M424.3 306.2h0M332.5 240.8h0"/>
<path stroke="#3b4cc0" stroke-width="6.8" d="M480.3 279.5h0M406.3 290.2h0M337.0 304.3h0M463.6 227.8h0M362.4 273.5h0M455.1 318.1h0M467.7 337.4h0M410.8 266.3h0M418.3 305.6h0M360.2 268.1h0M396.3 281.9h0M430.1 261.2h0M410.3 294.8h0M427.2 222.4h0"/>
<path stroke="#445acc" stroke-width="6.8" d="M437.6 316.8h0M404.9 358.7h0M457.2 340.2h0M409.2 222.3h0M346.8 277.7h0M390.9 279.4h0M370.3 348.5h0M457.1 255.4h0M437.9 322.8h0"/>
<path stroke="#536edd" stroke-width="6.8" d="M470.0 236.9h0M480.2 262.9h0M420.3 230.1h0M392.9 342.6h0M339.8 249.7h0M416.6 367.0h0"/>
<path stroke="#4e68d8" stroke-width="6.8" d="M419.0 299.7h0M438.2 310.8h0M405.8 304.7h0M343.9 361.3h0M451.3 339.8h0M354.9 291.3h0M403.0 257.4h0M368.2 229.2h0M419.4 236.0h0"/>
<path stroke="#6788ee" stroke-width="6.8" d="M352.2 251.5h0"/>
<path stroke="#5875e1" stroke-width="6.8" d="M362.4 231.0h0"/>
<path stroke="#3f53c6" stroke-width="6.4" d="M469.8 253.8h0M389.4 236.9h0M463.7 246.6h0M410.0 285.4h0M366.8 325.8h0M448.6 350.6h0M459.3 366.7h0M372.5 235.5h0M480.3 337.2h0M432.5 313.8h0M440.1 333.6h0M343.0 231.8h0"/>
<path stroke="#5875e1" stroke-width="6.4" d="M404.2 325.9h0M438.7 239.0h0M463.0 341.0h0M468.9 285.0h0"/>
<path stroke="#4961d2" stroke-width="6.4" d="M348.4 370.2h0M337.0 279.7h0M359.6 241.4h0M332.4 290.6h0M378.0 370.2h0M443.5 313.7h0M332.4 262.7h0M435.9 234.0h0M480.4 297.9h0M406.0 275.0h0M356.5 351.5h0M381.2 292.2h0M452.3 365.8h0M432.9 326.1h0"/>
<path stroke="#536edd" stroke-width="6.4" d="M426.1 229.3h0M339.3 352.7h0M399.4 310.1h0M429.7 255.4h0M341.7 237.3h0"/>
<path stroke="#445acc" stroke-width="6.4" d="M364.6 347.4h0M474.1 225.6h0M463.7 312.3h0M403.9 225.1h0M345.7 283.1h0M448.0 305.4h0M360.1 308.7h0M457.4 293.5h0M352.6 278.0h0M439.8 299.7h0M396.7 351.5h0M440.8 290.7h0M435.4 292.1h0M389.5 319.6h0M465.1 366.5h0"/>
<path stroke="#4e68d8" stroke-width="6.4" d="M449.0 230.5h0M415.1 352.0h0M336.9 259.2h0M429.0 245.5h0M332.4 296.1h0M456.8 233.6h0M409.3 279.8h0M377.6 226.4h0M332.4 307.7h0M432.9 308.1h0"/>
<path stroke="#3b4cc0" stroke-width="6.4" d="M475.1 277.3h0M466.7 241.8h0M451.9 274.8h0M445.5 341.4h0M432.3 287.4h0M358.5 279.3h0M356.5 273.9h0M443.4 254.6h0M423.0 317.1h0M443.7 295.7h0M423.9 279.2h0M450.1 315.0h0M349.9 230.0h0M384.2 321.6h0M383.8 370.2h0M362.2 352.4h0M464.5 270.1h0"/>
<path stroke="#445acc" stroke-width="6.0" d="M394.3 322.4h0M388.5 222.1h0M408.7 309.8h0M435.1 335.6h0M457.6 354.2h0M413.2 319.8h0M348.9 298.1h0M423.5 293.7h0M433.1 362.3h0M346.7 323.5h0M348.7 256.0h0M370.2 300.1h0M391.8 243.5h0M415.7 326.3h0M423.8 246.9h0M380.7 251.5h0M380.5 361.8h0"/>
<path stroke="#3f53c6" stroke-width="6.0" d="M385.1 364.8h0M398.5 253.9h0M356.6 321.1h0M406.2 252.8h0M472.1 301.0h0M374.7 365.9h0M461.6 259.0h0M408.0 352.2h0M368.1 272.9h0M428.5 317.7h0M380.5 260.4h0M377.8 235.7h0M404.2 335.2h0"/>
<path stroke="#5875e1" stroke-width="6.0" d="M380.8 329.1h0M470.2 263.2h0"/>
<path stroke="#4961d2" stroke-width="6.0" d="M354.2 316.2h0M461.8 222.0h0M332.2 301.6h0M343.4 245.3h0M375.2 240.2h0M480.5 314.1h0M338.4 243.9h0M460.7 316.9h0"/>
<path stroke="#3b4cc0" stroke-width="6.0" d="M468.1 294.4h0M345.4 294.1h0M432.9 222.0h0M390.1 356.2h0M469.3 319.5h0M363.8 295.6h0M480.5 257.0h0M480.5 342.9h0M354.9 306.8h0M406.9 236.2h0M451.8 326.8h0M431.6 230.8h0M480.5 370.3h0M442.6 249.0h0M343.5 273.0h0M438.9 305.2h0M464.1 321.1h0"/>
<path stroke="#536edd" stroke-width="6.0" d="M454.1 228.8h0M410.2 368.1h0M342.1 263.8h0M415.1 244.3h0M367.7 361.4h0M339.9 268.4h0"/>
<path stroke="#4e68d8" stroke-width="6.0" d="M376.5 313.6h0M475.6 311.9h0M338.3 287.1h0M400.1 322.3h0M394.1 308.7h0M386.9 241.6h0M380.3 317.7h0M480.5 234.1h0M391.0 304.5h0"/>
<path stroke="#4e68d8" stroke-width="5.6" d="M458.3 349.3h0M384.3 235.9h0M404.2 312.5h0M354.3 222.0h0M406.9 299.2h0M458.1 250.1h0M362.6 361.1h0M362.6 282.5h0M336.0 253.9h0M444.9 222.0h0M442.8 360.2h0M386.0 282.1h0M472.1 258.6h0"/>
<path stroke="#3f53c6" stroke-width="5.6" d="M364.5 365.7h0M377.7 256.0h0M375.3 300.1h0M469.1 363.0h0M431.1 367.1h0M428.0 234.6h0M396.0 370.5h0M432.9 265.9h0M468.2 358.2h0M372.0 264.5h0M434.9 370.4h0M336.2 334.8h0M351.3 354.7h0M444.0 370.5h0M370.7 284.3h0M464.8 332.0h0M346.3 260.7h0M464.4 236.9h0M437.7 328.8h0"/>
<path stroke="#3b4cc0" stroke-width="5.6" d="M393.7 252.7h0M414.0 258.2h0M345.0 267.9h0M415.2 292.4h0M415.6 342.5h0M401.0 267.5h0M353.2 234.3h0M438.3 255.9h0M449.7 322.0h0M405.2 265.1h0M364.7 278.5h0M448.6 255.7h0M377.1 349.5h0M365.3 356.8h0M432.7 277.4h0M434.9 226.9h0M399.1 359.5h0M395.2 356.6h0M470.3 279.9h0"/>
<path stroke="#536edd" stroke-width="5.6" d="M452.1 245.1h0M388.6 324.8h0M463.2 282.1h0M374.5 260.3h0M443.3 308.3h0"/>
<path stroke="#445acc" stroke-width="5.6" d="M474.4 316.9h0M400.9 354.9h0M379.6 246.3h0M400.9 262.5h0M446.2 318.4h0M374.7 345.0h0M338.6 370.4h0M385.8 231.4h0M450.5 300.4h0M394.7 232.9h0M337.0 234.8h0"/>
<path stroke="#4961d2" stroke-width="5.6" d="M427.5 250.5h0M456.3 260.9h0M415.1 287.4h0M369.2 250.3h0M480.7 360.4h0M332.2 235.4h0M355.9 356.9h0M387.1 307.9h0M345.6 240.4h0M409.1 315.0h0M374.3 230.6h0M397.4 270.9h0M332.2 273.9h0M442.5 227.1h0M397.0 294.5h0"/>
<path stroke="#5875e1" stroke-width="5.6" d="M391.8 328.4h0M396.6 241.5h0M375.2 318.5h0M431.1 296.7h0"/>
<path stroke="#3f53c6" stroke-width="5.2" d="M340.8 333.8h0M332.0 225.8h0M406.4 330.6h0M468.9 304.8h0M372.9 273.5h0M351.8 322.6h0M396.4 266.4h0M376.1 270.4h0M346.3 343.7h0M367.6 335.7h0M373.0 221.8h0M377.3 308.6h0M372.5 226.2h0M334.0 312.6h0M452.7 296.0h0M339.4 338.4h0M438.0 251.0h0M480.7 347.9h0"/>
<path stroke="#4e68d8" stroke-width="5.2" d="M382.0 305.8h0M448.8 370.3h0M459.7 287.8h0M417.1 221.9h0M402.0 363.4h0M448.6 355.7h0M471.1 349.3h0"/>
<path stroke="#445acc" stroke-width="5.2" d="M341.9 225.9h0M476.7 294.4h0M372.9 370.6h0M399.6 333.2h0M444.6 336.1h0M477.0 366.4h0M417.2 347.2h0M430.3 292.0h0M336.5 299.2h0M432.5 249.4h0M351.8 238.9h0M357.9 361.2h0M400.9 289.5h0M384.1 247.8h0M364.9 330.7h0"/>
<path stroke="#3b4cc0" stroke-width="5.2" d="M419.8 290.3h0M391.0 364.0h0M440.7 285.7h0M401.9 272.2h0M426.4 366.3h0M358.7 295.2h0M387.8 360.6h0M428.0 276.2h0M364.6 370.6h0M371.5 269.4h0M415.2 337.6h0M346.0 328.5h0M420.4 255.8h0M421.2 251.3h0M447.6 310.5h0M343.4 370.6h0M423.1 333.3h0M382.2 228.2h0M475.2 370.6h0M470.5 370.5h0M443.2 259.8h0M368.7 295.1h0M335.9 320.9h0M433.2 319.8h0M424.6 254.2h0M359.1 316.8h0M434.0 258.0h0M410.8 232.4h0M377.9 304.1h0M419.2 276.8h0M475.7 349.3h0M394.3 317.3h0"/>
<path stroke="#4961d2" stroke-width="5.2" d="M406.1 321.0h0M472.5 366.3h0M441.1 234.5h0M368.7 310.6h0M438.8 229.7h0M469.2 268.1h0M387.9 300.2h0M416.2 361.7h0M397.8 258.9h0M332.0 257.6h0M417.8 317.8h0M410.6 254.5h0M376.8 295.1h0M452.9 355.7h0M451.8 259.2h0M355.8 365.3h0"/>
<path stroke="#5d7ce6" stroke-width="5.2" d="M413.9 314.8h0"/>
<path stroke="#536edd" stroke-width="5.2" d="M412.1 329.7h0M391.4 248.4h0M458.4 238.3h0M465.4 262.2h0M332.0 278.7h0M475.7 344.7h0M396.1 330.3h0M391.4 263.3h0"/>
<path stroke="#5875e1" stroke-width="5.2" d="M386.5 226.6h0M332.1 230.5h0M396.1 304.2h0"/>
<path stroke="#3f53c6" stroke-width="4.8" d="M437.3 266.9h0M401.6 293.9h0M447.6 346.0h0M467.1 308.8h0M394.4 237.5h0M382.6 264.6h0M401.8 250.8h0M456.0 277.8h0M385.4 316.7h0M353.8 337.0h0M337.3 264.2h0M472.6 296.1h0M425.8 258.4h0M349.8 292.5h0M407.4 240.7h0M389.9 284.5h0"/>
<path stroke="#4961d2" stroke-width="4.8" d="M405.5 269.7h0M427.9 370.7h0M419.9 244.2h0M337.2 239.4h0M409.5 271.3h0M381.4 232.5h0M471.9 241.6h0M405.1 248.0h0M408.5 362.6h0M367.1 352.5h0M331.9 339.7h0M356.1 237.9h0M386.0 350.3h0M476.9 221.6h0M459.2 310.0h0M364.3 338.7h0M434.2 253.6h0M338.4 312.9h0M405.6 347.4h0M427.1 340.1h0M433.5 331.2h0"/>
<path stroke="#4e68d8" stroke-width="4.8" d="M480.9 268.0h0M362.9 342.7h0M435.7 297.0h0M458.7 227.6h0M341.7 277.5h0M439.5 370.7h0M481.0 364.9h0M441.1 268.8h0M413.4 310.4h0M375.9 251.4h0"/>
<path stroke="#536edd" stroke-width="4.8" d="M466.7 257.9h0M342.7 366.3h0M405.7 365.7h0M391.0 347.4h0M403.3 351.0h0"/>
<path stroke="#445acc" stroke-width="4.8" d="M450.8 225.6h0M465.9 278.3h0M415.3 232.9h0M448.6 242.4h0M339.7 319.0h0M444.0 231.3h0M421.6 221.7h0M412.4 364.0h0M432.7 346.9h0M425.3 321.4h0M479.1 306.0h0M377.6 358.0h0M413.9 277.8h0M389.0 296.1h0"/>
<path stroke="#3b4cc0" stroke-width="4.8" d="M459.2 321.5h0M370.0 365.3h0M395.5 313.2h0M414.8 296.8h0M365.5 300.0h0M453.3 370.7h0M476.4 259.4h0M376.6 290.7h0M430.5 350.7h0M397.3 326.1h0M350.4 326.8h0M331.9 331.2h0M406.3 370.7h0M352.3 266.2h0M419.5 267.5h0M475.3 244.2h0M462.1 362.4h0M368.7 369.2h0M339.3 363.6h0M336.2 316.5h0M360.6 331.8h0M455.6 288.8h0M480.9 326.3h0M443.5 303.2h0M361.3 299.7h0M363.6 290.8h0M389.2 291.8h0M340.9 283.0h0M408.3 227.4h0M429.2 304.5h0M373.0 292.5h0M373.6 287.9h0M422.1 260.0h0M477.0 302.3h0M481.0 221.6h0M474.3 251.8h0M418.1 248.0h0M391.7 351.6h0M419.2 263.3h0M381.8 350.0h0M394.9 361.6h0M429.6 322.5h0"/>
<path stroke="#cdd9ec" stroke-width="4.8" d="M348.3 264.9h0"/>
<path stroke="#f7ad90" stroke-width="4.8" d="M376.0 328.5h0"/>
<path stroke="#5875e1" stroke-width="4.8" d="M360.5 357.0h0M464.3 286.7h0"/>
<path stroke="#6282ea" stroke-width="4.8" d="M353.6 370.7h0"/>
<path stroke="#5d7ce6" stroke-width="4.8" d="M380.0 334.0h0"/>
<path stroke="#8fb1fe" stroke-width="4.8" d="M341.9 259.1h0"/>
<path stroke="#dfdbd9" stroke-width="4.8" d="M373.1 325.5h0"/>
<path stroke="#3b4cc0" stroke-width="4.4" d="M372.2 362.0h0M446.0 299.9h0M392.5 294.0h0M357.5 312.8h0M377.0 353.8h0M353.7 311.3h0M347.1 312.0h0M425.2 262.3h0M450.7 361.2h0M454.1 323.0h0M457.6 306.2h0M467.6 301.0h0M461.7 352.2h0M394.4 366.4h0M446.8 251.1h0M476.0 248.1h0M350.2 309.7h0M363.2 286.9h0M382.1 255.9h0M411.4 290.1h0M426.8 352.3h0M445.5 291.3h0M390.3 232.1h0M413.7 370.9h0M352.1 225.9h0M335.9 340.9h0M363.3 334.7h0M422.7 265.3h0M427.1 361.8h0M374.3 282.0h0M331.8 221.6h0M350.7 313.4h0"/>
<path stroke="#4e68d8" stroke-width="4.4" d="M469.9 228.2h0M342.3 221.6h0M447.2 359.6h0M462.2 240.7h0M395.5 262.3h0M364.2 226.3h0M360.6 323.7h0M417.0 280.4h0M336.8 309.2h0M465.6 316.6h0M362.2 327.4h0M450.0 221.6h0M446.7 226.1h0M340.1 255.5h0M368.3 246.0h0M353.9 282.4h0"/>
<path stroke="#445acc" stroke-width="4.4" d="M462.5 325.4h0M363.8 239.0h0M454.9 264.9h0M457.3 313.7h0M452.7 304.4h0M360.2 303.9h0M448.4 295.4h0M447.5 260.0h0M331.8 253.3h0M395.4 276.9h0M418.9 294.6h0M421.0 345.1h0M352.6 295.7h0M411.8 340.2h0M481.1 302.5h0M442.1 328.8h0M389.1 339.2h0M400.4 328.9h0M437.1 287.7h0M418.3 355.5h0M410.9 275.1h0M331.8 356.8h0M459.9 279.3h0M351.9 367.0h0M343.8 320.1h0M413.5 282.1h0M343.9 255.5h0M377.2 221.6h0M462.8 336.0h0"/>
<path stroke="#4961d2" stroke-width="4.4" d="M365.3 321.3h0M359.6 290.8h0M475.0 272.3h0M465.4 232.5h0M447.5 328.0h0M354.9 241.8h0M347.1 353.2h0M364.2 242.9h0M462.2 276.3h0M345.6 227.9h0M384.4 326.4h0M423.3 225.4h0M350.1 281.9h0M405.3 295.1h0M448.0 246.9h0M451.0 263.5h0M337.2 348.4h0M343.8 351.1h0M346.8 365.6h0M361.4 313.3h0M419.5 225.2h0M373.6 352.2h0M342.1 329.7h0"/>
<path stroke="#3f53c6" stroke-width="4.4" d="M441.7 319.3h0M395.1 346.9h0M461.4 232.3h0M361.8 320.0h0M387.9 246.1h0M331.8 335.5h0M355.4 269.1h0M481.1 240.1h0M415.7 266.1h0M418.0 259.3h0M372.7 296.5h0M457.3 370.9h0M385.6 293.9h0M452.0 234.5h0M430.4 226.2h0M473.6 321.4h0M418.0 240.8h0M331.7 320.1h0"/>
<path stroke="#5875e1" stroke-width="4.4" d="M481.0 309.7h0M467.3 289.4h0M360.2 364.8h0M405.1 316.9h0M331.8 316.2h0M458.8 344.9h0"/>
<path stroke="#5d7ce6" stroke-width="4.4" d="M423.7 233.5h0M453.2 351.6h0M476.2 255.4h0"/>
<path stroke="#536edd" stroke-width="4.4" d="M385.6 303.7h0M360.7 236.7h0M475.6 332.6h0M380.8 366.4h0M346.6 357.0h0M444.6 331.9h0M469.3 231.8h0M357.8 234.3h0M375.9 333.2h0"/>
<path stroke="#f6bda2" stroke-width="4.4" d="M356.4 265.3h0"/>
<path stroke="#9fbfff" stroke-width="4.4" d="M336.6 366.6h0"/>
<path stroke="#bfd3f6" stroke-width="4.4" d="M397.9 364.6h0"/>
<path stroke="#afcafc" stroke-width="4.4" d="M371.8 315.1h0"/>
<path stroke="#3b4cc0" stroke-width="4.0" d="M344.7 347.5h0M371.6 336.3h0M410.6 243.3h0M439.0 295.1h0M420.1 327.7h0M461.5 329.2h0"/>
<path stroke="#3f53c6" stroke-width="4.0" d="M372.9 310.9h0M481.1 284.3h0M399.3 285.7h0"/>
<path stroke="#445acc" stroke-width="4.0" d="M376.0 361.6h0M381.9 280.6h0"/>
<path stroke="#4961d2" stroke-width="4.0" d="M366.3 284.7h0M415.2 262.4h0M436.6 345.5h0M475.8 298.4h0"/>
<path stroke="#4e68d8" stroke-width="4.0" d="M466.3 370.9h0M462.6 370.9h0"/>
<path stroke="#536edd" stroke-width="4.0" d="M400.9 305.7h0M342.8 356.0h0M364.3 310.8h0"/>
<path stroke="#9fbfff" stroke-width="4.0" d="M407.1 244.8h0"/>
<path stroke="#fff" stroke-opacity="0.85" stroke-width="1.2" d="M479.3 328.0h0M333.1 223.3h0M347.9 281.1h0M348.8 283.6h0M346.5 286.2h0M334.8 264.9h0M337.2 266.8h0M335.6 296.8h0M340.2 289.4h0M456.4 368.3h0M440.2 330.2h0M469.1 288.2h0M478.4 276.8h0M476.5 291.8h0M447.4 223.3h0M442.4 224.1h0M399.4 240.5h0M450.0 272.2h0M419.5 269.9h0M427.0 278.8h0M429.9 278.2h0M421.8 276.5h0M419.3 274.2h0M416.2 276.1h0M479.6 237.8h0M430.5 275.4h0M441.6 271.2h0M443.5 268.9h0M426.5 256.1h0M428.2 258.3h0M433.5 263.2h0M456.6 240.3h0M406.9 249.8h0M404.3 234.4h0M409.1 252.4h0M354.0 284.6h0M342.5 281.1h0M342.4 266.7h0M339.6 265.4h0M333.9 299.1h0M336.2 290.1h0M334.1 293.4h0M334.6 287.5h0M455.9 364.7h0M459.8 363.4h0M339.2 367.6h0M464.3 324.2h0M467.4 333.8h0M467.5 330.2h0M453.9 341.8h0M457.0 343.8h0M459.5 329.4h0M460.9 327.2h0M464.1 329.3h0M461.8 322.9h0M460.0 324.3h0M449.5 328.7h0M444.8 329.6h0M446.8 330.5h0M442.5 331.2h0M443.4 333.7h0M454.2 325.1h0M456.1 321.3h0M457.2 287.2h0M479.3 285.4h0M471.2 282.6h0M473.3 280.0h0M479.4 282.7h0M477.0 279.9h0M471.7 277.3h0M468.8 291.2h0M466.4 291.7h0M465.1 294.7h0M458.5 319.1h0M461.1 320.0h0M435.2 288.9h0M437.6 289.9h0M438.8 235.8h0M435.3 224.0h0M432.5 225.2h0M401.4 231.8h0M453.5 272.1h0M454.4 280.2h0M455.2 275.4h0M429.5 286.0h0M416.9 302.6h0M466.9 255.3h0M459.8 240.7h0M479.1 223.0h0M445.5 261.1h0M449.2 258.4h0M422.1 253.8h0M431.5 258.1h0M436.6 258.3h0M444.6 251.5h0M446.4 253.5h0M448.8 227.1h0M451.3 228.0h0M454.0 243.1h0M461.6 243.4h0M411.2 257.3h0M435.9 237.4h0M410.6 229.2h0M407.7 233.2h0M412.0 244.9h0M359.9 282.4h0M343.7 276.1h0M345.7 270.7h0M342.8 269.7h0M334.5 272.2h0M337.4 270.2h0M340.5 271.6h0M341.2 275.0h0M338.6 297.9h0M354.5 271.2h0M334.8 256.8h0M337.9 256.0h0M335.7 262.2h0M333.7 259.7h0M339.9 257.8h0M338.7 253.5h0M336.5 250.9h0M352.8 241.4h0M354.3 243.9h0M356.8 242.9h0M353.1 248.0h0M354.6 254.9h0M335.0 226.0h0M349.1 240.9h0M371.0 271.9h0M368.9 269.9h0M402.9 274.6h0M383.4 294.5h0M365.6 286.7h0M364.2 284.9h0M361.7 285.2h0M360.6 288.2h0M368.3 285.8h0M387.9 316.7h0M333.9 315.2h0M479.4 366.9h0M459.8 369.9h0M477.4 369.0h0M474.7 365.1h0M474.9 367.8h0M337.5 361.7h0M351.5 369.1h0M355.0 348.6h0M464.2 337.9h0M459.6 342.5h0M476.9 330.9h0M474.1 331.1h0M466.7 340.5h0M454.3 353.7h0M455.4 356.4h0M445.5 344.7h0M441.7 336.3h0M443.5 338.9h0M442.5 342.6h0M468.4 277.7h0M465.9 281.5h0M466.7 287.3h0M462.4 288.5h0M460.1 290.9h0M455.4 296.2h0M459.4 297.0h0M467.7 270.3h0M462.0 273.4h0M471.1 266.1h0M473.6 274.2h0M476.4 274.1h0M477.3 297.0h0M457.7 315.8h0M458.9 304.4h0M463.7 318.0h0M447.1 289.7h0M452.9 298.6h0M451.0 236.5h0M449.8 233.8h0M446.2 232.4h0M443.5 233.7h0M430.4 223.9h0M432.1 227.7h0M429.6 228.4h0M438.8 232.6h0M419.5 223.0h0M417.5 224.4h0M407.2 225.2h0M405.9 227.7h0M402.6 228.3h0M457.7 279.7h0M409.0 276.4h0M411.5 277.3h0M408.0 282.8h0M432.5 290.6h0M429.9 289.5h0M409.1 273.8h0M470.9 233.3h0M472.4 228.4h0M476.0 228.4h0M470.8 226.1h0M443.0 284.3h0M439.3 287.8h0M418.6 250.4h0M419.5 253.4h0M412.3 252.4h0M417.4 261.6h0M419.7 260.8h0M420.1 258.5h0M430.4 264.8h0M430.7 267.8h0M424.3 267.4h0M427.1 253.3h0M426.7 247.8h0M436.7 253.5h0M435.4 255.8h0M432.9 255.6h0M451.5 223.4h0M453.1 226.0h0M463.4 231.2h0M464.1 224.2h0M448.6 252.7h0M449.5 240.1h0M451.0 242.6h0M446.5 241.2h0M432.4 243.6h0M441.1 246.0h0M408.6 238.6h0M409.9 241.3h0M412.5 242.4h0M339.1 277.1h0M340.1 280.1h0M333.8 280.6h0M372.7 301.6h0M369.5 303.5h0M380.3 303.7h0M377.8 301.5h0M376.3 306.1h0M375.6 303.1h0M379.6 295.1h0M348.2 294.7h0M351.4 290.7h0M358.1 292.4h0M365.8 271.3h0M349.9 279.6h0M352.1 281.1h0M355.8 277.1h0M354.3 239.7h0M356.5 240.3h0M358.8 238.4h0M378.7 223.3h0M343.3 261.1h0M358.7 265.3h0M357.0 267.4h0M340.9 223.4h0M339.2 226.0h0M353.8 237.2h0M355.9 235.5h0M355.9 233.0h0M351.1 236.4h0M378.1 272.0h0M393.1 276.6h0M394.4 279.0h0M397.1 278.5h0M400.1 270.3h0M398.2 268.2h0M398.6 243.7h0M384.3 291.8h0M382.0 288.7h0M387.3 279.5h0M388.8 282.3h0M387.4 284.5h0M390.3 294.0h0M387.8 293.9h0M371.3 287.1h0M372.2 281.9h0M370.6 274.6h0M373.4 276.0h0M390.8 322.4h0M406.7 337.0h0M420.8 334.6h0M415.1 317.4h0M378.4 311.2h0M380.4 308.3h0M385.9 314.4h0M338.1 333.0h0M336.3 314.0h0M368.0 298.3h0M397.2 362.1h0M407.4 345.7h0M380.0 358.8h0M361.8 348.5h0M472.7 369.1h0M367.9 346.2h0M365.1 344.0h0M352.9 352.0h0M346.8 359.3h0M341.7 364.0h0M340.4 361.4h0M341.9 358.1h0M432.5 337.0h0M438.1 336.1h0M425.5 332.2h0M419.9 316.1h0M423.0 314.0h0M446.4 369.0h0M470.5 335.8h0M473.8 333.8h0M471.8 363.8h0M475.4 356.6h0M471.4 357.9h0M443.8 320.2h0M438.7 344.4h0M462.8 261.8h0M464.7 259.7h0M448.5 262.5h0M449.8 265.5h0M452.7 265.3h0M474.1 294.1h0M471.1 294.1h0M479.1 303.6h0M463.6 315.5h0M477.9 316.9h0M467.0 321.9h0M466.2 318.8h0M443.7 292.4h0M421.5 224.2h0M414.8 280.2h0M412.6 280.0h0M411.3 282.4h0M413.0 284.7h0M412.4 292.1h0M413.7 290.0h0M412.2 287.9h0M415.6 299.0h0M413.7 294.8h0M416.4 294.7h0M417.5 296.7h0M416.7 290.1h0M418.0 292.6h0M418.3 287.8h0M421.8 288.0h0M420.5 293.0h0M392.9 319.6h0M393.7 314.6h0M418.0 265.7h0M416.6 263.9h0M417.1 267.8h0M407.1 271.7h0M404.0 267.5h0M402.9 269.9h0M406.9 267.2h0M469.8 240.3h0M472.5 239.3h0M478.4 248.1h0M476.8 245.9h0M440.0 283.1h0M439.0 278.9h0M438.1 285.7h0M435.3 286.3h0M432.5 280.3h0M417.9 245.6h0M418.5 227.1h0M423.3 227.8h0M426.6 260.6h0M427.2 263.3h0M424.8 264.6h0M461.1 225.9h0M456.4 226.8h0M460.0 247.3h0M449.4 244.9h0M450.3 247.3h0M446.2 249.0h0M447.1 244.4h0M429.8 248.6h0M435.6 248.9h0M406.1 242.9h0M408.4 243.0h0M409.3 245.0h0M413.1 234.0h0M415.9 235.2h0M417.9 233.0h0M413.3 231.4h0M350.9 300.6h0M353.4 304.2h0M351.5 307.5h0M347.3 300.5h0M357.4 304.1h0M349.3 311.7h0M345.9 254.4h0M340.5 246.1h0M343.0 248.3h0M346.1 246.9h0M396.5 238.6h0M388.7 225.1h0M386.1 224.0h0M362.2 256.6h0M365.3 258.7h0M362.8 252.4h0M370.3 266.9h0M369.2 264.0h0M354.3 264.6h0M354.8 266.9h0M353.1 268.6h0M335.0 243.8h0M360.0 234.5h0M344.1 234.9h0M341.0 228.8h0M395.0 243.8h0M404.2 250.4h0M383.9 280.1h0M399.2 304.0h0M399.0 306.4h0M393.7 311.7h0M393.8 305.8h0M396.2 310.9h0M374.8 297.1h0M372.8 298.7h0M378.0 292.6h0M375.9 288.4h0M390.7 331.2h0M386.3 319.0h0M387.5 322.1h0M385.6 324.6h0M426.7 303.8h0M406.7 333.4h0M409.5 331.4h0M397.0 348.2h0M393.1 346.0h0M389.6 341.5h0M390.4 345.0h0M346.0 320.6h0M334.7 309.9h0M336.5 311.4h0M338.6 310.4h0M361.2 297.0h0M363.5 298.7h0M369.4 313.7h0M372.6 317.8h0M369.9 317.0h0M374.3 308.9h0M375.3 311.0h0M373.5 313.1h0M371.3 312.2h0M370.4 324.3h0M370.5 327.0h0M367.1 329.2h0M364.4 328.1h0M362.9 332.5h0M362.5 329.9h0M349.2 321.6h0M396.3 359.3h0M397.6 354.5h0M387.6 357.9h0M416.7 339.8h0M419.2 342.9h0M375.8 352.0h0M379.9 348.4h0M377.8 360.5h0M370.6 360.5h0M375.9 356.0h0M375.5 359.2h0M338.8 335.7h0M341.4 336.5h0M362.7 337.0h0M372.3 338.3h0M349.2 352.6h0M349.7 365.3h0M346.9 363.3h0M344.6 364.7h0M348.9 344.2h0M347.6 341.5h0M432.9 333.5h0M434.7 328.9h0M427.1 323.2h0M426.0 315.9h0M425.6 319.0h0M427.7 320.7h0M430.5 320.1h0M434.5 322.7h0M436.2 326.1h0M441.3 321.6h0M443.3 367.3h0M476.9 342.3h0M473.6 342.4h0M477.4 347.3h0M459.8 346.9h0M456.1 351.6h0M454.9 349.6h0M457.4 346.6h0M462.1 364.9h0M449.3 308.6h0M446.9 321.3h0M452.1 323.8h0M441.1 357.8h0M440.0 360.9h0M442.8 363.0h0M479.1 266.2h0M478.8 259.6h0M478.6 254.8h0M477.4 257.2h0M469.5 259.7h0M469.4 256.9h0M473.1 256.0h0M465.4 301.2h0M457.3 308.4h0M457.2 311.4h0M461.7 309.4h0M466.8 311.1h0M466.1 314.5h0M467.8 316.7h0M471.3 316.8h0M473.5 314.2h0M478.9 309.1h0M475.5 322.6h0M475.2 319.7h0M440.9 294.0h0M440.6 296.5h0M438.5 293.0h0M450.4 294.4h0M447.8 292.7h0M448.0 301.6h0M407.0 286.4h0M409.6 288.7h0M409.7 291.5h0M408.0 301.9h0M402.3 304.1h0M404.9 301.2h0M396.1 315.4h0M397.9 313.1h0M469.8 243.1h0M472.9 244.0h0M474.5 246.5h0M417.9 242.9h0M415.9 241.3h0M417.2 238.8h0M425.8 244.7h0M422.3 244.3h0M420.0 239.3h0M456.1 252.1h0M459.2 252.6h0M366.1 309.6h0M363.6 312.8h0M366.3 311.9h0M362.2 311.2h0M361.5 305.9h0M363.3 308.9h0M351.3 315.5h0M351.5 311.5h0M397.6 232.5h0M395.8 235.6h0M395.5 230.0h0M380.8 226.1h0M383.8 226.2h0M374.6 227.7h0M364.8 228.4h0M365.8 231.7h0M371.9 231.8h0M378.1 268.6h0M338.4 237.3h0M388.9 263.5h0M402.4 265.1h0M400.3 259.7h0M383.0 230.7h0M384.8 228.7h0M384.6 256.6h0M380.3 254.7h0M399.5 256.8h0M383.9 308.0h0M387.6 305.2h0M393.6 303.0h0M391.4 296.0h0M394.2 295.5h0M396.5 301.6h0M372.1 290.0h0M374.0 294.7h0M375.4 292.6h0M370.3 292.7h0M398.0 328.4h0M383.4 318.5h0M377.2 316.7h0M377.8 319.6h0M381.0 320.7h0M437.7 302.4h0M406.7 323.6h0M387.1 340.2h0M383.8 342.3h0M382.8 334.5h0M380.2 336.4h0M403.4 348.6h0M405.4 350.1h0M383.8 351.4h0M394.6 339.3h0M401.9 342.9h0M341.6 320.7h0M344.9 312.0h0M340.9 312.4h0M346.4 314.5h0M344.9 318.1h0M342.1 318.4h0M338.2 307.5h0M338.1 301.1h0M335.2 301.5h0M333.8 304.5h0M335.6 307.4h0M373.7 327.9h0M375.5 326.2h0M349.8 324.4h0M348.8 328.7h0M394.0 368.6h0M398.2 367.6h0M392.3 366.3h0M386.0 368.0h0M415.1 345.4h0M414.1 340.0h0M412.7 338.1h0M410.3 342.3h0M401.4 357.6h0M405.2 353.5h0M373.7 342.3h0M371.8 345.3h0M358.4 366.2h0M370.2 363.0h0M367.9 358.4h0M362.5 355.6h0M366.6 338.3h0M369.8 337.3h0M364.9 336.4h0M367.4 332.6h0M370.1 334.9h0M420.2 319.0h0M439.5 319.6h0M436.0 319.8h0M443.6 317.5h0M439.8 313.8h0M429.6 307.7h0M431.7 304.9h0M435.4 305.2h0M436.0 361.7h0M461.1 350.0h0M460.7 354.2h0M459.5 351.9h0M450.7 303.4h0M455.6 304.3h0M452.9 302.1h0M450.0 363.6h0M452.6 362.5h0M452.8 359.1h0M451.8 350.0h0M449.3 347.5h0M447.2 353.5h0M444.9 350.4h0M445.5 361.1h0M448.3 361.5h0M434.3 345.1h0M431.1 345.1h0M430.6 348.3h0M435.1 347.3h0M432.7 349.5h0M437.8 347.4h0M471.9 251.4h0M474.2 249.4h0M476.5 253.1h0M466.8 306.4h0M440.9 302.8h0M399.8 295.4h0M397.9 291.1h0M393.0 284.7h0M397.3 285.2h0M428.6 231.7h0M458.3 258.7h0M456.6 263.6h0M459.2 261.3h0M365.7 245.4h0M375.2 237.1h0M369.9 247.5h0M369.0 253.0h0M366.5 251.1h0M367.5 248.1h0M374.4 263.2h0M375.0 257.3h0M383.6 266.8h0M380.8 266.2h0M385.0 264.1h0M388.8 243.9h0M393.0 246.5h0M390.2 246.1h0M375.5 254.0h0M395.5 260.1h0M393.3 261.6h0M390.4 260.9h0M390.4 301.4h0M389.7 298.4h0M387.9 302.8h0M385.6 301.4h0M385.7 297.3h0M433.6 298.3h0M436.9 295.0h0M438.1 296.9h0M436.5 299.3h0M397.4 335.4h0M401.1 335.4h0M398.7 330.7h0M333.4 321.6h0M337.3 318.8h0M367.1 322.5h0M367.0 319.8h0M355.2 313.2h0M359.6 311.9h0M356.7 317.9h0M357.1 315.1h0M359.4 314.2h0M377.6 334.7h0M374.3 335.6h0M374.9 330.9h0M383.8 328.5h0M378.1 327.4h0M354.5 323.3h0M358.3 323.7h0M360.3 326.0h0M382.0 364.6h0M380.8 368.6h0M382.9 367.0h0M399.6 362.6h0M401.8 360.7h0M400.2 365.2h0M365.2 359.7h0M362.7 358.2h0M354.5 354.4h0M375.1 369.0h0M374.3 362.9h0M372.1 364.3h0M367.6 364.3h0M364.9 362.7h0M362.2 363.9h0M367.6 355.0h0M370.7 353.4h0M365.1 353.8h0M367.2 349.8h0M364.9 350.9h0M333.8 341.4h0M346.5 346.3h0M340.7 355.7h0M418.8 326.0h0M412.7 327.2h0M414.7 329.3h0M418.1 328.4h0M431.4 317.3h0M434.3 317.0h0M429.3 314.7h0M436.0 313.8h0M434.4 310.9h0M444.9 310.7h0M440.3 308.0h0M446.2 308.2h0M444.7 305.6h0M434.8 355.4h0M432.1 352.5h0M470.2 352.0h0M469.1 355.4h0M466.2 356.2h0M463.4 353.8h0M475.2 300.4h0M473.7 298.3h0M476.9 304.8h0M474.6 303.1h0M471.4 304.1h0M407.0 293.6h0M407.1 296.3h0M416.4 309.4h0M415.0 312.4h0M403.5 315.3h0M401.4 312.8h0M407.3 312.5h0M425.3 235.5h0M421.5 233.2h0M423.4 231.3h0M425.7 232.7h0M361.5 238.8h0M362.8 241.0h0M380.5 263.4h0M380.2 257.2h0M382.8 258.5h0M383.0 262.1h0M383.7 233.3h0M384.3 239.2h0M377.8 238.7h0M381.2 237.2h0M396.4 251.8h0M393.6 249.7h0M391.2 251.1h0M391.6 254.7h0M417.9 363.8h0M407.2 368.2h0M408.0 365.3h0M404.9 368.4h0M403.3 365.7h0M358.3 358.4h0M360.2 362.5h0M360.3 359.6h0M358.1 363.8h0M355.5 362.8h0M355.6 359.6h0M338.2 340.8h0M344.4 345.4h0M372.5 238.8h0M366.0 238.3h0M383.7 250.4h0M414.8 364.0h0M408.0 356.0h0M408.2 360.2h0M413.6 361.7h0M429.1 352.6h0M428.2 350.4h0M425.3 350.4h0M428.3 368.1h0M423.8 366.5h0M425.9 368.8h0M334.9 348.5h0M336.8 350.6h0M381.6 248.5h0M411.5 353.6h0M411.4 350.6h0M414.9 348.7h0M417.6 349.8h0M418.1 353.4h0M420.6 354.9h0"/>
<path stroke="#fff" stroke-opacity="0.85" stroke-width="0.8" d="M413.8 223.4h0M332.8 268.6h0M337.0 221.8h0M455.3 328.5h0M480.5 273.1h0M480.4 306.0h0M382.1 222.0h0M392.7 223.7h0M449.4 276.1h0M424.5 281.8h0M442.3 261.8h0M438.9 266.3h0M438.9 269.2h0M434.2 267.7h0M415.2 247.0h0M344.4 279.3h0M340.4 262.3h0M332.1 309.3h0M332.3 284.1h0M332.3 296.2h0M480.4 320.9h0M454.6 369.5h0M339.4 365.5h0M455.3 338.1h0M461.2 332.7h0M462.9 332.3h0M463.3 327.1h0M453.0 330.5h0M448.0 342.8h0M446.9 338.9h0M454.3 285.2h0M478.8 294.2h0M480.6 289.6h0M441.6 236.6h0M439.0 222.2h0M425.3 284.9h0M480.6 244.5h0M461.6 238.8h0M480.5 227.2h0M423.7 256.2h0M421.7 267.6h0M434.0 260.0h0M444.9 258.5h0M446.7 257.1h0M449.1 224.4h0M469.7 222.1h0M408.5 255.5h0M364.7 282.1h0M333.7 275.7h0M338.9 260.9h0M345.4 265.5h0M351.2 255.5h0M360.2 222.3h0M400.0 273.1h0M392.1 282.2h0M364.6 289.0h0M362.1 289.5h0M362.1 292.1h0M332.0 325.2h0M332.7 312.7h0M478.0 364.6h0M479.4 362.4h0M332.4 361.9h0M348.6 370.5h0M426.1 336.3h0M424.2 337.4h0M423.3 342.0h0M463.8 278.7h0M465.2 276.5h0M468.3 280.7h0M462.5 285.6h0M471.6 271.2h0M473.0 269.5h0M478.4 271.0h0M477.2 269.5h0M448.9 286.0h0M444.5 228.2h0M426.8 222.0h0M434.1 230.4h0M436.6 230.0h0M440.2 226.9h0M404.0 223.4h0M461.6 279.0h0M459.5 277.8h0M419.9 281.1h0M419.5 278.9h0M417.2 283.7h0M403.6 278.2h0M406.6 279.1h0M413.1 260.6h0M477.8 241.2h0M478.8 242.8h0M470.8 230.4h0M473.8 223.2h0M416.2 257.2h0M418.3 256.4h0M422.8 258.2h0M424.4 252.1h0M455.2 222.0h0M468.2 230.8h0M468.0 233.3h0M450.7 255.8h0M405.9 239.8h0M335.3 277.6h0M338.9 283.3h0M346.7 291.9h0M375.9 222.9h0M347.6 222.0h0M395.3 273.8h0M395.7 269.5h0M405.8 256.5h0M388.5 288.1h0M366.7 292.1h0M365.4 293.7h0M373.0 284.6h0M368.7 283.1h0M399.2 326.0h0M420.5 303.8h0M422.8 302.0h0M401.4 326.0h0M342.9 330.6h0M366.1 297.0h0M424.5 343.4h0M382.9 346.8h0M358.8 350.0h0M470.3 370.7h0M350.7 336.0h0M347.1 332.2h0M356.2 339.3h0M357.7 335.2h0M353.9 340.3h0M350.9 338.5h0M448.9 370.5h0M480.4 354.1h0M464.4 359.6h0M468.2 264.5h0M463.8 265.6h0M467.3 260.9h0M460.1 314.2h0M459.1 234.7h0M425.2 225.7h0M415.2 282.9h0M420.4 295.7h0M427.0 296.4h0M426.9 291.6h0M396.2 320.5h0M423.3 262.6h0M455.8 246.7h0M454.3 248.5h0M432.3 252.7h0M352.1 297.6h0M341.4 254.1h0M342.5 243.1h0M389.4 229.0h0M374.1 224.6h0M373.2 268.2h0M350.2 266.8h0M332.3 248.2h0M331.9 225.7h0M335.3 231.7h0M333.7 233.5h0M353.8 225.4h0M361.6 228.4h0M384.5 270.6h0M394.3 240.6h0M403.2 247.8h0M400.8 247.7h0M382.6 282.1h0M378.3 282.1h0M378.0 280.5h0M429.0 300.6h0M426.9 307.1h0M403.4 328.7h0M406.6 317.6h0M392.7 348.6h0M333.2 336.7h0M336.7 326.2h0M347.5 310.3h0M362.3 301.3h0M373.1 321.9h0M375.1 322.5h0M393.5 358.3h0M378.6 351.3h0M373.8 350.4h0M377.8 370.3h0M374.4 353.9h0M373.5 360.7h0M345.4 355.4h0M344.4 367.4h0M346.1 368.6h0M436.9 331.1h0M436.0 333.3h0M431.8 322.6h0M439.6 327.2h0M441.5 325.8h0M474.2 347.8h0M478.6 339.5h0M480.6 331.1h0M478.3 333.6h0M465.3 363.8h0M467.3 369.6h0M469.1 365.3h0M454.6 315.3h0M454.2 313.1h0M449.4 325.9h0M448.6 318.6h0M451.7 354.2h0M477.2 262.4h0M480.6 263.0h0M473.2 260.3h0M466.8 298.2h0M459.7 312.0h0M476.7 314.4h0M399.6 284.0h0M401.0 286.4h0M402.2 318.5h0M397.8 318.8h0M468.0 251.6h0M354.1 320.1h0M380.6 229.3h0M375.0 266.9h0M338.9 240.2h0M336.3 241.2h0M334.3 238.5h0M335.6 236.7h0M346.1 229.6h0M349.1 227.7h0M348.6 226.0h0M394.5 263.9h0M390.3 266.8h0M404.6 262.9h0M403.8 260.2h0M387.7 230.1h0M401.1 253.7h0M390.6 307.1h0M431.1 301.2h0M409.6 321.7h0M387.0 336.9h0M400.7 352.4h0M397.5 345.1h0M395.3 343.9h0M338.1 316.1h0M401.5 370.2h0M396.1 367.0h0M390.3 370.2h0M391.3 362.1h0M384.6 362.3h0M402.9 354.4h0M353.7 367.7h0M358.9 370.4h0M359.8 354.0h0M417.0 319.9h0M450.4 352.7h0M446.5 347.6h0M446.8 356.9h0M448.8 359.0h0M473.8 253.7h0M400.0 292.6h0M390.6 288.3h0M431.7 235.7h0M431.6 233.2h0M454.0 263.3h0M362.6 243.8h0M372.6 252.0h0M396.5 257.0h0M387.4 296.6h0M403.4 332.9h0M336.3 323.1h0M334.5 319.2h0M355.4 310.6h0M360.9 316.8h0M378.6 332.3h0M362.6 321.6h0M362.8 325.6h0M353.5 333.4h0M378.9 363.4h0M357.9 355.4h0M368.7 370.1h0M370.4 368.3h0M370.4 351.4h0M337.1 338.2h0M345.2 350.5h0M470.5 299.4h0M476.5 308.0h0M469.5 306.8h0M473.3 310.6h0M412.3 313.2h0M406.2 309.3h0M401.5 309.0h0M363.3 237.2h0M381.3 234.6h0M389.4 240.8h0M391.4 233.7h0M388.6 233.2h0M386.3 234.7h0M395.0 254.8h0M410.2 370.0h0M405.6 363.9h0M332.5 352.4h0M337.2 354.4h0M386.4 245.4h0M434.2 370.6h0M440.9 369.3h0M445.6 370.6h0M433.8 364.8h0M428.0 364.8h0M431.1 369.4h0M416.7 369.5h0M420.7 370.6h0M340.3 350.5h0M341.0 347.1h0M335.7 344.7h0M337.4 344.4h0M381.7 245.4h0M378.4 242.6h0"/>
<path stroke="#fff" stroke-opacity="0.85" stroke-width="1.0" d="M343.2 284.7h0M340.9 285.9h0M479.0 324.9h0M444.8 225.2h0M425.5 276.2h0M427.8 273.8h0M436.0 265.2h0M440.1 259.0h0M410.1 225.7h0M403.6 238.4h0M351.6 283.2h0M333.2 254.9h0M359.9 245.3h0M333.6 252.3h0M413.0 275.5h0M333.1 317.7h0M451.5 369.2h0M478.6 358.9h0M336.3 368.7h0M341.7 369.0h0M464.8 335.1h0M459.9 336.6h0M450.1 344.1h0M444.7 327.4h0M448.2 336.5h0M452.9 335.7h0M445.8 333.6h0M456.7 323.3h0M444.3 289.8h0M453.1 277.6h0M459.0 276.0h0M464.2 239.8h0M446.3 277.9h0M420.8 248.8h0M420.6 265.4h0M441.1 251.5h0M439.7 253.8h0M441.6 257.0h0M464.0 242.8h0M442.4 239.7h0M362.1 280.1h0M348.2 289.9h0M357.1 270.2h0M347.5 267.5h0M364.2 224.3h0M373.5 271.1h0M360.5 293.5h0M375.2 273.2h0M333.5 328.8h0M336.8 364.6h0M334.1 358.7h0M334.7 366.5h0M362.1 344.8h0M429.1 339.0h0M461.3 338.6h0M465.3 284.7h0M465.2 289.1h0M457.5 289.8h0M461.3 294.4h0M454.7 267.7h0M457.1 266.7h0M453.6 293.7h0M454.8 290.7h0M451.8 231.6h0M446.3 229.1h0M428.3 226.0h0M437.5 226.8h0M441.8 229.5h0M460.1 281.2h0M416.6 278.5h0M400.1 280.8h0M411.3 273.0h0M411.4 269.9h0M476.8 224.5h0M442.3 287.4h0M415.5 249.6h0M415.9 260.1h0M421.4 262.9h0M427.6 269.9h0M424.1 249.7h0M463.6 233.7h0M466.3 235.1h0M467.6 226.8h0M439.3 248.8h0M336.2 283.7h0M379.1 306.1h0M354.3 288.2h0M357.8 289.7h0M359.7 271.8h0M365.2 275.1h0M359.1 275.6h0M362.9 269.5h0M358.3 236.3h0M345.8 263.3h0M349.0 258.9h0M343.3 223.4h0M361.1 226.1h0M348.5 238.4h0M345.0 237.9h0M381.3 274.1h0M386.9 291.7h0M383.9 284.7h0M375.0 284.9h0M367.5 276.6h0M374.1 280.0h0M397.3 323.8h0M420.7 307.7h0M417.3 336.5h0M414.4 335.4h0M413.0 332.0h0M334.7 332.0h0M340.4 331.0h0M367.1 301.5h0M428.5 342.0h0M378.6 355.8h0M361.3 334.4h0M344.4 357.6h0M468.7 347.0h0M461.3 344.2h0M465.4 343.6h0M470.2 360.7h0M460.8 360.5h0M473.2 350.7h0M450.0 261.0h0M475.0 296.5h0M479.5 301.2h0M477.4 299.6h0M465.0 308.9h0M432.1 293.6h0M454.0 232.4h0M456.4 237.2h0M453.7 235.6h0M423.7 223.3h0M409.5 298.5h0M412.9 297.5h0M422.6 297.4h0M422.8 290.9h0M412.1 316.4h0M414.3 264.7h0M414.2 267.5h0M404.4 272.1h0M408.4 269.4h0M474.2 241.8h0M435.2 278.0h0M420.3 246.3h0M421.2 226.5h0M424.3 260.3h0M459.0 224.6h0M461.0 229.5h0M456.7 229.7h0M461.5 249.6h0M432.5 247.0h0M434.9 251.4h0M430.0 251.6h0M405.3 245.5h0M407.2 246.8h0M350.6 295.2h0M355.4 296.6h0M355.2 294.4h0M363.4 302.9h0M348.9 313.9h0M343.3 252.5h0M341.9 256.7h0M343.9 258.3h0M346.0 257.3h0M371.4 223.6h0M350.9 264.4h0M333.5 228.4h0M352.5 227.9h0M351.8 223.8h0M346.9 232.4h0M340.4 234.7h0M339.1 232.3h0M388.0 271.6h0M403.5 253.3h0M381.5 278.6h0M383.4 303.5h0M396.4 307.5h0M370.7 297.1h0M378.6 289.9h0M389.5 336.1h0M386.3 327.1h0M389.3 327.9h0M382.8 324.3h0M404.0 319.7h0M403.5 322.9h0M404.2 345.6h0M394.3 349.8h0M391.2 339.2h0M333.2 333.9h0M344.8 325.7h0M343.1 328.0h0M343.9 322.2h0M348.1 307.9h0M371.4 309.6h0M392.4 354.6h0M394.3 353.3h0M398.3 357.0h0M395.7 364.3h0M384.2 359.9h0M364.9 340.9h0M362.6 340.0h0M348.1 354.9h0M349.1 367.3h0M431.5 328.7h0M430.3 331.3h0M429.8 324.9h0M420.5 330.7h0M422.4 329.6h0M478.9 345.2h0M472.5 346.1h0M476.6 335.3h0M464.6 369.8h0M447.4 325.1h0M453.0 321.4h0M475.1 257.7h0M459.5 307.3h0M479.3 311.7h0M472.6 319.4h0M472.4 323.9h0M470.8 321.9h0M446.1 293.9h0M450.4 297.1h0M443.5 298.6h0M446.3 297.1h0M465.6 248.8h0M420.1 242.1h0M358.6 306.2h0M351.8 319.2h0M352.7 309.5h0M352.7 313.4h0M392.3 231.2h0M378.0 232.8h0M374.9 233.8h0M366.3 226.1h0M371.9 228.5h0M369.2 233.3h0M343.7 228.3h0M344.7 226.0h0M397.8 261.3h0M399.3 265.5h0M382.8 253.9h0M399.6 251.1h0M384.8 305.6h0M386.6 310.5h0M390.3 309.6h0M374.4 290.3h0M371.6 294.7h0M393.7 330.8h0M395.2 328.2h0M406.8 327.4h0M400.5 350.0h0M386.9 353.6h0M384.7 348.6h0M340.1 315.7h0M362.6 316.6h0M393.5 364.1h0M388.1 363.1h0M418.2 345.0h0M410.0 339.1h0M412.9 342.6h0M374.2 347.6h0M353.1 365.2h0M355.8 368.5h0M365.2 333.8h0M423.9 323.3h0M421.5 326.3h0M423.2 320.5h0M447.1 312.9h0M446.6 315.9h0M436.7 307.9h0M454.8 306.3h0M451.5 306.1h0M444.7 358.5h0M476.4 250.3h0M467.0 303.2h0M445.7 302.5h0M443.5 301.0h0M402.6 291.4h0M398.9 287.6h0M394.5 293.0h0M391.7 292.0h0M408.7 306.1h0M454.9 258.7h0M452.9 261.3h0M371.9 261.9h0M389.0 248.4h0M372.9 249.7h0M434.1 295.5h0M396.6 332.6h0M338.6 321.0h0M364.1 319.6h0M357.5 309.8h0M359.5 319.3h0M373.2 333.9h0M381.9 331.7h0M381.7 326.5h0M377.3 330.5h0M360.0 321.6h0M352.2 325.4h0M351.9 328.5h0M405.3 361.8h0M372.3 367.2h0M378.2 367.3h0M363.1 368.7h0M361.3 366.4h0M366.1 368.6h0M346.8 349.9h0M342.3 353.4h0M413.1 323.6h0M430.8 311.3h0M467.8 349.8h0M469.3 302.3h0M404.2 293.4h0M404.8 297.5h0M403.0 295.6h0M410.7 311.7h0M406.0 315.0h0M422.6 235.9h0M377.4 261.7h0M393.1 235.8h0M386.7 238.1h0M419.7 347.2h0M413.4 369.0h0M341.4 339.9h0M344.4 342.2h0M366.9 243.7h0M365.1 240.9h0M369.9 244.7h0M386.3 248.2h0M412.9 366.1h0M410.4 364.6h0M410.7 362.1h0M437.8 369.3h0M434.5 367.8h0M376.4 244.1h0M376.6 248.3h0M378.5 249.8h0M415.8 355.0h0M420.7 358.0h0"/>
<path stroke="#fff" stroke-opacity="0.85" stroke-width="1.4" d="M477.3 234.8h0M433.8 274.7h0M447.7 268.9h0M356.3 282.3h0M359.7 249.7h0M471.0 328.4h0M460.1 284.6h0M472.0 286.1h0M476.0 287.7h0M396.7 226.3h0M466.9 238.5h0M473.5 235.8h0M478.4 231.6h0M446.5 282.5h0M442.3 275.6h0M407.9 264.1h0M408.2 230.1h0M346.4 274.3h0M337.4 246.9h0M355.6 250.7h0M357.9 258.5h0M341.9 240.6h0M362.6 265.8h0M389.3 276.1h0M461.3 269.2h0M464.1 257.1h0M461.4 301.0h0M441.4 231.8h0M400.6 225.7h0M412.2 263.0h0M413.3 255.3h0M466.7 229.7h0M436.2 241.1h0M439.6 242.2h0M409.9 235.2h0M377.4 297.9h0M343.0 292.1h0M342.6 295.6h0M346.0 297.1h0M362.0 277.3h0M349.9 276.2h0M353.3 274.8h0M354.8 280.2h0M349.0 252.9h0M349.4 249.3h0M365.6 263.0h0M348.8 262.4h0M356.9 263.1h0M356.6 224.3h0M352.9 231.3h0M350.4 233.2h0M394.6 325.7h0M391.5 325.3h0M416.7 315.3h0M423.5 309.9h0M368.9 307.8h0M380.1 352.8h0M360.4 341.9h0M349.1 357.1h0M353.0 344.7h0M435.7 338.6h0M449.2 367.4h0M478.5 349.9h0M470.4 339.5h0M458.9 357.0h0M475.7 352.2h0M428.5 294.1h0M391.5 316.9h0M432.4 284.2h0M459.2 231.0h0M448.4 249.5h0M416.6 230.6h0M352.1 293.5h0M346.0 243.3h0M358.7 232.0h0M362.8 234.7h0M340.3 328.1h0M345.0 304.2h0M359.1 298.3h0M359.6 301.6h0M374.3 315.8h0M407.8 348.8h0M462.3 368.5h0M469.6 367.8h0M450.0 311.8h0M451.4 318.5h0M448.1 298.4h0M403.5 288.0h0M466.6 245.1h0M428.5 242.2h0M453.6 255.8h0M460.6 256.1h0M369.8 226.0h0M368.7 256.7h0M397.3 263.7h0M396.8 297.4h0M383.0 315.8h0M379.5 314.6h0M409.5 328.7h0M380.5 340.6h0M389.2 352.5h0M403.4 338.3h0M340.4 304.3h0M347.8 326.4h0M388.7 365.8h0M377.1 343.2h0M377.2 346.5h0M344.5 353.5h0M441.1 317.0h0M438.7 354.6h0M440.2 350.7h0M428.1 237.7h0M372.0 258.8h0M377.9 253.0h0M389.0 257.5h0M402.0 330.8h0M364.0 323.3h0M360.3 329.2h0M353.0 357.1h0M377.4 364.5h0M368.0 366.8h0M334.7 338.7h0M441.8 310.8h0M442.0 305.5h0M429.9 360.8h0M433.7 359.4h0M463.8 351.1h0M411.6 308.4h0M377.5 258.8h0M422.5 347.0h0M425.6 363.8h0M334.1 356.0h0M369.5 236.9h0M372.8 242.2h0M420.0 366.8h0M426.9 354.8h0M424.8 360.9h0M424.5 353.4h0"/>
<path stroke="#fff" stroke-opacity="0.85" stroke-width="1.6" d="M441.4 265.7h0M435.8 270.0h0M461.3 235.6h0M464.7 273.8h0M452.7 287.2h0M397.4 275.0h0M366.8 281.2h0M343.9 332.8h0M466.3 361.2h0M436.3 343.0h0M466.5 266.6h0M474.0 262.5h0M445.1 246.6h0M409.3 318.6h0M391.1 359.6h0M469.5 297.5h0M378.0 230.1h0M393.4 266.6h0M389.5 349.8h0M388.1 347.7h0M450.7 357.7h0M357.0 333.0h0M416.2 323.0h0M469.8 309.4h0M414.7 307.0h0M403.2 307.6h0M392.1 239.2h0M418.4 359.4h0M384.2 243.8h0M416.1 358.1h0M430.1 363.5h0M342.0 349.0h0M427.0 359.2h0"/>
</g>
<rect x="330.4" y="220.2" width="152" height="151.5" fill="none" stroke="#9a9a9a" stroke-width="0.6"/>
<clipPath id="pe3"><rect x="489.2" y="220.2" width="152" height="151.5"/></clipPath>
<g clip-path="url(#pe3)" stroke-linecap="round" fill="none"><rect x="489.2" y="220.2" width="152" height="151.5" fill="#4356c4"/>
<path stroke="#445acc" stroke-width="9.2" d="M560.8 297.8h0M533.7 339.6h0"/>
<path stroke="#3f53c6" stroke-width="9.2" d="M551.3 348.8h0"/>
<path stroke="#3b4cc0" stroke-width="9.2" d="M551.2 223.0h0M638.4 275.2h0M591.0 303.5h0M558.1 312.7h0"/>
<path stroke="#3b4cc0" stroke-width="8.8" d="M522.5 247.8h0M526.3 337.1h0M497.2 349.0h0M623.0 315.6h0M624.3 274.6h0M491.9 280.1h0M537.7 347.0h0M520.3 343.1h0M508.9 354.6h0M522.1 330.1h0M525.3 277.8h0M545.4 345.6h0M619.9 289.8h0M501.2 229.9h0M617.5 263.4h0M522.7 323.0h0M554.0 328.3h0"/>
<path stroke="#445acc" stroke-width="8.8" d="M535.2 324.6h0M544.4 362.0h0M562.3 340.0h0M571.2 357.0h0M603.6 353.2h0M596.5 355.1h0M537.2 332.2h0M603.2 339.6h0"/>
<path stroke="#4961d2" stroke-width="8.8" d="M628.6 247.2h0"/>
<path stroke="#3f53c6" stroke-width="8.8" d="M622.7 282.2h0M616.8 276.9h0M570.9 229.5h0M584.2 358.4h0M515.7 259.0h0M514.4 332.3h0M501.4 268.5h0M619.9 358.9h0M527.7 353.6h0M569.2 255.4h0M507.9 277.3h0M540.2 261.9h0M552.7 286.7h0M595.8 337.2h0M636.0 243.8h0M638.5 257.2h0M492.0 355.0h0"/>
<path stroke="#3f53c6" stroke-width="8.4" d="M579.9 327.2h0M511.7 222.9h0M638.6 309.1h0M595.3 329.3h0M529.6 247.9h0M585.8 275.8h0M543.1 369.5h0M610.2 365.6h0M623.9 297.0h0M538.3 227.6h0M573.5 285.0h0M549.6 318.5h0M613.9 354.3h0M524.7 315.4h0M595.3 369.5h0M595.9 362.8h0"/>
<path stroke="#4961d2" stroke-width="8.4" d="M536.0 282.7h0M548.5 355.9h0M491.9 328.2h0"/>
<path stroke="#3b4cc0" stroke-width="8.4" d="M520.0 282.7h0M573.0 311.9h0M618.4 255.2h0M516.6 270.6h0M566.1 267.1h0M549.7 334.6h0M581.3 222.8h0M544.0 222.8h0M554.2 369.6h0M569.1 349.3h0M592.1 279.5h0M574.7 271.8h0M517.3 227.6h0M579.6 287.9h0M601.7 319.1h0"/>
<path stroke="#445acc" stroke-width="8.4" d="M621.1 248.1h0M520.1 264.8h0M583.5 303.3h0M608.3 359.3h0M631.0 257.1h0M507.1 233.8h0M591.6 323.7h0M501.5 256.2h0"/>
<path stroke="#3b4cc0" stroke-width="8.0" d="M495.9 235.1h0M491.7 338.1h0M628.8 345.0h0M616.7 312.1h0M583.8 341.7h0M577.8 333.8h0M542.5 327.2h0M627.3 228.0h0M505.0 240.8h0M527.9 344.1h0M491.7 313.7h0M604.0 281.8h0M535.3 353.4h0M520.5 353.0h0"/>
<path stroke="#445acc" stroke-width="8.0" d="M624.0 260.2h0M603.9 227.8h0M559.5 231.2h0M620.2 235.9h0M541.2 250.7h0M599.6 254.5h0M532.6 263.0h0M507.4 330.5h0M502.2 325.3h0M497.7 317.3h0M563.8 323.2h0M596.9 226.8h0"/>
<path stroke="#3f53c6" stroke-width="8.0" d="M551.4 308.2h0M615.6 283.9h0M502.4 336.5h0M564.6 273.6h0M541.6 294.9h0M533.2 222.7h0M498.5 282.1h0M609.2 321.3h0M579.7 352.5h0M501.9 360.1h0M571.1 295.9h0M568.1 306.5h0M573.7 339.8h0M590.3 244.2h0M560.2 286.8h0"/>
<path stroke="#4e68d8" stroke-width="8.0" d="M525.3 369.6h0"/>
<path stroke="#3b4cc0" stroke-width="7.6" d="M561.4 280.2h0M552.1 297.1h0M529.7 320.7h0M593.0 349.7h0M521.8 289.6h0M577.7 295.0h0M629.8 239.9h0M494.6 242.0h0M556.3 337.1h0M586.1 351.4h0M570.8 333.4h0M537.6 360.1h0M553.8 271.4h0M551.2 244.9h0M636.9 330.4h0M638.8 364.0h0M496.6 333.6h0M555.3 239.4h0M512.8 281.9h0M592.9 296.2h0M564.9 365.8h0M638.8 267.8h0"/>
<path stroke="#3f53c6" stroke-width="7.6" d="M516.5 320.8h0M625.2 253.1h0M606.0 264.6h0M491.6 272.8h0M522.8 222.6h0M601.8 297.7h0M631.5 233.4h0M615.4 323.3h0M525.9 304.7h0M630.4 328.6h0M521.3 364.3h0M508.9 310.4h0M601.0 271.5h0M546.2 300.3h0M547.7 275.6h0M501.3 249.6h0M634.9 251.2h0M577.3 300.9h0"/>
<path stroke="#445acc" stroke-width="7.6" d="M601.8 332.6h0M615.6 344.0h0M622.1 322.6h0M595.2 317.6h0M590.1 313.6h0M536.9 269.0h0M564.3 226.8h0"/>
<path stroke="#3b4cc0" stroke-width="7.2" d="M588.0 337.0h0M537.3 275.5h0M509.0 336.6h0M616.5 365.2h0M638.9 350.9h0M540.5 288.0h0M566.5 284.4h0M491.4 364.9h0M534.9 297.3h0M497.9 274.6h0M574.3 237.2h0M560.8 262.6h0M526.2 360.5h0M620.9 369.9h0M582.3 320.4h0M559.9 350.5h0M558.7 364.4h0"/>
<path stroke="#3f53c6" stroke-width="7.2" d="M590.7 250.6h0M547.4 239.7h0M524.3 295.4h0M639.0 292.5h0M491.5 320.2h0M569.0 327.7h0M555.4 354.9h0M514.6 233.8h0M579.7 240.9h0M508.0 257.8h0M606.0 346.7h0M615.1 244.4h0M586.0 227.0h0M610.6 279.3h0M514.7 339.4h0M496.0 264.0h0M607.0 329.0h0M560.0 358.3h0M622.4 343.1h0M512.0 253.0h0M609.7 247.5h0M535.9 239.6h0M509.8 320.4h0M610.0 241.5h0"/>
<path stroke="#445acc" stroke-width="7.2" d="M629.4 263.4h0M495.7 252.8h0M502.3 354.0h0M598.7 348.8h0M539.3 234.1h0M547.9 269.0h0M551.2 341.6h0M619.1 328.6h0M613.4 331.2h0M501.5 291.8h0M600.9 244.0h0"/>
<path stroke="#4961d2" stroke-width="7.2" d="M581.3 231.3h0M510.1 288.2h0M584.0 314.8h0M508.8 304.0h0"/>
<path stroke="#445acc" stroke-width="6.8" d="M609.0 310.9h0M587.1 297.5h0M495.6 360.8h0M613.2 302.5h0M616.1 227.2h0M630.7 355.9h0M564.6 354.3h0M630.3 222.4h0M632.0 308.4h0M579.8 363.6h0M506.9 293.8h0M551.2 259.5h0M565.0 333.9h0M539.8 301.4h0M512.0 348.5h0M571.4 245.9h0M512.7 326.0h0M513.4 315.2h0M568.7 236.2h0M588.4 329.2h0M500.5 342.8h0"/>
<path stroke="#3b4cc0" stroke-width="6.8" d="M639.1 226.6h0M639.1 343.4h0M606.9 222.4h0M610.0 341.1h0M631.7 338.5h0M526.5 262.1h0M568.4 343.3h0M524.0 228.9h0M534.6 365.1h0M504.8 262.6h0M611.2 273.7h0M542.1 271.5h0M514.2 306.7h0M611.9 267.5h0M633.3 227.1h0M548.1 281.8h0"/>
<path stroke="#3f53c6" stroke-width="6.8" d="M612.7 235.5h0M518.4 370.1h0M531.2 370.1h0M589.8 364.6h0M545.2 245.3h0M613.1 222.3h0M624.5 222.3h0M528.1 232.9h0M600.7 261.2h0M634.6 288.0h0M597.4 233.3h0M515.8 245.2h0M566.0 244.8h0M629.7 284.4h0M530.6 253.9h0M595.5 240.0h0M520.8 254.5h0M588.4 345.1h0M499.8 306.4h0M534.3 311.6h0M544.8 338.6h0"/>
<path stroke="#4961d2" stroke-width="6.8" d="M608.5 335.0h0M585.2 252.5h0M548.3 250.4h0"/>
<path stroke="#3b4cc0" stroke-width="6.4" d="M559.3 332.2h0M503.6 286.0h0M520.1 307.1h0M586.8 264.9h0M494.8 297.9h0M619.8 352.3h0M572.5 265.7h0M512.9 370.2h0M639.2 370.2h0M537.2 370.2h0M583.7 293.3h0M622.4 308.6h0M583.9 269.7h0M626.4 268.9h0M639.2 324.7h0M561.0 370.2h0M539.2 244.4h0M600.6 238.3h0M570.3 321.6h0M511.5 360.8h0M601.9 359.8h0M620.2 269.4h0"/>
<path stroke="#3f53c6" stroke-width="6.4" d="M510.4 262.9h0M505.2 299.0h0M542.5 306.4h0M630.6 298.7h0M563.9 291.9h0M575.8 257.0h0M577.3 358.3h0M577.4 246.3h0M634.1 313.8h0M569.2 289.6h0M606.0 275.5h0M500.1 297.2h0M510.0 365.5h0M546.6 263.4h0M519.6 336.7h0M577.8 344.1h0M547.0 228.1h0M608.7 298.7h0M603.6 313.1h0M633.1 365.0h0M525.8 284.8h0M528.9 310.4h0M502.7 311.5h0M496.4 323.7h0M527.5 290.8h0M604.9 302.4h0M511.2 229.2h0M502.3 223.3h0M560.0 269.3h0M597.3 300.9h0"/>
<path stroke="#445acc" stroke-width="6.4" d="M618.6 222.2h0M588.8 237.9h0M543.3 316.3h0M634.2 280.4h0M501.7 370.2h0M632.9 268.4h0M576.7 227.4h0M592.3 222.2h0M491.2 267.0h0M590.5 358.9h0M526.1 268.1h0"/>
<path stroke="#4961d2" stroke-width="6.4" d="M552.1 265.5h0M491.2 348.5h0"/>
<path stroke="#445acc" stroke-width="6.0" d="M609.9 226.9h0M495.5 258.5h0M622.7 303.2h0M629.0 278.6h0M613.9 336.9h0M494.7 224.7h0M635.3 263.0h0M587.3 232.9h0M496.0 370.3h0M601.3 222.1h0"/>
<path stroke="#3f53c6" stroke-width="6.0" d="M630.1 272.8h0M606.7 270.3h0M593.5 255.6h0M531.2 286.5h0M573.7 306.0h0M503.7 316.2h0M530.7 241.3h0M539.5 319.9h0M491.0 261.4h0M614.9 250.4h0M604.5 307.9h0M603.0 233.7h0M575.2 277.9h0M567.1 300.5h0M491.1 294.4h0M515.9 239.8h0M565.6 359.7h0M614.1 297.3h0M506.1 341.7h0M515.6 297.6h0M537.1 306.4h0M491.1 303.3h0M541.8 239.5h0M617.7 305.9h0M507.1 370.3h0M627.7 310.7h0M560.4 257.0h0M627.9 334.0h0M588.8 370.3h0M515.3 356.7h0M639.4 238.8h0M609.4 285.2h0M579.1 281.8h0M574.0 362.4h0"/>
<path stroke="#3b4cc0" stroke-width="6.0" d="M554.6 360.2h0M548.3 324.7h0M600.4 366.2h0M613.1 258.1h0M542.3 356.1h0M576.8 251.8h0M599.0 285.2h0M633.9 370.3h0M532.1 228.9h0M563.2 315.8h0M498.5 365.5h0M516.7 361.5h0M519.2 276.8h0M551.7 230.3h0M625.2 354.0h0M607.5 289.8h0M624.2 348.6h0M504.7 365.8h0"/>
<path stroke="#4961d2" stroke-width="6.0" d="M506.6 246.8h0M618.2 300.5h0M533.4 234.3h0"/>
<path stroke="#3f53c6" stroke-width="5.6" d="M639.4 314.9h0M596.4 249.7h0M496.1 303.0h0M497.2 287.7h0M583.0 309.0h0M578.7 311.7h0M513.9 276.4h0M560.9 240.8h0M538.6 315.1h0M612.6 289.2h0M497.4 311.6h0M521.0 359.0h0M525.6 256.8h0M607.1 236.2h0M618.5 338.9h0M587.5 318.7h0M544.0 321.7h0M575.1 221.9h0M551.2 303.0h0M564.0 311.2h0M582.1 347.6h0M627.5 320.1h0M625.3 367.2h0M634.6 359.9h0M623.6 331.6h0M506.4 252.0h0M512.6 293.6h0M558.9 274.4h0M571.2 366.8h0M605.0 368.9h0M622.6 336.5h0M588.9 284.8h0"/>
<path stroke="#445acc" stroke-width="5.6" d="M618.2 334.1h0M608.9 305.8h0M639.4 302.7h0M523.9 348.9h0M510.9 238.6h0M557.7 323.2h0M600.1 304.9h0M532.0 277.1h0M604.9 257.5h0M625.3 362.5h0M574.4 318.2h0M591.4 227.2h0M565.0 232.0h0M495.0 229.7h0M596.0 263.5h0M629.3 289.6h0M597.7 342.9h0M626.1 235.0h0M510.3 298.3h0M593.8 285.6h0M534.6 318.1h0M587.8 308.5h0M517.9 302.5h0M583.6 236.6h0"/>
<path stroke="#3b4cc0" stroke-width="5.6" d="M530.3 281.8h0M522.8 272.1h0M510.5 243.3h0M583.6 331.9h0M633.1 350.7h0M555.3 318.6h0M528.3 326.3h0M605.0 252.5h0M599.2 309.8h0M613.8 317.5h0M506.4 226.6h0M499.9 243.8h0M491.0 370.4h0M628.9 370.4h0M507.2 267.3h0M619.9 241.8h0M547.6 294.0h0M580.2 255.1h0M635.6 321.5h0M626.0 339.3h0M585.8 288.4h0M598.5 280.4h0M627.2 305.9h0M520.2 241.9h0M564.1 346.5h0M602.0 291.6h0M583.7 284.0h0M516.6 250.8h0M553.8 249.9h0M610.6 293.5h0M635.7 300.1h0M518.7 315.6h0M588.7 292.5h0M581.1 265.0h0M495.3 343.1h0M563.2 249.5h0"/>
<path stroke="#4961d2" stroke-width="5.6" d="M535.4 252.6h0M578.9 306.9h0"/>
<path stroke="#445acc" stroke-width="5.2" d="M558.4 248.9h0M517.2 221.8h0M578.7 316.6h0M604.2 324.6h0M611.1 262.9h0M532.0 306.3h0M569.5 362.2h0M552.7 254.4h0M557.1 253.2h0M559.9 327.1h0M530.8 301.6h0M494.9 307.3h0M624.4 243.3h0M548.7 255.6h0M530.9 268.7h0M604.9 363.9h0M618.6 318.5h0M539.9 310.6h0M594.2 290.8h0M586.3 247.6h0"/>
<path stroke="#3b4cc0" stroke-width="5.2" d="M567.2 279.1h0M571.6 301.5h0M603.2 287.3h0M511.3 248.2h0M501.7 235.8h0M639.6 287.2h0M592.2 231.7h0M532.4 292.3h0M621.4 226.7h0M612.5 231.0h0M515.2 366.0h0M555.9 301.6h0M516.3 291.3h0M556.7 342.5h0M510.8 343.2h0M639.6 358.3h0M520.2 233.0h0M568.0 370.5h0M576.6 262.3h0M580.1 259.6h0M515.3 287.1h0M554.4 234.3h0M531.0 333.8h0M501.4 331.0h0M582.8 336.5h0M490.9 221.9h0M529.8 296.0h0M547.8 329.4h0M625.6 287.5h0M519.4 294.8h0M539.7 337.5h0M516.7 311.3h0"/>
<path stroke="#3f53c6" stroke-width="5.2" d="M614.0 360.6h0M597.6 323.7h0M528.7 272.4h0M582.2 245.4h0M579.9 276.9h0M568.1 261.2h0M597.8 293.7h0M639.6 233.9h0M517.1 348.4h0M491.7 248.9h0M570.3 275.7h0M631.9 318.4h0M587.2 221.9h0M496.1 247.3h0M529.1 365.4h0M628.7 294.4h0M560.1 319.0h0M561.0 307.3h0M635.4 347.2h0M591.3 273.6h0M506.5 349.7h0M566.6 221.8h0M606.3 294.1h0M522.1 300.5h0M597.1 275.6h0M592.4 260.1h0M589.0 255.7h0M573.1 345.4h0M490.8 230.4h0M537.1 292.5h0M618.2 295.5h0M569.6 241.1h0M547.7 233.2h0M561.7 221.9h0M585.8 324.8h0M636.1 355.4h0M634.1 342.7h0M600.9 326.9h0M629.9 360.9h0M587.7 260.2h0M631.1 323.2h0M507.7 283.3h0M543.0 283.3h0M639.6 319.8h0"/>
<path stroke="#4961d2" stroke-width="5.2" d="M585.0 241.7h0M574.2 325.2h0M572.2 260.8h0"/>
<path stroke="#3b4cc0" stroke-width="4.8" d="M563.4 236.3h0M584.4 370.7h0M621.8 364.7h0M511.1 272.2h0M574.0 290.7h0M504.9 320.7h0M511.8 268.1h0M534.5 244.2h0M632.8 333.5h0M545.9 286.6h0M490.7 308.0h0M520.1 237.4h0M632.9 293.0h0M531.4 361.6h0M531.6 349.2h0M595.9 245.2h0M499.5 239.6h0M615.8 271.1h0M624.5 238.9h0M580.1 370.7h0M628.4 350.5h0M580.9 249.5h0M576.2 232.2h0M523.8 239.4h0M574.4 351.8h0M567.5 313.9h0M600.7 249.3h0M570.8 279.9h0M528.2 225.9h0M592.8 268.3h0M556.9 306.6h0M490.7 343.7h0M639.7 280.8h0M528.0 330.9h0"/>
<path stroke="#445acc" stroke-width="4.8" d="M504.9 307.1h0M637.3 284.1h0M577.1 321.7h0M639.7 297.8h0M555.3 227.4h0M560.9 245.4h0M563.9 328.8h0M563.2 303.7h0M495.3 269.5h0M556.9 244.9h0M565.4 239.9h0M523.8 235.3h0M557.3 221.7h0M545.2 258.5h0M563.7 254.0h0M530.8 315.3h0M527.7 237.9h0M591.4 333.0h0M589.1 269.9h0M555.5 257.6h0M595.4 271.7h0M629.4 315.2h0M604.7 247.9h0M567.9 249.5h0M584.2 257.6h0"/>
<path stroke="#3f53c6" stroke-width="4.8" d="M639.7 221.7h0M504.1 281.4h0M556.8 282.1h0M564.4 258.8h0M584.6 364.3h0M556.4 278.1h0M490.7 289.7h0M616.0 239.8h0M595.5 312.4h0M591.3 341.1h0M634.8 237.8h0M552.1 364.6h0M491.1 256.8h0M623.0 265.4h0M601.2 277.0h0M568.1 337.9h0M549.1 370.7h0M497.8 328.3h0M535.1 288.2h0M540.5 341.5h0M636.2 339.5h0M497.8 221.7h0M597.1 267.9h0M544.6 351.4h0M636.7 231.1h0M575.7 366.9h0M548.5 366.5h0M576.2 370.7h0M526.1 242.9h0M567.0 318.6h0M635.0 304.2h0M627.3 324.7h0M613.1 307.8h0M551.7 314.0h0M608.1 231.6h0M559.2 225.5h0"/>
<path stroke="#4961d2" stroke-width="4.8" d="M555.8 261.8h0M591.4 264.5h0M513.2 301.9h0"/>
<path stroke="#3b4cc0" stroke-width="4.4" d="M490.6 234.6h0M609.3 351.0h0M579.8 269.1h0M503.5 303.6h0M559.8 345.2h0M490.6 252.9h0M604.8 240.3h0M598.2 289.8h0M596.1 306.6h0M639.9 251.8h0M529.8 258.8h0M609.0 256.2h0M507.2 361.9h0M527.4 299.7h0M504.1 345.8h0M608.2 259.8h0M570.1 316.9h0M544.6 290.5h0M494.3 291.1h0M593.1 236.0h0M490.6 238.3h0M610.3 315.8h0M545.0 331.9h0M543.3 266.8h0M590.9 354.3h0M548.4 289.8h0M625.5 291.8h0M520.8 311.8h0M497.3 339.0h0M615.8 370.8h0M534.1 257.6h0M531.8 357.9h0M580.4 272.8h0M628.5 365.0h0M576.9 266.3h0M627.0 301.3h0M502.9 273.8h0M538.3 221.6h0M536.1 248.1h0M551.5 292.0h0M615.1 292.7h0M639.9 334.4h0M631.0 303.5h0M612.5 349.1h0M599.0 314.3h0M636.2 335.4h0M556.4 294.8h0M531.6 329.3h0"/>
<path stroke="#445acc" stroke-width="4.4" d="M574.5 329.3h0M572.4 250.5h0M507.8 345.5h0M596.8 221.5h0M522.0 259.2h0M552.6 276.7h0M616.2 232.2h0M570.8 221.6h0M612.8 254.0h0M623.2 231.7h0M559.4 292.2h0M544.7 254.3h0M639.8 338.2h0M632.9 276.4h0M593.0 309.0h0M547.2 305.3h0M600.8 370.8h0M535.0 302.6h0M549.9 361.0h0M626.5 358.0h0M619.8 230.5h0M543.7 311.9h0M556.9 265.7h0M543.0 230.9h0M606.3 316.4h0M608.5 370.8h0M544.1 235.6h0"/>
<path stroke="#3f53c6" stroke-width="4.4" d="M514.9 352.0h0M508.2 315.8h0M544.2 279.3h0M559.5 236.8h0M526.0 252.3h0M596.3 259.3h0M546.6 309.1h0M502.0 277.6h0M490.6 285.6h0M514.8 265.2h0M496.9 294.0h0M499.9 261.7h0M601.8 344.7h0M490.5 298.8h0M619.6 347.6h0M569.4 271.4h0M587.0 280.8h0M639.9 262.9h0M572.2 370.8h0M605.9 244.2h0M553.1 322.6h0M609.4 252.4h0M555.4 291.0h0M611.4 326.1h0M490.5 245.2h0M611.0 345.6h0M635.7 221.6h0M542.1 334.7h0M593.6 344.3h0M639.9 248.0h0M582.1 297.7h0M537.9 256.2h0M540.5 351.9h0M550.9 235.9h0M574.7 242.1h0M635.2 295.7h0M590.6 288.4h0M527.7 221.6h0M576.2 348.5h0M547.6 313.1h0M506.3 271.4h0M490.5 226.3h0M542.4 276.4h0M600.7 266.1h0M583.9 261.4h0M523.9 309.9h0M556.7 346.4h0M540.8 279.5h0M497.8 356.3h0M616.3 349.3h0M532.6 345.2h0"/>
<path stroke="#4961d2" stroke-width="4.4" d="M532.9 272.8h0"/>
<path stroke="#3f53c6" stroke-width="4.0" d="M579.3 235.7h0M578.9 339.2h0M634.6 325.5h0M494.3 285.0h0M552.9 280.5h0M582.3 367.3h0M541.8 256.3h0M500.2 301.9h0M559.3 303.7h0M624.5 327.6h0M507.9 324.9h0"/>
<path stroke="#3b4cc0" stroke-width="4.0" d="M506.2 221.5h0M539.4 365.3h0M612.4 370.9h0M502.7 348.9h0"/>
<path stroke="#445acc" stroke-width="4.0" d="M514.8 344.5h0"/>
<path stroke="#fff" stroke-opacity="0.85" stroke-width="1.2" d="M637.0 234.3h0M495.8 313.9h0M493.5 317.2h0M494.2 267.2h0M492.6 264.1h0M505.3 273.6h0M504.0 279.0h0M503.6 276.0h0M636.4 228.6h0M634.3 230.5h0M630.8 229.4h0M494.4 249.3h0M492.2 251.5h0M502.8 308.2h0M495.8 357.4h0M503.9 271.8h0M501.3 275.5h0M509.3 281.3h0M506.7 289.3h0M513.0 285.9h0M559.2 343.1h0M635.9 352.6h0M636.8 357.8h0M634.0 357.0h0M529.8 279.1h0M511.4 274.9h0M511.9 278.4h0M494.1 261.1h0M496.7 305.5h0M497.2 308.5h0M496.2 354.0h0M514.8 346.8h0M492.6 342.1h0M536.3 300.8h0M495.9 326.8h0M495.9 329.8h0M505.6 323.5h0M547.6 368.8h0M492.1 291.5h0M502.0 280.0h0M495.0 271.9h0M494.0 275.6h0M510.7 306.9h0M571.7 291.7h0M589.4 295.2h0M565.7 337.1h0M555.2 321.5h0M610.4 369.8h0M606.2 366.1h0M602.0 368.8h0M637.6 279.4h0M635.1 291.4h0M637.9 289.0h0M635.3 362.8h0M629.9 366.7h0M630.2 363.6h0M632.4 361.8h0M624.6 359.8h0M627.3 360.3h0M617.4 369.0h0M620.1 366.3h0M619.8 363.4h0M633.5 223.3h0M627.4 224.1h0M530.5 289.9h0M533.1 270.5h0M498.8 259.3h0M497.2 256.0h0M492.4 258.7h0M491.8 224.5h0M529.2 362.7h0M498.2 358.6h0M498.5 362.4h0M500.2 356.6h0M515.4 368.6h0M517.9 366.8h0M545.7 306.9h0M539.8 304.9h0M500.1 328.6h0M498.8 330.6h0M531.4 366.7h0M537.4 366.6h0M537.5 363.9h0M541.5 365.5h0M546.1 366.1h0M544.7 357.7h0M538.8 356.6h0M538.5 351.2h0M498.7 368.6h0M505.1 362.7h0M504.5 368.7h0M500.6 288.3h0M527.5 281.8h0M522.8 285.8h0M529.2 284.2h0M525.2 288.3h0M566.1 316.2h0M565.7 303.3h0M570.4 337.1h0M571.9 330.0h0M567.9 335.4h0M586.6 294.3h0M583.9 299.0h0M584.0 296.3h0M562.8 331.3h0M557.8 320.2h0M557.9 317.4h0M546.6 327.2h0M548.5 338.4h0M568.3 368.0h0M557.6 360.9h0M591.8 362.0h0M631.1 287.5h0M634.8 255.0h0M637.6 247.9h0M585.3 347.8h0M604.8 361.4h0M630.6 352.1h0M551.3 248.6h0M567.3 270.9h0M537.0 286.7h0M534.8 293.7h0M534.8 290.9h0M539.1 241.1h0M533.1 267.2h0M540.8 266.2h0M544.2 268.7h0M539.7 223.5h0M508.4 347.7h0M518.9 356.6h0M516.4 353.7h0M512.9 367.2h0M510.0 368.7h0M507.2 367.2h0M507.2 364.1h0M527.5 294.2h0M506.3 326.4h0M503.3 329.2h0M551.9 362.0h0M505.4 302.4h0M518.9 292.1h0M521.6 293.4h0M573.1 275.5h0M570.9 273.0h0M567.7 276.5h0M572.4 288.9h0M565.8 248.2h0M569.1 264.2h0M565.3 263.2h0M553.2 312.0h0M555.7 308.5h0M561.1 304.8h0M561.4 309.9h0M558.7 308.2h0M561.0 302.5h0M564.7 277.9h0M590.2 298.7h0M558.0 340.2h0M555.0 340.7h0M550.7 322.3h0M510.1 316.9h0M509.9 314.2h0M513.4 342.9h0M512.7 345.0h0M516.0 342.8h0M516.7 345.6h0M520.4 347.4h0M539.8 308.0h0M545.1 324.2h0M546.9 321.9h0M547.4 352.0h0M568.9 364.7h0M574.8 343.5h0M571.8 343.2h0M580.1 360.2h0M599.4 369.0h0M591.0 368.2h0M603.8 260.7h0M624.0 225.7h0M638.2 264.1h0M635.4 266.3h0M638.1 261.7h0M634.9 259.6h0M612.3 358.5h0M615.5 358.4h0M628.1 353.1h0M626.2 351.0h0M624.6 356.9h0M614.6 305.7h0M611.7 305.6h0M613.0 320.4h0M512.6 265.6h0M509.9 266.3h0M507.5 264.4h0M507.8 261.2h0M513.6 263.0h0M554.4 246.6h0M542.0 242.9h0M547.8 243.3h0M548.2 246.9h0M497.0 244.7h0M497.4 249.5h0M499.4 252.7h0M549.7 271.9h0M557.0 268.3h0M563.2 270.0h0M562.0 266.4h0M533.7 274.9h0M535.2 272.6h0M540.4 284.6h0M535.2 260.1h0M545.5 266.4h0M547.4 260.3h0M543.6 264.6h0M544.5 260.9h0M521.4 235.3h0M513.7 354.1h0M498.4 336.8h0M499.5 339.5h0M497.5 341.3h0M495.3 340.2h0M495.7 337.3h0M531.7 355.6h0M533.0 359.8h0M508.2 300.2h0M512.8 296.5h0M525.7 273.6h0M575.4 288.4h0M576.6 291.2h0M578.2 278.8h0M576.1 281.3h0M577.5 284.6h0M540.0 257.4h0M542.7 258.2h0M557.5 255.9h0M557.4 263.5h0M553.3 262.2h0M593.2 262.7h0M575.0 267.4h0M581.6 257.5h0M565.4 234.9h0M551.5 282.3h0M560.8 272.5h0M557.8 271.9h0M565.3 281.0h0M548.2 303.3h0M550.0 300.4h0M558.4 301.8h0M577.3 340.8h0M579.7 341.3h0M586.4 332.5h0M591.1 319.7h0M595.3 321.9h0M595.3 325.3h0M576.7 324.3h0M573.0 327.5h0M573.8 302.8h0M588.5 289.6h0M586.1 291.3h0M583.5 290.0h0M595.3 293.3h0M606.1 305.5h0M554.9 324.1h0M549.5 327.5h0M558.2 329.1h0M550.0 330.6h0M562.4 326.9h0M560.2 321.5h0M516.4 317.0h0M516.5 313.9h0M510.1 333.3h0M527.5 297.3h0M561.2 347.0h0M565.1 343.7h0M567.0 362.3h0M563.6 357.6h0M573.7 365.4h0M576.3 364.5h0M576.9 361.4h0M574.4 359.5h0M575.6 346.3h0M618.3 281.1h0M614.1 280.1h0M619.3 285.3h0M625.8 303.3h0M630.4 292.5h0M615.9 258.7h0M608.2 267.7h0M621.4 224.0h0M632.4 237.2h0M633.6 240.0h0M599.7 275.2h0M593.7 275.8h0M586.6 283.0h0M586.2 285.7h0M635.9 344.5h0M600.8 356.4h0M604.4 357.7h0M604.8 335.6h0M600.4 336.3h0M618.0 354.9h0M621.9 354.7h0M610.9 337.6h0M626.1 322.6h0M624.6 319.6h0M534.4 249.6h0M547.2 225.1h0M560.7 227.4h0M557.8 227.6h0M503.5 252.4h0M514.4 248.3h0M522.6 237.4h0M525.0 237.5h0M553.9 278.5h0M541.0 274.8h0M528.7 256.9h0M540.8 231.0h0M544.2 237.9h0M515.0 303.4h0M513.0 299.4h0M515.4 300.8h0M581.4 274.9h0M582.7 272.6h0M590.0 275.9h0M586.6 271.3h0M538.3 247.6h0M537.1 250.2h0M545.1 248.7h0M546.1 256.0h0M547.0 253.7h0M555.1 255.1h0M554.5 252.6h0M556.5 250.7h0M572.7 258.2h0M566.8 258.9h0M565.1 256.2h0M579.1 267.0h0M579.0 271.1h0M577.6 268.6h0M583.8 266.5h0M586.9 268.3h0M573.8 262.7h0M574.7 260.2h0M577.6 259.8h0M579.2 262.2h0M567.0 241.6h0M566.4 229.7h0M569.3 223.4h0M554.3 282.4h0M556.7 284.6h0M567.1 296.1h0M636.9 297.7h0M634.1 298.0h0M628.5 303.4h0M576.8 330.0h0M580.9 331.1h0M574.3 331.6h0M581.3 338.8h0M580.0 337.1h0M598.0 320.6h0M598.6 316.4h0M604.9 322.2h0M603.0 329.2h0M598.4 326.3h0M599.7 329.2h0M587.8 322.3h0M588.1 326.0h0M571.5 318.6h0M600.3 294.0h0M591.5 283.8h0M595.1 282.1h0M601.2 307.5h0M601.0 315.0h0M600.3 312.5h0M602.3 310.2h0M581.7 311.6h0M509.2 326.6h0M511.5 329.3h0M524.8 298.9h0M531.5 298.4h0M533.5 301.0h0M528.9 317.0h0M583.3 354.0h0M572.2 352.5h0M582.2 369.5h0M613.3 270.9h0M614.6 273.3h0M625.8 278.5h0M613.4 294.3h0M615.4 287.8h0M613.0 291.9h0M610.3 290.8h0M617.2 293.1h0M624.3 289.8h0M626.3 293.9h0M627.6 292.0h0M612.1 299.4h0M613.3 261.3h0M610.5 260.3h0M608.7 262.0h0M600.5 235.1h0M612.9 225.5h0M616.0 223.9h0M618.9 225.4h0M603.9 223.8h0M607.1 225.7h0M610.0 224.0h0M628.8 236.0h0M595.1 269.3h0M597.4 270.2h0M599.4 268.0h0M602.1 264.2h0M607.0 350.3h0M591.9 346.0h0M616.8 351.4h0M624.9 345.8h0M627.1 348.6h0M632.9 347.9h0M618.9 341.7h0M615.5 308.3h0M618.7 321.1h0M616.1 319.5h0M616.4 316.5h0M637.8 333.9h0M532.0 244.1h0M534.1 246.6h0M559.3 223.1h0M564.2 223.1h0M561.4 224.6h0M563.1 246.6h0M560.8 247.8h0M557.6 234.6h0M511.0 235.8h0M511.6 256.5h0M520.2 257.8h0M522.8 257.2h0M519.4 244.5h0M521.4 239.5h0M526.1 245.6h0M523.1 243.7h0M528.6 243.5h0M548.8 230.7h0M545.7 230.9h0M568.3 247.1h0M569.0 243.7h0M546.3 289.0h0M545.5 284.2h0M548.3 285.1h0M548.5 296.8h0M546.8 291.2h0M544.9 292.7h0M557.0 292.7h0M637.4 304.8h0M632.7 305.0h0M634.6 310.5h0M630.1 305.6h0M579.4 322.7h0M583.1 324.1h0M572.2 316.2h0M569.7 314.7h0M569.1 311.4h0M597.8 312.3h0M596.8 314.3h0M593.9 314.2h0M593.2 311.3h0M598.2 307.0h0M595.3 304.1h0M605.6 310.5h0M608.5 317.2h0M590.5 310.0h0M546.0 311.3h0M550.0 312.3h0M539.2 323.4h0M531.8 317.7h0M536.6 320.4h0M537.6 317.7h0M537.9 312.4h0M523.2 307.7h0M517.0 308.7h0M517.5 305.3h0M525.6 311.4h0M525.9 308.7h0M607.9 273.0h0M604.8 272.4h0M602.6 275.1h0M603.4 277.7h0M620.8 266.2h0M620.4 273.2h0M623.6 270.6h0M629.6 267.1h0M609.9 288.1h0M612.2 286.4h0M616.5 303.0h0M615.3 300.0h0M619.6 303.2h0M621.4 300.6h0M619.7 297.6h0M605.3 231.4h0M607.6 229.1h0M621.7 252.2h0M619.3 228.4h0M599.7 345.2h0M598.7 340.4h0M619.3 345.4h0M621.8 346.8h0M633.8 323.6h0M636.5 326.5h0M634.1 327.6h0M632.4 325.4h0M619.0 308.6h0M624.2 305.8h0M557.9 242.1h0M503.7 226.3h0M507.7 243.8h0M509.6 246.1h0M512.3 245.7h0M504.1 236.6h0M501.6 238.5h0M503.1 233.7h0M493.0 238.5h0M497.2 239.1h0M499.4 237.2h0M499.9 234.1h0M523.7 251.9h0M527.1 254.2h0M528.3 251.8h0M526.1 250.1h0M518.9 239.6h0M513.7 237.6h0M538.6 279.2h0M550.4 293.9h0M549.3 291.8h0M630.3 320.6h0M580.1 314.4h0M579.0 319.5h0M527.3 323.6h0M525.0 326.4h0M525.0 341.5h0M516.4 336.4h0M519.3 310.4h0M518.9 312.8h0M534.4 307.8h0M532.8 303.4h0M530.0 304.1h0M529.3 307.2h0M618.7 244.3h0M622.0 243.9h0M618.4 239.5h0M610.2 230.1h0M617.8 251.1h0M596.2 256.9h0M598.5 258.7h0M602.0 257.9h0M609.1 234.2h0M591.0 254.2h0M628.6 340.6h0M617.0 336.6h0M619.8 336.5h0M621.5 334.0h0M514.1 230.2h0M513.2 226.8h0M509.5 226.5h0M531.3 232.0h0M526.3 235.6h0M534.3 226.6h0M529.1 223.5h0M530.7 226.1h0M521.6 226.4h0M525.5 225.9h0M572.1 242.8h0M637.4 313.0h0M526.1 332.3h0M530.4 336.2h0M533.4 334.9h0M529.2 340.4h0M618.5 232.3h0M617.5 230.3h0M603.6 254.9h0M611.2 250.5h0M587.7 241.1h0M594.3 243.3h0M591.6 240.5h0M582.5 242.8h0M583.0 239.7h0M585.7 238.8h0M625.4 336.6h0M630.9 335.1h0M630.5 332.4h0M625.0 325.4h0M615.4 334.2h0M612.0 334.6h0M609.6 331.9h0M610.8 328.3h0M572.9 240.6h0M574.6 244.4h0M576.8 243.0h0M529.4 329.0h0M533.8 328.9h0M606.9 239.3h0M581.8 252.2h0M580.4 247.2h0M617.0 331.5h0M604.3 242.7h0M602.2 247.4h0M593.9 233.8h0M595.1 230.9h0M580.7 237.3h0M578.0 237.5h0M586.5 235.8h0M584.2 233.8h0"/>
<path stroke="#fff" stroke-opacity="0.85" stroke-width="0.8" d="M638.9 244.1h0M639.6 240.9h0M637.8 236.8h0M639.2 363.8h0M637.2 368.4h0M639.5 227.2h0M638.4 230.9h0M634.7 234.2h0M490.9 259.5h0M499.3 313.1h0M493.1 360.6h0M501.7 314.8h0M491.9 299.9h0M494.6 295.2h0M497.4 301.2h0M638.1 355.3h0M492.6 247.0h0M490.9 249.0h0M490.5 239.4h0M492.0 231.8h0M498.6 322.2h0M493.5 333.4h0M502.7 318.3h0M491.2 313.2h0M490.7 303.1h0M494.4 293.1h0M496.1 291.2h0M499.1 264.0h0M607.4 370.8h0M604.8 370.3h0M554.1 370.3h0M621.3 370.5h0M639.5 292.6h0M635.3 293.9h0M497.5 261.3h0M494.6 222.6h0M492.5 309.1h0M520.4 349.8h0M491.3 338.0h0M507.4 318.7h0M505.9 317.6h0M505.3 314.7h0M507.3 322.4h0M550.0 368.8h0M551.2 366.4h0M525.7 366.2h0M525.0 370.0h0M490.6 291.6h0M490.7 294.5h0M491.2 280.6h0M498.6 299.4h0M514.3 288.9h0M517.4 289.3h0M575.5 297.3h0M546.1 334.6h0M564.9 369.1h0M586.4 361.2h0M635.1 366.7h0M631.9 368.7h0M627.6 367.2h0M625.3 369.1h0M614.6 369.6h0M589.2 356.7h0M631.0 222.0h0M528.1 266.6h0M490.9 256.6h0M491.9 228.6h0M490.6 230.4h0M526.0 363.6h0M494.3 346.5h0M492.4 344.9h0M543.8 370.3h0M534.1 362.3h0M539.9 353.6h0M492.8 368.7h0M501.6 370.2h0M495.1 287.9h0M492.0 286.7h0M502.8 294.4h0M504.0 290.4h0M515.4 278.1h0M517.4 280.1h0M566.4 311.2h0M565.7 330.0h0M568.2 331.6h0M562.1 334.9h0M560.7 316.4h0M563.5 317.9h0M557.8 344.8h0M555.1 349.5h0M555.4 343.9h0M541.1 349.1h0M573.1 368.3h0M587.9 362.7h0M579.4 366.3h0M638.9 284.0h0M636.3 270.1h0M639.1 275.7h0M634.2 283.1h0M634.4 285.3h0M639.6 257.3h0M635.6 349.4h0M611.0 348.5h0M510.2 269.3h0M537.7 294.6h0M533.2 238.3h0M530.0 265.1h0M541.3 268.7h0M550.1 364.0h0M551.0 359.6h0M528.0 350.1h0M522.7 355.8h0M524.4 358.1h0M504.0 296.7h0M517.1 294.4h0M569.5 278.3h0M577.0 276.0h0M579.0 274.0h0M553.6 305.8h0M563.5 305.7h0M588.5 342.5h0M598.7 297.1h0M599.7 301.5h0M559.1 336.1h0M552.5 316.7h0M557.2 349.9h0M558.4 354.6h0M561.5 354.4h0M558.7 346.9h0M543.0 350.4h0M546.6 349.2h0M574.6 369.6h0M587.4 366.3h0M595.6 370.3h0M632.1 273.1h0M627.4 299.5h0M629.6 250.7h0M630.3 253.7h0M606.6 260.2h0M634.3 340.4h0M610.2 354.1h0M612.6 346.6h0M611.9 343.9h0M627.3 356.2h0M638.9 330.4h0M565.0 221.7h0M555.9 230.9h0M491.4 241.8h0M493.4 245.2h0M558.8 266.0h0M536.9 257.9h0M544.5 228.1h0M504.2 356.2h0M517.8 359.1h0M508.3 343.7h0M530.3 359.9h0M514.9 294.0h0M513.3 291.2h0M580.9 280.7h0M548.1 257.7h0M565.0 251.1h0M560.5 254.6h0M558.7 260.5h0M557.0 259.0h0M570.8 262.3h0M568.4 280.7h0M545.5 304.4h0M557.1 297.9h0M555.2 297.8h0M557.5 304.0h0M588.3 340.1h0M608.4 324.5h0M607.9 326.3h0M568.2 316.5h0M569.0 318.7h0M574.2 322.9h0M602.2 302.0h0M556.8 332.7h0M563.7 319.8h0M519.1 319.2h0M513.8 309.6h0M513.5 312.2h0M542.0 322.5h0M565.6 349.8h0M563.0 350.2h0M563.2 363.0h0M561.8 360.7h0M583.7 367.4h0M628.1 296.5h0M630.8 295.1h0M625.1 263.5h0M601.4 231.9h0M591.1 267.6h0M593.3 265.6h0M594.6 273.6h0M591.1 270.5h0M637.5 347.1h0M532.3 251.8h0M554.0 230.7h0M552.3 233.8h0M552.1 222.3h0M557.3 224.9h0M496.5 228.0h0M551.6 275.0h0M555.7 276.5h0M555.0 274.6h0M550.0 277.9h0M551.6 279.4h0M536.7 232.4h0M508.9 359.9h0M512.5 364.2h0M514.6 363.0h0M502.7 346.3h0M504.3 348.1h0M584.2 278.3h0M588.0 279.2h0M542.8 254.3h0M550.8 256.2h0M563.0 256.5h0M564.8 260.6h0M559.4 250.6h0M556.4 247.8h0M581.3 268.0h0M588.8 263.1h0M567.0 225.4h0M557.8 280.1h0M566.5 288.9h0M564.3 296.6h0M636.6 302.4h0M633.8 302.7h0M584.5 335.0h0M603.7 326.6h0M600.9 325.1h0M585.8 328.5h0M583.5 328.0h0M589.5 333.0h0M591.4 330.9h0M574.2 320.5h0M577.2 308.3h0M597.0 283.7h0M590.7 316.8h0M542.1 309.9h0M540.9 312.4h0M542.0 314.2h0M516.8 323.4h0M521.7 297.0h0M518.7 300.3h0M529.2 299.1h0M579.0 349.1h0M572.7 348.9h0M574.6 348.7h0M576.7 354.0h0M577.4 369.5h0M576.1 370.8h0M601.0 289.5h0M615.2 290.9h0M622.5 294.2h0M621.7 292.7h0M605.3 299.7h0M607.5 302.5h0M609.9 264.8h0M581.3 222.1h0M625.2 231.9h0M604.0 267.1h0M602.7 268.8h0M639.4 343.1h0M602.1 346.4h0M602.7 349.4h0M609.4 344.6h0M603.3 344.1h0M594.9 347.0h0M613.0 315.5h0M620.8 319.0h0M619.2 315.9h0M561.8 221.8h0M559.5 243.8h0M503.6 244.1h0M502.3 222.0h0M498.2 223.1h0M514.8 253.7h0M513.3 250.4h0M509.8 250.9h0M517.7 254.2h0M523.5 241.4h0M548.4 287.9h0M575.4 309.7h0M571.8 307.9h0M597.7 304.5h0M594.9 309.2h0M596.8 309.5h0M612.8 309.9h0M604.4 316.0h0M606.3 313.9h0M585.0 310.4h0M587.3 311.9h0M585.0 307.4h0M516.0 329.1h0M543.3 332.0h0M543.9 334.6h0M520.1 303.2h0M617.6 268.8h0M617.4 271.9h0M606.5 287.4h0M591.6 257.2h0M592.5 221.8h0M600.8 221.9h0M621.5 229.8h0M594.6 340.9h0M594.0 342.8h0M556.7 236.5h0M553.2 236.2h0M493.3 233.1h0M534.2 230.6h0M512.4 240.5h0M590.2 223.8h0M574.5 225.7h0M554.4 292.6h0M553.6 294.2h0M629.7 317.7h0M633.8 318.1h0M639.6 326.9h0M628.8 308.3h0M630.2 313.4h0M631.1 310.9h0M577.3 313.6h0M576.8 318.9h0M531.2 346.4h0M541.0 332.1h0M610.9 232.4h0M612.1 252.4h0M603.7 236.0h0M623.8 339.3h0M511.3 221.9h0M529.7 235.3h0M525.1 232.7h0M533.0 221.8h0M529.4 228.8h0M527.0 228.8h0M522.8 221.9h0M574.8 252.8h0M588.4 225.2h0M583.0 227.2h0M638.2 318.8h0M639.2 308.9h0M528.8 333.3h0M531.7 343.6h0M534.2 344.3h0M614.1 232.6h0M616.2 234.1h0M604.3 238.5h0M592.9 246.5h0M584.5 244.9h0M627.0 331.6h0M570.7 238.5h0M573.6 248.0h0M575.2 249.7h0M606.6 250.9h0M607.8 249.6h0M614.0 241.6h0M595.0 236.4h0M592.5 237.7h0M579.5 252.0h0M614.6 326.1h0M614.1 328.2h0M574.3 233.0h0M599.0 246.4h0M594.7 248.1h0M597.8 248.0h0M593.1 228.8h0M590.1 235.6h0M591.2 233.7h0M590.5 230.6h0"/>
<path stroke="#fff" stroke-opacity="0.85" stroke-width="1.0" d="M636.7 239.6h0M494.1 301.5h0M491.9 297.2h0M498.8 303.4h0M505.2 309.3h0M493.4 323.8h0M495.3 363.8h0M501.1 272.8h0M506.3 281.2h0M509.9 284.3h0M507.0 285.6h0M505.2 283.4h0M561.4 366.9h0M554.6 365.8h0M637.8 295.7h0M638.0 222.9h0M494.1 304.6h0M492.3 306.4h0M495.0 310.5h0M514.9 349.9h0M517.0 351.0h0M506.7 313.1h0M536.9 303.4h0M498.5 326.1h0M500.8 347.1h0M497.5 344.5h0M528.8 368.0h0M499.9 277.9h0M502.5 283.1h0M499.8 285.6h0M493.0 269.5h0M497.2 296.0h0M507.1 307.0h0M573.1 299.8h0M562.2 313.3h0M554.7 363.1h0M553.1 357.2h0M547.1 331.6h0M607.7 368.9h0M602.5 363.4h0M599.7 363.1h0M583.0 362.7h0M631.7 359.1h0M628.8 358.5h0M622.6 362.6h0M628.0 362.9h0M626.6 364.9h0M624.0 364.8h0M622.8 366.9h0M613.7 363.4h0M616.3 361.6h0M613.0 368.0h0M630.4 225.7h0M533.0 289.1h0M492.0 254.3h0M493.7 256.3h0M493.1 226.9h0M522.7 361.0h0M501.3 350.4h0M499.0 353.8h0M493.2 350.5h0M524.7 291.9h0M539.6 367.7h0M531.4 363.9h0M534.2 349.8h0M501.6 367.1h0M496.2 285.2h0M492.4 284.3h0M494.9 283.1h0M499.0 294.4h0M498.1 291.4h0M505.3 305.0h0M501.3 303.6h0M503.1 305.6h0M521.1 278.8h0M523.9 282.1h0M571.6 269.7h0M569.6 268.6h0M569.2 302.4h0M570.0 299.7h0M565.1 313.7h0M579.6 297.8h0M581.5 295.7h0M545.5 329.9h0M553.8 345.6h0M549.4 345.1h0M570.6 369.5h0M556.5 357.9h0M582.5 365.4h0M637.4 286.2h0M637.3 281.9h0M634.5 277.4h0M597.4 261.2h0M638.8 250.2h0M638.1 252.9h0M588.0 354.5h0M592.1 355.9h0M611.3 361.6h0M607.3 363.1h0M505.5 269.3h0M508.2 270.4h0M554.6 267.1h0M551.2 268.4h0M532.1 283.7h0M534.0 286.3h0M532.4 280.2h0M539.4 291.7h0M531.0 271.4h0M528.7 269.8h0M531.3 274.0h0M503.9 350.4h0M532.1 295.0h0M530.1 293.2h0M500.2 333.3h0M506.4 334.6h0M503.4 332.4h0M548.2 363.3h0M548.2 360.0h0M531.6 351.5h0M524.0 351.4h0M501.6 299.7h0M502.6 301.8h0M514.1 267.5h0M512.6 270.3h0M571.9 277.9h0M568.6 273.4h0M572.9 280.5h0M549.5 305.2h0M547.9 307.4h0M559.0 305.8h0M563.8 308.5h0M633.2 295.5h0M584.6 345.2h0M596.3 296.6h0M561.2 329.1h0M553.1 320.3h0M511.3 340.2h0M509.9 345.5h0M542.4 352.9h0M570.6 345.8h0M593.4 365.6h0M597.6 366.2h0M628.0 287.4h0M626.2 285.2h0M632.1 261.5h0M600.1 282.5h0M592.8 353.2h0M590.2 352.3h0M611.6 350.9h0M612.0 324.1h0M524.3 259.2h0M501.8 260.6h0M505.0 259.1h0M501.8 263.6h0M504.9 266.0h0M511.1 260.1h0M563.2 230.2h0M563.0 233.6h0M544.6 241.4h0M518.7 234.9h0M538.9 272.1h0M548.9 265.9h0M542.0 227.9h0M505.8 352.3h0M512.6 351.6h0M508.8 350.6h0M519.6 361.3h0M517.4 364.0h0M508.7 340.9h0M507.6 297.1h0M516.7 266.5h0M516.4 263.5h0M522.1 275.2h0M523.3 268.8h0M520.3 269.6h0M525.9 271.0h0M581.0 284.3h0M554.5 259.7h0M555.2 264.3h0M594.9 260.8h0M590.6 261.7h0M578.9 257.3h0M565.5 237.6h0M558.6 277.3h0M569.6 286.5h0M556.0 288.8h0M542.7 302.9h0M554.9 303.9h0M591.4 338.9h0M605.9 332.3h0M611.2 317.7h0M591.5 327.5h0M575.6 327.4h0M571.4 304.3h0M583.5 286.7h0M591.9 292.9h0M591.2 290.4h0M596.9 291.3h0M557.7 326.0h0M553.4 333.6h0M560.1 324.8h0M567.2 320.7h0M565.4 327.0h0M521.5 317.6h0M540.4 317.1h0M542.3 319.4h0M566.9 346.2h0M561.8 344.5h0M566.7 357.2h0M568.5 360.1h0M571.5 363.7h0M571.5 361.0h0M578.5 347.0h0M630.9 276.0h0M632.1 278.2h0M623.2 286.7h0M624.9 301.0h0M615.0 268.2h0M600.9 279.3h0M599.0 277.6h0M628.1 260.4h0M621.9 263.4h0M597.4 273.1h0M593.2 271.1h0M588.8 281.9h0M588.6 287.3h0M636.2 341.7h0M607.6 353.8h0M596.1 351.0h0M599.6 352.1h0M613.1 340.4h0M633.3 331.3h0M535.8 255.7h0M533.6 255.0h0M555.3 224.2h0M549.9 227.7h0M553.2 227.4h0M564.0 241.6h0M563.3 238.9h0M543.6 274.8h0M527.6 259.1h0M529.5 260.8h0M532.1 259.3h0M542.1 236.5h0M542.6 233.5h0M514.6 359.7h0M509.2 362.6h0M503.7 343.7h0M506.0 344.6h0M506.1 346.9h0M512.2 303.9h0M511.1 301.2h0M589.2 272.6h0M540.2 255.1h0M537.8 253.7h0M543.8 256.2h0M544.9 252.2h0M553.3 257.0h0M551.8 251.7h0M550.0 253.8h0M562.1 259.3h0M566.5 252.5h0M569.9 259.7h0M581.0 270.6h0M589.3 266.6h0M575.6 264.8h0M578.0 264.7h0M567.8 239.3h0M542.7 290.9h0M555.2 280.3h0M559.0 282.8h0M563.6 287.9h0M567.8 292.2h0M638.3 300.1h0M629.4 301.5h0M632.4 301.1h0M577.3 338.0h0M584.6 338.1h0M581.8 334.2h0M601.1 323.0h0M591.5 335.2h0M593.6 333.1h0M579.7 304.0h0M599.2 291.6h0M605.2 291.9h0M597.1 287.1h0M595.6 288.8h0M592.7 288.3h0M591.1 286.4h0M581.6 306.8h0M580.2 309.2h0M587.2 316.0h0M544.4 309.4h0M509.7 324.1h0M525.2 301.2h0M528.2 301.6h0M582.6 350.1h0M576.3 350.6h0M574.6 355.1h0M612.6 276.5h0M628.1 275.4h0M602.0 285.2h0M604.2 289.5h0M600.1 287.6h0M608.1 292.5h0M615.8 294.9h0M626.6 289.8h0M605.8 296.6h0M608.5 295.2h0M610.2 302.5h0M612.9 264.5h0M614.2 255.6h0M627.1 243.3h0M586.9 257.8h0M589.7 258.6h0M599.3 229.5h0M623.5 233.8h0M628.0 232.5h0M595.3 266.7h0M599.2 263.9h0M598.1 266.0h0M638.4 340.0h0M609.2 347.9h0M591.4 343.3h0M614.7 348.0h0M614.3 350.3h0M632.0 342.0h0M633.3 344.9h0M630.1 349.3h0M616.1 339.6h0M628.7 322.8h0M629.5 325.1h0M635.1 333.5h0M638.6 336.0h0M637.4 337.6h0M635.1 337.6h0M633.8 335.5h0M533.6 242.0h0M536.3 242.9h0M536.4 245.7h0M562.3 243.7h0M558.7 246.3h0M561.3 237.8h0M561.0 235.4h0M508.2 249.1h0M502.6 246.5h0M498.4 241.7h0M500.9 241.4h0M528.0 240.7h0M525.8 240.1h0M546.2 279.1h0M544.2 277.3h0M544.8 281.3h0M548.9 235.9h0M546.2 235.8h0M550.1 233.4h0M583.9 263.5h0M586.0 262.0h0M585.2 259.8h0M582.9 259.6h0M581.9 261.8h0M543.5 285.8h0M544.1 288.5h0M558.0 290.5h0M561.0 290.8h0M558.4 294.4h0M561.2 293.4h0M585.4 321.5h0M584.8 318.0h0M593.9 306.9h0M607.4 308.1h0M610.6 308.0h0M605.9 318.4h0M608.5 314.8h0M590.7 307.6h0M587.4 305.7h0M548.1 310.4h0M545.0 313.5h0M549.6 314.6h0M528.0 347.8h0M533.2 320.7h0M535.9 315.2h0M533.0 315.2h0M522.5 303.8h0M531.2 312.7h0M609.2 276.1h0M627.2 271.8h0M625.8 266.0h0M623.2 267.6h0M629.8 270.0h0M605.6 285.2h0M616.9 297.6h0M616.1 237.4h0M607.6 257.9h0M609.8 258.1h0M611.5 255.9h0M624.9 249.6h0M624.6 245.7h0M597.9 237.3h0M594.2 258.5h0M598.2 223.0h0M595.5 223.0h0M621.2 232.2h0M625.8 240.8h0M626.4 237.9h0M624.0 236.9h0M596.3 345.0h0M600.7 343.0h0M617.4 347.5h0M621.1 349.3h0M618.4 349.5h0M621.1 339.2h0M636.2 324.0h0M621.0 305.8h0M558.9 238.8h0M551.2 241.3h0M551.1 237.9h0M505.2 229.6h0M505.2 223.6h0M509.3 240.9h0M491.7 236.1h0M497.0 231.4h0M522.6 232.8h0M524.5 254.3h0M517.5 242.2h0M513.9 242.7h0M517.3 237.2h0M542.5 278.4h0M540.6 277.3h0M540.5 281.6h0M542.7 280.6h0M570.5 249.0h0M572.8 253.8h0M593.2 225.4h0M579.6 227.3h0M553.3 290.5h0M550.5 290.0h0M631.5 315.9h0M638.1 321.8h0M625.9 308.4h0M575.7 316.0h0M581.3 317.2h0M530.6 324.1h0M518.1 339.5h0M521.8 338.7h0M533.3 347.1h0M541.3 339.4h0M542.0 336.7h0M540.2 335.2h0M521.7 309.9h0M520.9 313.9h0M522.8 311.8h0M531.7 309.2h0M534.6 304.9h0M617.1 241.7h0M623.1 241.3h0M621.9 239.2h0M612.7 228.6h0M614.8 253.1h0M610.4 254.2h0M606.2 233.7h0M586.2 255.6h0M588.3 253.2h0M587.2 249.9h0M625.7 342.1h0M515.7 223.7h0M511.1 232.0h0M508.3 229.4h0M536.9 223.4h0M518.9 223.6h0M526.7 223.4h0M577.7 254.6h0M585.2 223.7h0M526.8 329.1h0M537.5 336.7h0M538.8 339.6h0M614.9 230.5h0M606.5 255.5h0M608.0 253.8h0M586.8 244.6h0M588.7 247.5h0M624.6 334.0h0M626.9 326.8h0M625.7 329.1h0M571.3 234.6h0M576.0 240.4h0M580.0 244.4h0M531.2 327.3h0M530.2 331.2h0M601.9 251.6h0M606.4 246.3h0M603.3 249.8h0M606.5 242.1h0M611.6 244.5h0M608.1 244.4h0M583.9 249.6h0M583.1 247.5h0M578.6 249.3h0M620.4 331.6h0M622.9 329.1h0M575.0 230.0h0M577.7 230.4h0M604.2 245.4h0M602.5 240.7h0M597.2 243.3h0M599.0 240.7h0M596.2 253.1h0M599.0 250.7h0M593.8 252.0h0M581.2 234.9h0M578.7 233.4h0M588.5 229.1h0"/>
<path stroke="#fff" stroke-opacity="0.85" stroke-width="1.4" d="M508.5 272.9h0M499.9 309.9h0M495.1 320.7h0M502.2 321.0h0M497.0 267.6h0M497.6 270.8h0M558.3 368.1h0M633.6 354.0h0M637.6 360.4h0M521.4 368.0h0M496.3 278.8h0M515.8 284.4h0M518.5 286.7h0M574.3 293.3h0M554.4 315.4h0M551.9 353.4h0M603.5 366.2h0M632.2 290.5h0M538.7 298.0h0M534.4 368.5h0M541.4 359.0h0M540.1 363.1h0M501.7 364.2h0M528.2 287.3h0M581.1 299.9h0M547.2 341.7h0M634.1 273.6h0M593.9 359.0h0M598.4 359.3h0M537.2 289.6h0M529.2 275.4h0M536.5 264.8h0M530.4 237.8h0M513.4 273.3h0M516.5 275.1h0M564.0 301.3h0M581.1 344.8h0M594.1 300.0h0M587.1 301.1h0M552.5 337.9h0M544.7 354.2h0M566.8 340.1h0M569.7 340.1h0M632.7 265.0h0M596.4 278.3h0M589.2 348.6h0M498.8 246.7h0M545.8 271.9h0M534.7 278.1h0M550.0 262.8h0M506.2 359.7h0M503.1 340.6h0M506.0 338.5h0M534.3 357.3h0M529.2 357.6h0M510.0 292.1h0M510.1 295.3h0M520.0 260.6h0M522.9 261.4h0M524.6 265.1h0M519.9 273.4h0M580.6 292.3h0M561.2 275.9h0M570.2 282.5h0M562.8 283.7h0M542.5 299.0h0M553.3 300.9h0M597.8 333.0h0M571.4 324.8h0M603.1 305.1h0M551.7 324.6h0M567.9 324.2h0M545.2 319.0h0M513.2 318.7h0M512.5 336.3h0M541.1 344.0h0M543.0 341.6h0M568.0 353.5h0M585.7 368.3h0M627.5 281.6h0M631.0 281.0h0M626.6 256.7h0M622.7 256.1h0M620.1 259.5h0M631.4 243.4h0M623.5 229.1h0M607.5 338.4h0M623.1 351.6h0M505.6 255.0h0M517.7 231.8h0M517.9 248.2h0M531.6 257.2h0M539.2 237.9h0M536.0 235.9h0M512.2 357.6h0M541.8 246.5h0M567.8 232.8h0M572.3 223.5h0M574.0 335.6h0M576.6 304.9h0M603.6 294.2h0M512.9 322.5h0M519.2 297.6h0M580.0 356.5h0M579.5 368.3h0M609.8 270.5h0M611.2 296.3h0M600.7 225.3h0M606.6 342.6h0M505.0 249.6h0M508.1 237.9h0M508.6 254.1h0M519.5 251.3h0M544.8 233.2h0M545.5 296.2h0M627.3 317.0h0M635.0 306.7h0M611.6 313.4h0M546.7 315.4h0M524.1 345.9h0M537.4 309.5h0M528.6 313.8h0M606.9 278.6h0M608.2 282.3h0M611.6 282.9h0M620.7 311.7h0M554.9 243.4h0M520.7 230.2h0M569.9 251.1h0M577.2 224.0h0M632.8 321.0h0M627.4 313.7h0M624.6 311.2h0M518.8 333.4h0M522.4 334.9h0M538.4 328.0h0M616.7 247.7h0M583.1 255.4h0M507.5 223.5h0M538.1 342.4h0M613.3 247.6h0M628.3 337.3h0M532.5 331.5h0M613.3 239.0h0M609.8 237.6h0M618.9 324.9h0M622.4 326.6h0M577.0 234.8h0M585.0 230.5h0"/>
<path stroke="#fff" stroke-opacity="0.85" stroke-width="1.6" d="M636.0 224.6h0M495.5 367.0h0M493.2 288.5h0M633.2 247.6h0M583.7 280.5h0M561.3 252.4h0M525.9 319.7h0M621.3 277.9h0M499.2 225.6h0M518.6 326.3h0M636.5 316.9h0"/>
</g>
<rect x="489.2" y="220.2" width="152" height="151.5" fill="none" stroke="#9a9a9a" stroke-width="0.6"/>
<g><rect x="115.2" y="324.3" width="47.3" height="47.2" fill="#b9581c"/>
<rect x="115.2" y="324.3" width="47.3" height="47.2" filter="url(#noise)"/>
<circle cx="139.1" cy="348.5" r="7.0" fill="none" stroke="#f2b27c" stroke-width="2.6" stroke-opacity="0.72" filter="url(#blur1)"/>
<circle cx="139.1" cy="348.5" r="5.6" fill="#7a0c02"/>
<circle cx="139.1" cy="348.5" r="4.2" fill="#6a0500"/>
<circle cx="139.1" cy="348.5" r="0.6" fill="#f0d0c0"/></g>
<g><rect x="275.2" y="324.3" width="47.3" height="47.2" fill="#b9581c"/>
<rect x="275.2" y="324.3" width="47.3" height="47.2" filter="url(#noise)"/>
<circle cx="299.1" cy="348.5" r="7.0" fill="none" stroke="#f2b27c" stroke-width="2.6" stroke-opacity="0.72" filter="url(#blur1)"/>
<circle cx="299.1" cy="348.5" r="5.6" fill="#7a0c02"/>
<circle cx="299.1" cy="348.5" r="4.2" fill="#6a0500"/>
<circle cx="299.1" cy="348.5" r="0.6" fill="#f0d0c0"/></g>
<g><rect x="435.2" y="324.3" width="47.3" height="47.2" fill="#b9581c"/>
<rect x="435.2" y="324.3" width="47.3" height="47.2" filter="url(#noise)"/>
<circle cx="459.1" cy="348.5" r="7.0" fill="none" stroke="#f2b27c" stroke-width="2.6" stroke-opacity="0.72" filter="url(#blur1)"/>
<circle cx="459.1" cy="348.5" r="5.6" fill="#7a0c02"/>
<circle cx="459.1" cy="348.5" r="4.2" fill="#6a0500"/>
<circle cx="459.1" cy="348.5" r="0.6" fill="#f0d0c0"/></g>
<g><rect x="593.9" y="324.3" width="47.3" height="47.2" fill="#b9581c"/>
<rect x="593.9" y="324.3" width="47.3" height="47.2" filter="url(#noise)"/>
<circle cx="617.8" cy="348.5" r="7.0" fill="none" stroke="#f2b27c" stroke-width="2.6" stroke-opacity="0.72" filter="url(#blur1)"/>
<circle cx="617.8" cy="348.5" r="5.6" fill="#7a0c02"/>
<circle cx="617.8" cy="348.5" r="4.2" fill="#6a0500"/>
<circle cx="617.8" cy="348.5" r="0.6" fill="#f0d0c0"/></g>
<text x="36.7" y="384.8" font-size="8.3" fill="#222" textLength="101.3">(i) <tspan font-style="italic">T</tspan><tspan font-size="5.6" dy="2">p</tspan><tspan dy="-2"></tspan> = 10<tspan font-size="5.6" dy="-3">−3</tspan><tspan dy="3"></tspan>, <tspan font-style="italic">Θ</tspan> = 6.16 × 10<tspan font-size="5.6" dy="-3">−2</tspan><tspan dy="3"></tspan></text>
<text x="187.8" y="384.8" font-size="8.3" fill="#222" textLength="118.7">(ii) <tspan font-style="italic">T</tspan><tspan font-size="5.6" dy="2">p</tspan><tspan dy="-2"></tspan> = 2 × 10<tspan font-size="5.6" dy="-3">−4</tspan><tspan dy="3"></tspan>, <tspan font-style="italic">Θ</tspan> = 2.05 × 10<tspan font-size="5.6" dy="-3">−2</tspan><tspan dy="3"></tspan></text>
<text x="352.7" y="384.8" font-size="8.3" fill="#222" textLength="109.7">(iii) <tspan font-style="italic">T</tspan><tspan font-size="5.6" dy="2">p</tspan><tspan dy="-2"></tspan> = 10<tspan font-size="5.6" dy="-3">−6</tspan><tspan dy="3"></tspan>, <tspan font-style="italic">Θ</tspan> = 4.90 × 10<tspan font-size="5.6" dy="-3">−3</tspan><tspan dy="3"></tspan></text>
<text x="521.5" y="384.8" font-size="8.3" fill="#222" textLength="88.6">(iv) INC, <tspan font-style="italic">Θ</tspan> = 1.30 × 10<tspan font-size="5.6" dy="-3">−3</tspan><tspan dy="3"></tspan></text>
<rect x="651.2" y="231" width="6.9" height="136.5" fill="url(#cbar)" stroke="#555" stroke-width="0.5"/>
<line x1="658.1" y1="231" x2="660.8" y2="231" stroke="#888" stroke-width="0.6"/>
<text x="664.2" y="233.6" font-size="7.2" text-anchor="start" fill="#333" font-weight="normal" font-style="normal" >0.10</text>
<line x1="658.1" y1="299.2" x2="660.8" y2="299.2" stroke="#888" stroke-width="0.6"/>
<text x="664.2" y="301.8" font-size="7.2" text-anchor="start" fill="#333" font-weight="normal" font-style="normal" >0.05</text>
<line x1="658.1" y1="367.5" x2="660.8" y2="367.5" stroke="#888" stroke-width="0.6"/>
<text x="664.2" y="370.1" font-size="7.2" text-anchor="start" fill="#333" font-weight="normal" font-style="normal" >0</text>
<text x="652" y="226.5" font-size="7.5" text-anchor="start" fill="#222" font-weight="normal" font-style="italic" >Θ</text>
</svg></body></html>
